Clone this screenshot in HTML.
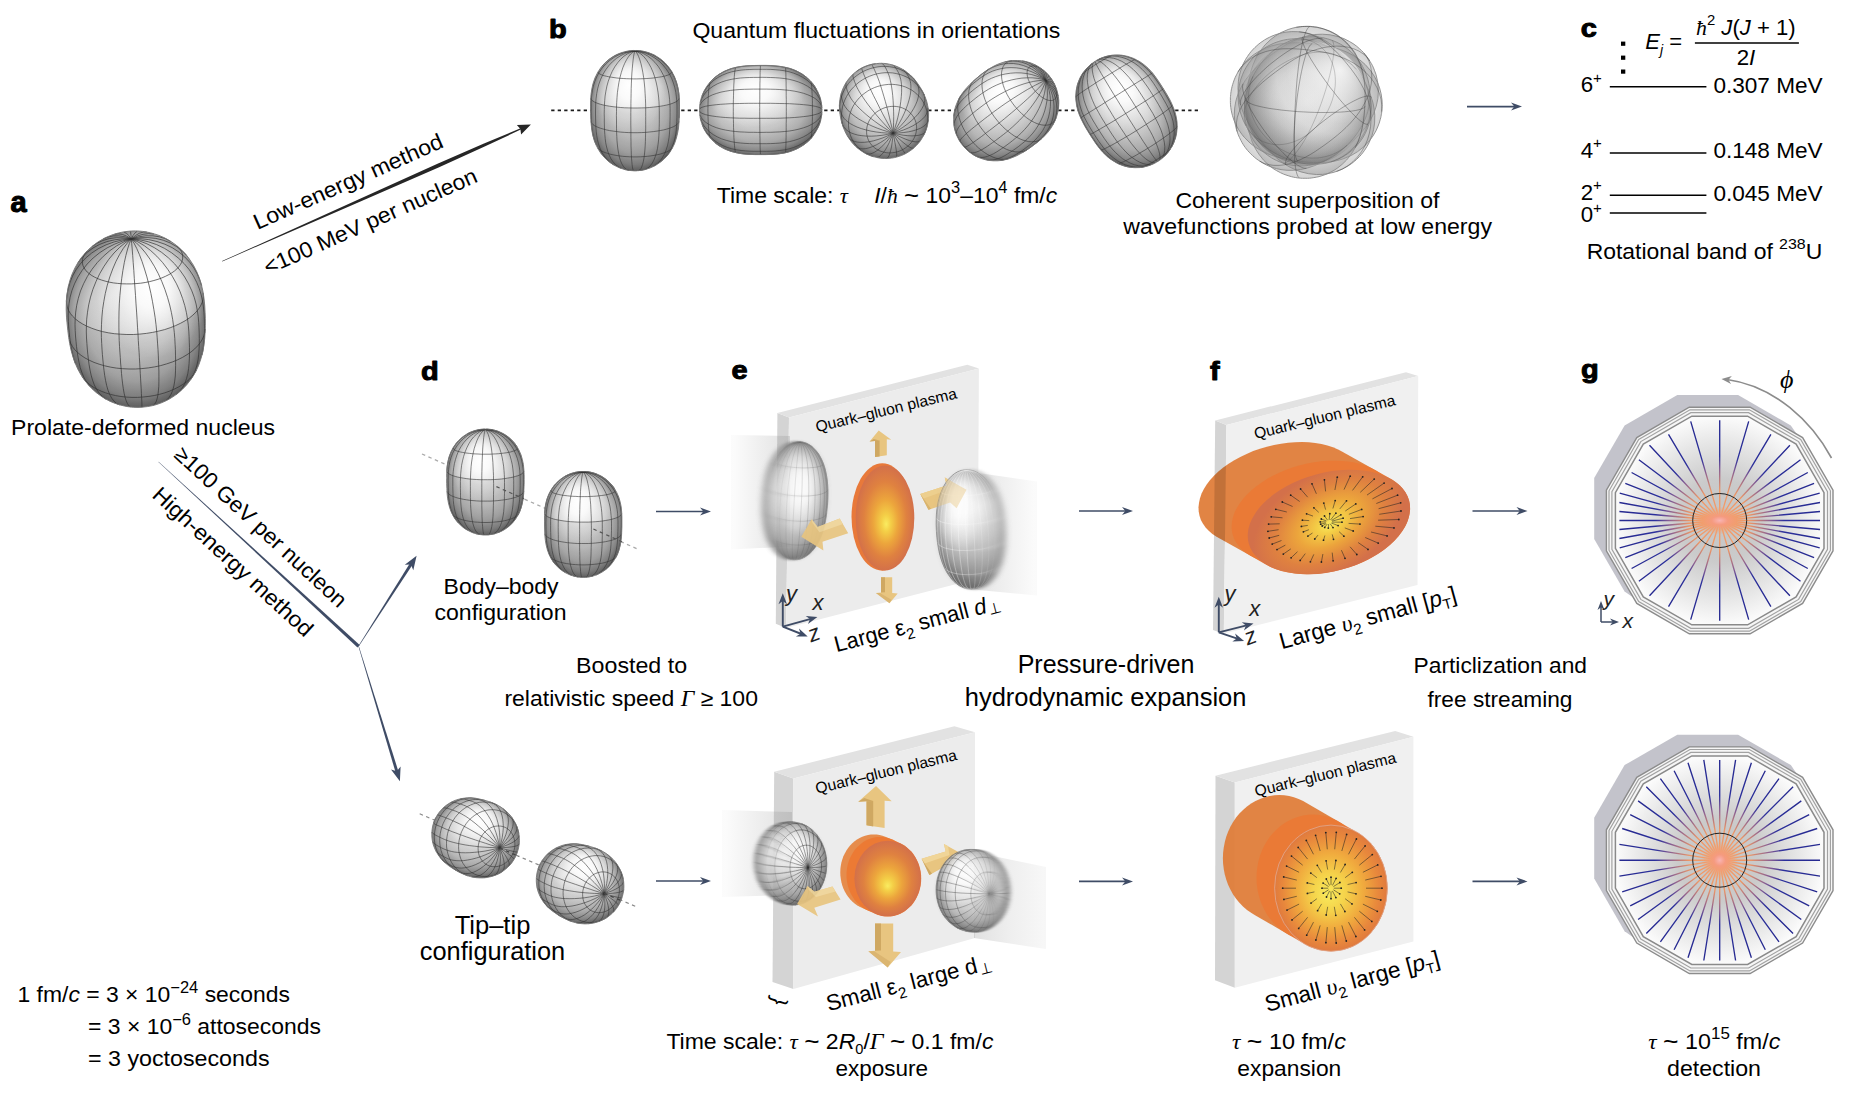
<!DOCTYPE html>
<html><head><meta charset="utf-8"><title>Imaging nuclear shapes in high-energy collisions</title>
<style>
html,body{margin:0;padding:0;background:#fff;}
body{width:1864px;height:1104px;overflow:hidden;}
svg{display:block;font-family:"Liberation Sans", sans-serif;}
</style></head><body>
<svg width="1864" height="1104" viewBox="0 0 1864 1104">
<defs>
<radialGradient id="e1" gradientUnits="userSpaceOnUse" cx="0" cy="0" r="1.02" gradientTransform="translate(136.1 318.9) rotate(-93.4) scale(89.3 71)"><stop offset="0" stop-color="#e6e6e6"/><stop offset="0.42" stop-color="#dedede"/><stop offset="0.68" stop-color="#c8c8c8"/><stop offset="0.87" stop-color="#a2a2a2"/><stop offset="1" stop-color="#747474"/></radialGradient>
<radialGradient id="e1h" gradientUnits="userSpaceOnUse" cx="0" cy="0" r="1" gradientTransform="translate(151.7 286.8) rotate(-93.4) scale(71.4 56.8)"><stop offset="0" stop-color="#fff" stop-opacity="1.0"/><stop offset="0.3" stop-color="#fff" stop-opacity="0.85"/><stop offset="0.6" stop-color="#fff" stop-opacity="0.40"/><stop offset="1" stop-color="#fff" stop-opacity="0"/></radialGradient>
<linearGradient id="e1s" gradientUnits="userSpaceOnUse" x1="114.8" y1="229.7" x2="157.4" y2="408.2"><stop offset="0.35" stop-color="#000" stop-opacity="0"/><stop offset="1" stop-color="#000" stop-opacity="0.2"/></linearGradient>
<path id="e1p" d="M66.2 308.1L66.4 300.3L66.9 295L68.2 286.9L70.1 279.8L71.9 274.6L75 267.8L77.7 263L81.3 257.7L85.3 252.9L89 249.1L93.6 245.2L97.7 242.2L101.1 240.1L105.9 237.5L110.1 235.7L113.1 234.6L117.2 233.3L121.1 232.4L124.2 231.8L128.2 231.3L131.4 231L135.5 230.9L139.5 231.1L142.6 231.4L146.6 232L150.8 232.9L154.4 233.9L158.9 235.4L163.3 237.3L166.9 239.1L172 242.2L176.3 245.3L181 249.4L185.4 253.9L188.8 258.2L193.4 265.2L196.8 271.8L198.9 276.9L201.4 284.7L203 291.7L203.9 297.6L204.7 305.1L205.1 312.5L205.3 318.7L205.3 325.8L205.2 331.4L204.7 338.6L203.8 346L202.8 351.8L201 358.5L198.7 365.2L196.5 370.1L193.4 375.7L189.4 381.4L186.5 385.1L182.2 389.5L177.6 393.5L174 396.1L169.4 399L165.6 401L160.8 403.1L156 404.7L151.9 405.8L147.4 406.6L142.2 407.2L138 407.4L133.5 407.3L128.1 406.7L124.3 406L119.1 404.7L115.2 403.4L110.2 401.4L105.1 398.7L101.3 396.3L96.4 392.7L91.7 388.5L88.1 384.6L84.1 379.6L80.6 374.2L77.7 368.9L74.9 362.5L72.7 355.9L71.1 350.3L69.7 343.7L68.7 337.6L67.8 330.5L67 322.8L66.5 317.2L66.2 309.7Z"/>
<clipPath id="e1c"><use href="#e1p"/></clipPath>
<radialGradient id="e2" gradientUnits="userSpaceOnUse" cx="0" cy="0" r="1.02" gradientTransform="translate(635 110.7) rotate(-90) scale(60.8 46)"><stop offset="0" stop-color="#e6e6e6"/><stop offset="0.42" stop-color="#dedede"/><stop offset="0.68" stop-color="#c8c8c8"/><stop offset="0.87" stop-color="#a2a2a2"/><stop offset="1" stop-color="#747474"/></radialGradient>
<radialGradient id="e2h" gradientUnits="userSpaceOnUse" cx="0" cy="0" r="1" gradientTransform="translate(629.5 85.1) rotate(-90) scale(48.6 36.8)"><stop offset="0" stop-color="#fff" stop-opacity="1.0"/><stop offset="0.3" stop-color="#fff" stop-opacity="0.85"/><stop offset="0.6" stop-color="#fff" stop-opacity="0.40"/><stop offset="1" stop-color="#fff" stop-opacity="0"/></radialGradient>
<linearGradient id="e2s" gradientUnits="userSpaceOnUse" x1="621.2" y1="49.9" x2="648.8" y2="171.4"><stop offset="0.35" stop-color="#000" stop-opacity="0"/><stop offset="1" stop-color="#000" stop-opacity="0.2"/></linearGradient>
<path id="e2p" d="M590.5 106.8L590.6 100.6L591 94.5L591.8 89.1L593 83.6L594.9 78.1L597.5 72.8L600.8 67.6L604.9 63L608.6 59.7L612.6 56.9L615.7 55.1L618.7 53.7L622.1 52.5L624.2 51.9L626.2 51.4L628 51.1L629.6 50.8L630.5 50.7L632.1 50.6L632.9 50.6L633.9 50.5L634.9 50.5L636.1 50.5L636.9 50.5L637.7 50.6L639.1 50.7L640 50.8L641.7 51L642.7 51.2L644.6 51.6L648 52.5L651.2 53.7L654.4 55.2L657.3 56.8L661.4 59.6L665.1 62.9L669.1 67.6L671.8 71.6L674.6 77L676.6 82.5L678 88L679 94.4L679.3 99.6L679.5 105.5L679.4 111.3L679.3 117L679 121.9L678.5 127.9L677.6 133.1L676.3 138.4L674.5 143.7L672.4 148L669.9 152.2L667 156L663.6 159.5L661 161.7L656.8 164.6L654.4 166L651.2 167.5L648.8 168.4L646.3 169.2L644.4 169.7L642.1 170.2L640.3 170.4L638.3 170.6L636.2 170.8L634.3 170.8L632.5 170.7L630.2 170.5L628.4 170.2L626.1 169.8L623.8 169.2L621.4 168.5L618.9 167.6L616.5 166.4L613.3 164.7L610.2 162.6L607.5 160.5L604 157.1L600.9 153.4L598.3 149.3L596.1 145.1L594.1 139.8L592.6 134.5L591.9 130.4L591.2 124.4L590.8 119.4L590.6 113.7L590.5 108Z"/>
<clipPath id="e2c"><use href="#e2p"/></clipPath>
<radialGradient id="e3" gradientUnits="userSpaceOnUse" cx="0" cy="0" r="1.02" gradientTransform="translate(760.7 110) rotate(180) scale(61.8 46.2)"><stop offset="0" stop-color="#e6e6e6"/><stop offset="0.42" stop-color="#dedede"/><stop offset="0.68" stop-color="#c8c8c8"/><stop offset="0.87" stop-color="#a2a2a2"/><stop offset="1" stop-color="#747474"/></radialGradient>
<radialGradient id="e3h" gradientUnits="userSpaceOnUse" cx="0" cy="0" r="1" gradientTransform="translate(755.2 90.6) rotate(180) scale(49.4 37)"><stop offset="0" stop-color="#fff" stop-opacity="1.0"/><stop offset="0.3" stop-color="#fff" stop-opacity="0.85"/><stop offset="0.6" stop-color="#fff" stop-opacity="0.40"/><stop offset="1" stop-color="#fff" stop-opacity="0"/></radialGradient>
<linearGradient id="e3s" gradientUnits="userSpaceOnUse" x1="746.8" y1="63.8" x2="774.6" y2="156.3"><stop offset="0.35" stop-color="#000" stop-opacity="0"/><stop offset="1" stop-color="#000" stop-opacity="0.2"/></linearGradient>
<path id="e3p" d="M699.5 109.8L699.5 108.8L699.6 108L699.6 106.9L699.7 105.9L699.9 104.1L700 103.4L700.3 101.7L700.8 99.8L701.6 96.7L702.9 93.5L704.3 90.5L706.8 86.3L709.7 82.5L714.1 78L719 74.3L724.3 71.3L731 68.6L737.7 66.9L744.2 66L748 65.7L754.1 65.5L760.1 65.4L766 65.4L770.8 65.5L777.1 66L783.6 66.9L790.4 68.5L795.8 70.6L802.3 74.1L807.2 77.8L812.6 83.4L814.5 86L817.7 91.5L819.6 96.1L820.6 99.3L821 101.1L821.4 103L821.6 104.7L821.8 106.3L821.8 106.7L821.9 107.1L821.9 108.5L821.9 109L822 109.5L822 110.3L821.9 110.9L821.9 111.5L821.9 112.9L821.8 113.5L821.8 113.9L821.6 115.6L821.3 117.4L820.6 120.6L819.7 123.8L818.4 127L815.4 132.6L811.7 137.7L808.4 141.2L803.5 145L797.1 148.8L790.3 151.5L785 152.9L778.4 153.9L772 154.4L766 154.6L761.2 154.6L755.3 154.6L749.2 154.4L742.9 153.9L737.7 153.1L731 151.4L725.5 149.3L719 145.8L715.3 143L711.8 139.8L706.8 133.8L704.3 129.6L702.8 126.4L701.7 123.3L700.7 120.1L700.3 118.3L700 116.6L699.9 116L699.7 114.2L699.7 113.5L699.6 112.7L699.6 111.6L699.5 111L699.5 110.2Z"/>
<radialGradient id="e4" gradientUnits="userSpaceOnUse" cx="0" cy="0" r="1.02" gradientTransform="translate(883.7 111) rotate(-113) scale(48.3 43.8)"><stop offset="0" stop-color="#e6e6e6"/><stop offset="0.42" stop-color="#dedede"/><stop offset="0.68" stop-color="#c8c8c8"/><stop offset="0.87" stop-color="#a2a2a2"/><stop offset="1" stop-color="#747474"/></radialGradient>
<radialGradient id="e4h" gradientUnits="userSpaceOnUse" cx="0" cy="0" r="1" gradientTransform="translate(878.5 91) rotate(-113) scale(38.6 35)"><stop offset="0" stop-color="#fff" stop-opacity="1.0"/><stop offset="0.3" stop-color="#fff" stop-opacity="0.85"/><stop offset="0.6" stop-color="#fff" stop-opacity="0.40"/><stop offset="1" stop-color="#fff" stop-opacity="0"/></radialGradient>
<linearGradient id="e4s" gradientUnits="userSpaceOnUse" x1="870.6" y1="63.4" x2="896.9" y2="158.7"><stop offset="0.35" stop-color="#000" stop-opacity="0"/><stop offset="1" stop-color="#000" stop-opacity="0.2"/></linearGradient>
<path id="e4p" d="M839.4 105.9L839.5 103L839.9 99.5L840.3 97.1L841 94.3L842 91L843.3 87.8L844.7 85L846.4 82.1L847.7 80.2L849.8 77.6L852.6 74.6L855 72.5L858.3 70.1L861.9 68L864.6 66.7L868.5 65.3L872.4 64.2L876.5 63.6L879.7 63.3L883.8 63.4L886.1 63.6L889.4 64.2L892.7 65L895.9 66.1L899.1 67.5L902.2 69.1L905.2 70.9L907.5 72.7L910.2 74.9L912.3 77L914.3 79.2L916.2 81.5L917.3 83L918.7 85L920.3 87.5L921.6 89.6L922.8 91.8L924.1 94.5L924.9 96.4L925.8 98.8L926.8 101.8L927.6 105.3L928.2 108.4L928.6 112.5L928.6 115L928.5 118.6L928.1 122.1L927.4 125.6L926.4 129L925.2 132.2L924.2 134.4L922.5 137.4L920.4 140.8L918.3 143.4L916.1 145.8L913.2 148.5L910.9 150.3L908.3 152L904.9 154L901.3 155.6L897.5 156.8L894.5 157.6L891.6 158.1L887.7 158.4L884.4 158.5L880.4 158.2L877.2 157.6L872.9 156.5L870.6 155.7L866.9 154.2L863.8 152.5L861.3 150.9L858.4 148.8L855.7 146.5L853.9 144.7L851.5 141.9L849.1 138.6L847.4 136L845.9 133.3L844.6 130.5L843.6 128.1L842.8 125.7L841.7 122.4L841.1 120.1L840.5 117.1L840.1 114.8L839.8 112.9L839.5 109.9L839.4 107Z"/>
<radialGradient id="e5" gradientUnits="userSpaceOnUse" cx="0" cy="0" r="1.02" gradientTransform="translate(1006.2 110.8) rotate(142.4) scale(56.1 45)"><stop offset="0" stop-color="#e6e6e6"/><stop offset="0.42" stop-color="#dedede"/><stop offset="0.68" stop-color="#c8c8c8"/><stop offset="0.87" stop-color="#a2a2a2"/><stop offset="1" stop-color="#747474"/></radialGradient>
<radialGradient id="e5h" gradientUnits="userSpaceOnUse" cx="0" cy="0" r="1" gradientTransform="translate(1000.8 90) rotate(142.4) scale(44.9 36)"><stop offset="0" stop-color="#fff" stop-opacity="1.0"/><stop offset="0.3" stop-color="#fff" stop-opacity="0.85"/><stop offset="0.6" stop-color="#fff" stop-opacity="0.40"/><stop offset="1" stop-color="#fff" stop-opacity="0"/></radialGradient>
<linearGradient id="e5s" gradientUnits="userSpaceOnUse" x1="992.7" y1="61.3" x2="1019.7" y2="160.2"><stop offset="0.35" stop-color="#000" stop-opacity="0"/><stop offset="1" stop-color="#000" stop-opacity="0.2"/></linearGradient>
<path id="e5p" d="M953.6 118.8L953.8 115L954.3 112L955.2 107.8L956.2 104.9L957.9 100.8L959.4 97.7L961.8 94L964.4 90.5L966.8 87.7L970 84.3L972.5 81.9L975.9 78.9L978.8 76.4L982.4 73.5L986.2 70.8L989.3 68.7L994.1 66L997.7 64.3L1002.1 62.7L1005.4 61.7L1010 60.9L1014.1 60.5L1017.5 60.5L1021.5 60.8L1024.9 61.3L1028.6 62.3L1031.1 63.1L1034.5 64.5L1037.2 65.9L1039.3 67.2L1042 69.1L1043.7 70.4L1045.7 72.2L1047.2 73.7L1049 75.7L1050.7 77.9L1051.9 79.7L1053.3 82L1054.3 83.8L1055.4 86.3L1056.3 88.4L1057.2 91.2L1057.9 94.2L1058.4 96.8L1058.8 100.4L1058.8 103.2L1058.6 107L1058.1 111L1057.3 114.3L1056.1 118.2L1054.7 121.4L1052.5 125.6L1050.7 128.5L1047.6 132.6L1044.5 135.9L1041.8 138.6L1038.2 141.7L1035.3 143.9L1031.7 146.6L1028.5 148.8L1023.9 151.8L1019.9 154L1017 155.6L1012.7 157.4L1009.5 158.6L1005.2 159.7L1001.9 160.4L997.5 160.8L993.4 160.8L990.1 160.5L986.5 160L983.4 159.2L980.1 158.1L977.4 157L974.3 155.4L971.5 153.6L969.4 152L967 150L965.1 148.1L962.8 145.5L961.1 143.3L959.2 140.4L957.8 137.7L956.6 135.2L955.5 132.1L954.8 129.5L954.1 126.1L953.7 123.3L953.6 119.5Z"/>
<radialGradient id="e6" gradientUnits="userSpaceOnUse" cx="0" cy="0" r="1.02" gradientTransform="translate(1126.5 111.4) rotate(-121.9) scale(59.7 44.8)"><stop offset="0" stop-color="#e6e6e6"/><stop offset="0.42" stop-color="#dedede"/><stop offset="0.68" stop-color="#c8c8c8"/><stop offset="0.87" stop-color="#a2a2a2"/><stop offset="1" stop-color="#747474"/></radialGradient>
<radialGradient id="e6h" gradientUnits="userSpaceOnUse" cx="0" cy="0" r="1" gradientTransform="translate(1121.1 87.9) rotate(-121.9) scale(47.7 35.9)"><stop offset="0" stop-color="#fff" stop-opacity="1.0"/><stop offset="0.3" stop-color="#fff" stop-opacity="0.85"/><stop offset="0.6" stop-color="#fff" stop-opacity="0.40"/><stop offset="1" stop-color="#fff" stop-opacity="0"/></radialGradient>
<linearGradient id="e6s" gradientUnits="userSpaceOnUse" x1="1113" y1="55.4" x2="1139.9" y2="167.3"><stop offset="0.35" stop-color="#000" stop-opacity="0"/><stop offset="1" stop-color="#000" stop-opacity="0.2"/></linearGradient>
<path id="e6p" d="M1075.7 97.2L1076.3 89.8L1077.6 83.9L1079.9 78.2L1082.2 74.2L1084.9 70.4L1087 68L1089.3 65.7L1090.6 64.5L1091.9 63.5L1092.4 63.2L1093.5 62.4L1093.9 62.1L1094.7 61.5L1095.5 61.1L1096.3 60.5L1096.7 60.3L1098.2 59.5L1098.5 59.4L1100.2 58.5L1103.2 57.4L1106.3 56.4L1110.9 55.4L1117.1 55L1121.7 55.2L1127.7 56.4L1133.3 58.3L1139.7 61.6L1144.3 64.9L1148.4 68.5L1152.8 73.3L1155.8 77.3L1159.2 82.2L1161.7 86.1L1164.8 91L1167.2 95L1170.1 100.2L1172.2 104.7L1174.6 110.7L1176 115.9L1177 121.6L1177.2 127.3L1176.6 133.2L1175.6 137.7L1173.5 143.4L1172.1 146.3L1169.6 150.3L1168.5 151.8L1166.4 154.3L1165.1 155.6L1163.8 156.9L1162.5 158L1162 158.5L1160.9 159.3L1160.3 159.8L1159.7 160.2L1158.7 160.9L1157.8 161.4L1156.9 162L1156.3 162.3L1155.4 162.9L1154.5 163.3L1153.4 163.9L1152.6 164.2L1151.1 164.8L1149.3 165.5L1147.7 166L1145.8 166.5L1142.7 167.2L1139.4 167.6L1134.8 167.7L1130.2 167.3L1125.7 166.4L1120 164.5L1117.3 163.3L1111.2 159.6L1107.8 157.1L1103 152.5L1099.6 148.6L1095.9 143.7L1093.3 139.8L1090.1 134.9L1087.7 131L1085.3 127L1083.6 123.9L1080.8 118.3L1079.3 114.8L1077.6 109.7L1076.6 105.7L1075.8 98.6Z"/>
<radialGradient id="e7" gradientUnits="userSpaceOnUse" cx="0" cy="0" r="1.02" gradientTransform="translate(1306 102.3) rotate(-87.2) scale(76.7 60.7)"><stop offset="0" stop-color="#e2e2e2"/><stop offset="0.5" stop-color="#d2d2d2"/><stop offset="0.82" stop-color="#aeaeae"/><stop offset="1" stop-color="#828282"/></radialGradient>
<path id="e7p" d="M1246.7 107.3L1246.9 99.5L1247.3 93.3L1248.1 85.4L1249.1 78.8L1250.6 72.2L1252.8 65.4L1256.4 57.1L1259.3 52.2L1265.1 44.8L1270.8 39.4L1275.6 35.8L1280.7 32.7L1288.1 29.5L1292 28.3L1296.1 27.3L1300.3 26.7L1302.4 26.5L1304.7 26.4L1306.7 26.3L1307.2 26.3L1308.3 26.3L1309.8 26.4L1310.5 26.4L1311.2 26.5L1312 26.5L1312.6 26.6L1314.8 26.9L1317.3 27.2L1319.5 27.7L1323.5 28.8L1329.2 30.8L1333 32.6L1338.2 35.6L1344.5 40.5L1348.7 44.6L1354.6 52.2L1358.3 58.9L1361.1 65.7L1363.1 72.7L1364.6 81.2L1365.1 86.4L1365.4 94.4L1365.3 102.3L1364.9 108.5L1364.3 114.9L1363.5 121.2L1362 129.1L1360.2 135.9L1357.7 142.6L1354.4 149.2L1350.3 155.5L1346.6 160L1342.2 164.3L1337.7 167.9L1334.1 170.3L1330 172.5L1325.9 174.4L1322 175.7L1319.1 176.6L1316.3 177.2L1313.9 177.6L1311.3 178L1309.5 178.2L1307.6 178.3L1305.9 178.3L1304.1 178.3L1302.6 178.3L1300.8 178.2L1299 178L1297.6 177.9L1295.4 177.5L1293.6 177.2L1291.5 176.7L1288.8 175.9L1286 175L1283.5 174.1L1280.7 172.8L1276.7 170.7L1273.1 168.5L1268 164.5L1263.6 160.2L1258.9 154.2L1255.6 149.1L1252.4 142.3L1250.5 137.1L1248.7 130.1L1247.4 121.9L1246.9 115.4L1246.7 108.9Z"/>
<radialGradient id="e8" gradientUnits="userSpaceOnUse" cx="0" cy="0" r="1.02" gradientTransform="translate(1306.3 102.4) rotate(143.1) scale(76.5 60.7)"><stop offset="0" stop-color="#e2e2e2"/><stop offset="0.5" stop-color="#d2d2d2"/><stop offset="0.82" stop-color="#aeaeae"/><stop offset="1" stop-color="#828282"/></radialGradient>
<path id="e8p" d="M1234.3 114.1L1234.7 108L1235.7 101.9L1236.8 97.7L1238.7 92.3L1242 85.6L1245.8 79.5L1250.2 73.9L1253.7 70L1259.4 64.4L1264.4 60.1L1269.2 56.3L1275.4 51.7L1280.8 48L1287.7 43.7L1293.9 40.6L1302 37.4L1309.1 35.5L1314.8 34.5L1322.5 34.2L1330.3 34.8L1338 36.6L1343.8 38.6L1349.3 41.4L1353 43.6L1356.5 46.1L1359.6 48.8L1361.3 50.4L1363 52L1363.6 52.7L1364.9 54.3L1365.6 55L1366.2 55.8L1366.9 56.8L1367.8 57.9L1368.4 58.8L1368.8 59.4L1369.8 61L1370.2 61.7L1371.4 63.7L1372.5 65.7L1373.5 67.9L1374.4 70.2L1375.9 74.2L1377.3 80.2L1378 84.3L1378.3 92.3L1377.9 98.4L1376.3 106.1L1373.8 113.3L1370.4 120.1L1365.5 127.5L1362 131.7L1356.3 137.7L1351.3 142.2L1345.2 147.2L1339 151.7L1332.4 156.2L1325.6 160.3L1321 162.7L1314.7 165.6L1307.9 167.9L1300.7 169.5L1293.3 170.3L1287.1 170.3L1281 169.6L1276.7 168.7L1270.9 166.9L1266.6 165.1L1262.3 162.8L1258.6 160.4L1256.1 158.6L1254.2 157L1252.6 155.6L1250.7 153.8L1249.2 152.2L1247.7 150.6L1246.4 149L1245.1 147.3L1244.2 146L1243 144.2L1241.9 142.3L1240.9 140.4L1239.5 137.6L1238.3 134.9L1237.3 132L1236.4 129.4L1235.4 125.1L1234.7 120.6L1234.4 115.9Z"/>
<radialGradient id="e9" gradientUnits="userSpaceOnUse" cx="0" cy="0" r="1.02" gradientTransform="translate(1306.3 102.6) rotate(-173.2) scale(76.7 60.7)"><stop offset="0" stop-color="#e2e2e2"/><stop offset="0.5" stop-color="#d2d2d2"/><stop offset="0.82" stop-color="#aeaeae"/><stop offset="1" stop-color="#828282"/></radialGradient>
<path id="e9p" d="M1230.4 100.4L1230.4 97.8L1230.5 96.4L1230.7 94.6L1230.8 93.2L1231.1 91.3L1231.3 89.9L1231.7 88.2L1232.1 86.4L1232.6 84.7L1233.4 82.2L1234.2 79.9L1235.3 77.2L1236.5 74.8L1238.6 70.9L1240.1 68.6L1243.8 63.8L1246.7 60.6L1249.9 57.7L1254.5 54.1L1259.7 50.9L1266.5 47.7L1271.9 45.8L1279 44.1L1285.7 43.2L1292.6 42.8L1299 42.8L1305.5 43.2L1311.7 43.7L1319.4 44.7L1327.2 46L1333.6 47.5L1340.2 49.5L1346.7 52L1353.3 55.4L1359.4 59.5L1365.2 64.5L1370.3 70.3L1374.7 76.8L1377.4 82.2L1379.6 87.9L1381.1 93.8L1382 99.9L1382.2 104L1382.2 104.4L1382.1 106.8L1382 108.8L1381.9 110L1381.8 111.1L1381.7 111.9L1381.6 113.3L1381.4 114.1L1381 116.5L1380.9 117.1L1380.3 119.3L1379.2 123.1L1377.7 127L1376 130.8L1372.9 136.1L1369.3 140.9L1363.9 146.7L1357.7 151.6L1351.2 155.5L1342.5 159.1L1335.5 161L1328.4 162.2L1321.6 162.6L1313.4 162.6L1308.4 162.3L1300.6 161.5L1292.9 160.5L1286.8 159.4L1280.3 157.9L1274 156.1L1267.4 153.7L1261.1 150.7L1254.8 146.8L1250.3 143.3L1244.6 137.7L1241.9 134.4L1238.4 129.3L1235.5 123.9L1233.9 120L1232.5 115.7L1231.8 113.1L1231.2 110.1L1230.8 107.6L1230.5 104.8L1230.4 102.5L1230.4 100.8Z"/>
<radialGradient id="e10" gradientUnits="userSpaceOnUse" cx="0" cy="0" r="1.02" gradientTransform="translate(1306.3 102.9) rotate(-128.5) scale(76.3 60.7)"><stop offset="0" stop-color="#e2e2e2"/><stop offset="0.5" stop-color="#d2d2d2"/><stop offset="0.82" stop-color="#aeaeae"/><stop offset="1" stop-color="#828282"/></radialGradient>
<path id="e10p" d="M1238 87.3L1238.4 81.2L1239.1 76.4L1240.7 70.5L1241.7 67.6L1243.5 63.3L1245.6 59.4L1247.4 56.6L1249.5 53.5L1251.4 51.2L1253.3 49.1L1255 47.4L1256.9 45.7L1258.8 44L1260.9 42.4L1263 41L1264.6 39.9L1267 38.5L1269.2 37.4L1272 36.1L1275 34.9L1279.1 33.6L1282.5 32.7L1287 32L1291.8 31.6L1297.9 31.7L1304 32.4L1310 33.8L1315.7 35.8L1320.8 38.1L1327.1 41.8L1331.8 45.1L1338 50.3L1342.8 55L1348 60.7L1351.2 64.4L1356 70.4L1360.5 76.7L1364.2 82.4L1367.6 88.5L1370.5 95.1L1372.8 102.1L1374.2 109.2L1374.8 115.3L1374.6 123.1L1373.7 129.2L1372.1 135.2L1369.1 142.7L1367 146.5L1364.5 150.4L1362.8 152.7L1361.2 154.7L1359.6 156.5L1358 158L1356.9 159.1L1356.2 159.8L1354.7 161.1L1353.6 162L1352.6 162.8L1351.4 163.7L1349.9 164.7L1348.9 165.4L1348 165.9L1346.1 167.1L1344.2 168.1L1341.9 169.3L1339.5 170.3L1337.2 171.2L1333 172.5L1327 173.8L1322.5 174.4L1316.3 174.5L1308.5 173.7L1301 171.9L1295.6 169.9L1288.8 166.6L1282.6 162.7L1277 158.3L1272 153.6L1266.5 147.7L1263.3 143.9L1258.6 137.9L1254.1 131.8L1250.4 126.3L1247 120.5L1243.5 113.2L1241.5 108.1L1239.8 102.4L1238.5 95.2L1238 89.1Z"/>
<radialGradient id="e11" gradientUnits="userSpaceOnUse" cx="0" cy="0" r="1.02" gradientTransform="translate(1307 101.3) rotate(-53.1) scale(66.9 59.8)"><stop offset="0" stop-color="#e2e2e2"/><stop offset="0.5" stop-color="#d2d2d2"/><stop offset="0.82" stop-color="#aeaeae"/><stop offset="1" stop-color="#828282"/></radialGradient>
<path id="e11p" d="M1244.3 109.2L1244.5 104.5L1244.9 100.4L1245.6 96.3L1246.6 92.2L1247.8 88.2L1249.3 84.2L1251 80.3L1252.6 77L1254.6 73.3L1256.5 70.1L1258.6 66.9L1261.1 63.4L1263.8 60L1266.7 56.8L1268.9 54.6L1272.1 51.6L1275.6 48.9L1279.5 46.2L1283.3 44L1287.6 41.9L1291.5 40.3L1296 38.8L1300.5 37.8L1305 37.1L1309.5 36.7L1314 36.7L1318.4 37L1322.6 37.6L1327.5 38.8L1331.4 40L1336 41.9L1340.5 44.1L1343.8 46.1L1347.8 49L1351.5 52.2L1354.3 55L1357.5 58.8L1360 62.1L1362.6 66.4L1364.5 70.2L1366.2 74.2L1367.8 79L1368.8 83.3L1369.6 87.8L1370 93.2L1369.9 97.9L1369.5 102.5L1368.9 106.8L1367.8 111.4L1366.5 115.6L1364.9 119.7L1363 123.7L1360.9 127.5L1358.6 131.3L1356.1 134.8L1353.5 138.2L1351 141.1L1348.5 143.8L1345.4 146.8L1342.7 149.3L1339.4 151.9L1336 154.5L1332.5 156.8L1328.9 158.8L1325.1 160.7L1321.3 162.2L1316.8 163.7L1312.3 164.8L1308.4 165.4L1303.9 165.9L1299.3 165.9L1294 165.6L1289.7 164.9L1285.4 163.9L1280.4 162.2L1276.5 160.5L1271.8 158.1L1267.4 155.1L1263.2 151.8L1259.5 148.1L1256.1 144L1253.6 140.6L1251.4 136.8L1249 132.1L1247.4 127.9L1246.1 123.6L1245.2 119.1L1244.6 114.5L1244.3 110.5Z"/>
<radialGradient id="e12" gradientUnits="userSpaceOnUse" cx="0" cy="0" r="1.02" gradientTransform="translate(1304.6 101.8) rotate(-149) scale(68.6 59.9)"><stop offset="0" stop-color="#e2e2e2"/><stop offset="0.5" stop-color="#d2d2d2"/><stop offset="0.82" stop-color="#aeaeae"/><stop offset="1" stop-color="#828282"/></radialGradient>
<path id="e12p" d="M1238.2 96.6L1238.3 92.5L1238.7 88.4L1239.6 83.9L1240.5 80.1L1242.5 74.7L1243.9 71.4L1246.1 67.4L1248.5 63.5L1250.7 60.7L1253.7 57.2L1256.9 53.9L1259.9 51.4L1263.2 49L1266.1 47.1L1270.8 44.6L1274.7 42.8L1278.8 41.4L1283.1 40.2L1287.2 39.4L1291.7 38.9L1296.3 38.7L1300.7 38.8L1305.2 39.3L1309.8 40.1L1315.2 41.5L1319.4 42.9L1323.6 44.6L1328.5 47L1332.4 49.2L1336.6 51.8L1340.2 54.3L1343.4 56.8L1346.5 59.3L1349.5 61.9L1353.3 65.6L1356.2 68.8L1358.9 72.2L1361.3 75.7L1363.6 79.4L1365.7 83.5L1367.3 87.4L1368.8 91.7L1369.9 96.1L1370.7 100.5L1371.2 105.6L1371.2 109.9L1370.8 114.9L1370.2 119.1L1368.9 124.3L1367.2 129L1365.2 133.6L1362.7 138L1359.8 142.1L1356.6 146L1352.8 149.7L1348.9 152.9L1345.4 155.3L1341.7 157.5L1337.7 159.4L1333.5 161.1L1329.2 162.4L1324.8 163.4L1320.7 163.9L1316.1 164.3L1310.6 164.2L1306.3 163.9L1301.2 163L1297 162.1L1292.8 160.9L1289 159.6L1285 158L1281.3 156.4L1277.7 154.6L1274.1 152.7L1269.5 149.9L1265.8 147.4L1262.4 144.9L1259 141.9L1255.7 138.8L1252.7 135.4L1249.8 131.8L1247.3 128.1L1245.1 124.2L1243.1 120.1L1241.2 115L1239.9 110.7L1239 106.4L1238.4 102.1L1238.2 97.8Z"/>
<radialGradient id="blobsh" gradientUnits="userSpaceOnUse" cx="1340" cy="70" r="128"><stop offset="0" stop-color="#fff" stop-opacity="0.8"/><stop offset="0.2" stop-color="#fff" stop-opacity="0.4"/><stop offset="0.42" stop-color="#fff" stop-opacity="0"/><stop offset="0.5" stop-color="#000" stop-opacity="0"/><stop offset="1" stop-color="#000" stop-opacity="0.3"/></radialGradient>
<radialGradient id="e13" gradientUnits="userSpaceOnUse" cx="0" cy="0" r="1.02" gradientTransform="translate(1306 102.3) rotate(-87.2) scale(76.7 60.7)"><stop offset="0" stop-color="#e2e2e2"/><stop offset="0.5" stop-color="#d2d2d2"/><stop offset="0.82" stop-color="#aeaeae"/><stop offset="1" stop-color="#828282"/></radialGradient>
<path id="e13p" d="M1246.7 107.3L1246.9 99.5L1247.3 93.3L1248.1 85.4L1249.1 78.8L1250.6 72.2L1252.8 65.4L1256.4 57.1L1259.3 52.2L1265.1 44.8L1270.8 39.4L1275.6 35.8L1280.7 32.7L1288.1 29.5L1292 28.3L1296.1 27.3L1300.3 26.7L1302.4 26.5L1304.7 26.4L1306.7 26.3L1307.2 26.3L1308.3 26.3L1309.8 26.4L1310.5 26.4L1311.2 26.5L1312 26.5L1312.6 26.6L1314.8 26.9L1317.3 27.2L1319.5 27.7L1323.5 28.8L1329.2 30.8L1333 32.6L1338.2 35.6L1344.5 40.5L1348.7 44.6L1354.6 52.2L1358.3 58.9L1361.1 65.7L1363.1 72.7L1364.6 81.2L1365.1 86.4L1365.4 94.4L1365.3 102.3L1364.9 108.5L1364.3 114.9L1363.5 121.2L1362 129.1L1360.2 135.9L1357.7 142.6L1354.4 149.2L1350.3 155.5L1346.6 160L1342.2 164.3L1337.7 167.9L1334.1 170.3L1330 172.5L1325.9 174.4L1322 175.7L1319.1 176.6L1316.3 177.2L1313.9 177.6L1311.3 178L1309.5 178.2L1307.6 178.3L1305.9 178.3L1304.1 178.3L1302.6 178.3L1300.8 178.2L1299 178L1297.6 177.9L1295.4 177.5L1293.6 177.2L1291.5 176.7L1288.8 175.9L1286 175L1283.5 174.1L1280.7 172.8L1276.7 170.7L1273.1 168.5L1268 164.5L1263.6 160.2L1258.9 154.2L1255.6 149.1L1252.4 142.3L1250.5 137.1L1248.7 130.1L1247.4 121.9L1246.9 115.4L1246.7 108.9Z"/>
<radialGradient id="e14" gradientUnits="userSpaceOnUse" cx="0" cy="0" r="1.02" gradientTransform="translate(1306.3 102.4) rotate(143.1) scale(76.5 60.7)"><stop offset="0" stop-color="#e2e2e2"/><stop offset="0.5" stop-color="#d2d2d2"/><stop offset="0.82" stop-color="#aeaeae"/><stop offset="1" stop-color="#828282"/></radialGradient>
<path id="e14p" d="M1234.3 114.1L1234.7 108L1235.7 101.9L1236.8 97.7L1238.7 92.3L1242 85.6L1245.8 79.5L1250.2 73.9L1253.7 70L1259.4 64.4L1264.4 60.1L1269.2 56.3L1275.4 51.7L1280.8 48L1287.7 43.7L1293.9 40.6L1302 37.4L1309.1 35.5L1314.8 34.5L1322.5 34.2L1330.3 34.8L1338 36.6L1343.8 38.6L1349.3 41.4L1353 43.6L1356.5 46.1L1359.6 48.8L1361.3 50.4L1363 52L1363.6 52.7L1364.9 54.3L1365.6 55L1366.2 55.8L1366.9 56.8L1367.8 57.9L1368.4 58.8L1368.8 59.4L1369.8 61L1370.2 61.7L1371.4 63.7L1372.5 65.7L1373.5 67.9L1374.4 70.2L1375.9 74.2L1377.3 80.2L1378 84.3L1378.3 92.3L1377.9 98.4L1376.3 106.1L1373.8 113.3L1370.4 120.1L1365.5 127.5L1362 131.7L1356.3 137.7L1351.3 142.2L1345.2 147.2L1339 151.7L1332.4 156.2L1325.6 160.3L1321 162.7L1314.7 165.6L1307.9 167.9L1300.7 169.5L1293.3 170.3L1287.1 170.3L1281 169.6L1276.7 168.7L1270.9 166.9L1266.6 165.1L1262.3 162.8L1258.6 160.4L1256.1 158.6L1254.2 157L1252.6 155.6L1250.7 153.8L1249.2 152.2L1247.7 150.6L1246.4 149L1245.1 147.3L1244.2 146L1243 144.2L1241.9 142.3L1240.9 140.4L1239.5 137.6L1238.3 134.9L1237.3 132L1236.4 129.4L1235.4 125.1L1234.7 120.6L1234.4 115.9Z"/>
<radialGradient id="e15" gradientUnits="userSpaceOnUse" cx="0" cy="0" r="1.02" gradientTransform="translate(1306.3 102.6) rotate(-173.2) scale(76.7 60.7)"><stop offset="0" stop-color="#e2e2e2"/><stop offset="0.5" stop-color="#d2d2d2"/><stop offset="0.82" stop-color="#aeaeae"/><stop offset="1" stop-color="#828282"/></radialGradient>
<path id="e15p" d="M1230.4 100.4L1230.4 97.8L1230.5 96.4L1230.7 94.6L1230.8 93.2L1231.1 91.3L1231.3 89.9L1231.7 88.2L1232.1 86.4L1232.6 84.7L1233.4 82.2L1234.2 79.9L1235.3 77.2L1236.5 74.8L1238.6 70.9L1240.1 68.6L1243.8 63.8L1246.7 60.6L1249.9 57.7L1254.5 54.1L1259.7 50.9L1266.5 47.7L1271.9 45.8L1279 44.1L1285.7 43.2L1292.6 42.8L1299 42.8L1305.5 43.2L1311.7 43.7L1319.4 44.7L1327.2 46L1333.6 47.5L1340.2 49.5L1346.7 52L1353.3 55.4L1359.4 59.5L1365.2 64.5L1370.3 70.3L1374.7 76.8L1377.4 82.2L1379.6 87.9L1381.1 93.8L1382 99.9L1382.2 104L1382.2 104.4L1382.1 106.8L1382 108.8L1381.9 110L1381.8 111.1L1381.7 111.9L1381.6 113.3L1381.4 114.1L1381 116.5L1380.9 117.1L1380.3 119.3L1379.2 123.1L1377.7 127L1376 130.8L1372.9 136.1L1369.3 140.9L1363.9 146.7L1357.7 151.6L1351.2 155.5L1342.5 159.1L1335.5 161L1328.4 162.2L1321.6 162.6L1313.4 162.6L1308.4 162.3L1300.6 161.5L1292.9 160.5L1286.8 159.4L1280.3 157.9L1274 156.1L1267.4 153.7L1261.1 150.7L1254.8 146.8L1250.3 143.3L1244.6 137.7L1241.9 134.4L1238.4 129.3L1235.5 123.9L1233.9 120L1232.5 115.7L1231.8 113.1L1231.2 110.1L1230.8 107.6L1230.5 104.8L1230.4 102.5L1230.4 100.8Z"/>
<radialGradient id="e16" gradientUnits="userSpaceOnUse" cx="0" cy="0" r="1.02" gradientTransform="translate(1306.3 102.9) rotate(-128.5) scale(76.3 60.7)"><stop offset="0" stop-color="#e2e2e2"/><stop offset="0.5" stop-color="#d2d2d2"/><stop offset="0.82" stop-color="#aeaeae"/><stop offset="1" stop-color="#828282"/></radialGradient>
<path id="e16p" d="M1238 87.3L1238.4 81.2L1239.1 76.4L1240.7 70.5L1241.7 67.6L1243.5 63.3L1245.6 59.4L1247.4 56.6L1249.5 53.5L1251.4 51.2L1253.3 49.1L1255 47.4L1256.9 45.7L1258.8 44L1260.9 42.4L1263 41L1264.6 39.9L1267 38.5L1269.2 37.4L1272 36.1L1275 34.9L1279.1 33.6L1282.5 32.7L1287 32L1291.8 31.6L1297.9 31.7L1304 32.4L1310 33.8L1315.7 35.8L1320.8 38.1L1327.1 41.8L1331.8 45.1L1338 50.3L1342.8 55L1348 60.7L1351.2 64.4L1356 70.4L1360.5 76.7L1364.2 82.4L1367.6 88.5L1370.5 95.1L1372.8 102.1L1374.2 109.2L1374.8 115.3L1374.6 123.1L1373.7 129.2L1372.1 135.2L1369.1 142.7L1367 146.5L1364.5 150.4L1362.8 152.7L1361.2 154.7L1359.6 156.5L1358 158L1356.9 159.1L1356.2 159.8L1354.7 161.1L1353.6 162L1352.6 162.8L1351.4 163.7L1349.9 164.7L1348.9 165.4L1348 165.9L1346.1 167.1L1344.2 168.1L1341.9 169.3L1339.5 170.3L1337.2 171.2L1333 172.5L1327 173.8L1322.5 174.4L1316.3 174.5L1308.5 173.7L1301 171.9L1295.6 169.9L1288.8 166.6L1282.6 162.7L1277 158.3L1272 153.6L1266.5 147.7L1263.3 143.9L1258.6 137.9L1254.1 131.8L1250.4 126.3L1247 120.5L1243.5 113.2L1241.5 108.1L1239.8 102.4L1238.5 95.2L1238 89.1Z"/>
<radialGradient id="e17" gradientUnits="userSpaceOnUse" cx="0" cy="0" r="1.02" gradientTransform="translate(1307 101.3) rotate(-53.1) scale(66.9 59.8)"><stop offset="0" stop-color="#e2e2e2"/><stop offset="0.5" stop-color="#d2d2d2"/><stop offset="0.82" stop-color="#aeaeae"/><stop offset="1" stop-color="#828282"/></radialGradient>
<path id="e17p" d="M1244.3 109.2L1244.5 104.5L1244.9 100.4L1245.6 96.3L1246.6 92.2L1247.8 88.2L1249.3 84.2L1251 80.3L1252.6 77L1254.6 73.3L1256.5 70.1L1258.6 66.9L1261.1 63.4L1263.8 60L1266.7 56.8L1268.9 54.6L1272.1 51.6L1275.6 48.9L1279.5 46.2L1283.3 44L1287.6 41.9L1291.5 40.3L1296 38.8L1300.5 37.8L1305 37.1L1309.5 36.7L1314 36.7L1318.4 37L1322.6 37.6L1327.5 38.8L1331.4 40L1336 41.9L1340.5 44.1L1343.8 46.1L1347.8 49L1351.5 52.2L1354.3 55L1357.5 58.8L1360 62.1L1362.6 66.4L1364.5 70.2L1366.2 74.2L1367.8 79L1368.8 83.3L1369.6 87.8L1370 93.2L1369.9 97.9L1369.5 102.5L1368.9 106.8L1367.8 111.4L1366.5 115.6L1364.9 119.7L1363 123.7L1360.9 127.5L1358.6 131.3L1356.1 134.8L1353.5 138.2L1351 141.1L1348.5 143.8L1345.4 146.8L1342.7 149.3L1339.4 151.9L1336 154.5L1332.5 156.8L1328.9 158.8L1325.1 160.7L1321.3 162.2L1316.8 163.7L1312.3 164.8L1308.4 165.4L1303.9 165.9L1299.3 165.9L1294 165.6L1289.7 164.9L1285.4 163.9L1280.4 162.2L1276.5 160.5L1271.8 158.1L1267.4 155.1L1263.2 151.8L1259.5 148.1L1256.1 144L1253.6 140.6L1251.4 136.8L1249 132.1L1247.4 127.9L1246.1 123.6L1245.2 119.1L1244.6 114.5L1244.3 110.5Z"/>
<radialGradient id="e18" gradientUnits="userSpaceOnUse" cx="0" cy="0" r="1.02" gradientTransform="translate(1304.6 101.8) rotate(-149) scale(68.6 59.9)"><stop offset="0" stop-color="#e2e2e2"/><stop offset="0.5" stop-color="#d2d2d2"/><stop offset="0.82" stop-color="#aeaeae"/><stop offset="1" stop-color="#828282"/></radialGradient>
<path id="e18p" d="M1238.2 96.6L1238.3 92.5L1238.7 88.4L1239.6 83.9L1240.5 80.1L1242.5 74.7L1243.9 71.4L1246.1 67.4L1248.5 63.5L1250.7 60.7L1253.7 57.2L1256.9 53.9L1259.9 51.4L1263.2 49L1266.1 47.1L1270.8 44.6L1274.7 42.8L1278.8 41.4L1283.1 40.2L1287.2 39.4L1291.7 38.9L1296.3 38.7L1300.7 38.8L1305.2 39.3L1309.8 40.1L1315.2 41.5L1319.4 42.9L1323.6 44.6L1328.5 47L1332.4 49.2L1336.6 51.8L1340.2 54.3L1343.4 56.8L1346.5 59.3L1349.5 61.9L1353.3 65.6L1356.2 68.8L1358.9 72.2L1361.3 75.7L1363.6 79.4L1365.7 83.5L1367.3 87.4L1368.8 91.7L1369.9 96.1L1370.7 100.5L1371.2 105.6L1371.2 109.9L1370.8 114.9L1370.2 119.1L1368.9 124.3L1367.2 129L1365.2 133.6L1362.7 138L1359.8 142.1L1356.6 146L1352.8 149.7L1348.9 152.9L1345.4 155.3L1341.7 157.5L1337.7 159.4L1333.5 161.1L1329.2 162.4L1324.8 163.4L1320.7 163.9L1316.1 164.3L1310.6 164.2L1306.3 163.9L1301.2 163L1297 162.1L1292.8 160.9L1289 159.6L1285 158L1281.3 156.4L1277.7 154.6L1274.1 152.7L1269.5 149.9L1265.8 147.4L1262.4 144.9L1259 141.9L1255.7 138.8L1252.7 135.4L1249.8 131.8L1247.3 128.1L1245.1 124.2L1243.1 120.1L1241.2 115L1239.9 110.7L1239 106.4L1238.4 102.1L1238.2 97.8Z"/>
<radialGradient id="e19" gradientUnits="userSpaceOnUse" cx="0" cy="0" r="1.02" gradientTransform="translate(485.4 482) rotate(-90) scale(53.5 40.1)"><stop offset="0" stop-color="#e6e6e6"/><stop offset="0.42" stop-color="#dedede"/><stop offset="0.68" stop-color="#c8c8c8"/><stop offset="0.87" stop-color="#a2a2a2"/><stop offset="1" stop-color="#747474"/></radialGradient>
<radialGradient id="e19h" gradientUnits="userSpaceOnUse" cx="0" cy="0" r="1" gradientTransform="translate(480.6 459.5) rotate(-90) scale(42.8 32.1)"><stop offset="0" stop-color="#fff" stop-opacity="1.0"/><stop offset="0.3" stop-color="#fff" stop-opacity="0.85"/><stop offset="0.6" stop-color="#fff" stop-opacity="0.40"/><stop offset="1" stop-color="#fff" stop-opacity="0"/></radialGradient>
<linearGradient id="e19s" gradientUnits="userSpaceOnUse" x1="473.4" y1="428.5" x2="497.4" y2="535.6"><stop offset="0.35" stop-color="#000" stop-opacity="0"/><stop offset="1" stop-color="#000" stop-opacity="0.2"/></linearGradient>
<path id="e19p" d="M446.7 477.6L446.7 473.3L447 467.9L447.6 463.2L449 457.2L450.8 452.4L453.2 447.7L456.2 443.2L458.2 441L462.2 437.2L465.7 434.7L468.4 433.2L471.2 431.9L474.1 430.8L475.9 430.3L477.6 429.9L479.3 429.6L480.8 429.3L481.6 429.2L482.4 429.2L483.7 429.1L484.4 429.1L485.3 429.1L486.2 429.1L486.9 429.1L487.8 429.1L489.3 429.3L490.1 429.3L491.6 429.6L493.3 429.9L495.2 430.4L498.2 431.3L501 432.5L503.8 433.9L507.4 436.3L510.7 439L513.7 442.2L516.2 445.4L518.9 450L521 454.8L522.4 459.7L523.4 464.5L523.9 470L524.1 474.5L524.1 479.6L524.1 484.5L523.9 489.5L523.7 493.9L523.1 499.2L522.2 503.8L520.9 508.5L519.4 512.4L517.6 515.8L515.4 519.4L512.7 522.7L509.7 525.7L507.1 527.8L504.3 529.7L501.5 531.2L498.7 532.4L496.6 533.2L494.6 533.8L493 534.1L491 534.5L489.4 534.7L487.7 534.9L486.1 534.9L484.8 534.9L483.2 534.9L481.6 534.7L479.9 534.5L478.3 534.2L476.3 533.8L474.3 533.2L472.2 532.5L469.4 531.2L466.6 529.7L463.8 527.9L461.2 525.8L458 522.6L455.3 519.3L453.1 515.7L451.3 512.2L449.6 507.5L448.4 502.8L447.6 498.2L447.1 493.7L446.9 488.6L446.7 483.6L446.7 478.7Z"/>
<clipPath id="e19c"><use href="#e19p"/></clipPath>
<radialGradient id="e20" gradientUnits="userSpaceOnUse" cx="0" cy="0" r="1.02" gradientTransform="translate(583.2 524.4) rotate(-90) scale(53.5 40.1)"><stop offset="0" stop-color="#e6e6e6"/><stop offset="0.42" stop-color="#dedede"/><stop offset="0.68" stop-color="#c8c8c8"/><stop offset="0.87" stop-color="#a2a2a2"/><stop offset="1" stop-color="#747474"/></radialGradient>
<radialGradient id="e20h" gradientUnits="userSpaceOnUse" cx="0" cy="0" r="1" gradientTransform="translate(578.4 501.9) rotate(-90) scale(42.8 32.1)"><stop offset="0" stop-color="#fff" stop-opacity="1.0"/><stop offset="0.3" stop-color="#fff" stop-opacity="0.85"/><stop offset="0.6" stop-color="#fff" stop-opacity="0.40"/><stop offset="1" stop-color="#fff" stop-opacity="0"/></radialGradient>
<linearGradient id="e20s" gradientUnits="userSpaceOnUse" x1="571.2" y1="470.9" x2="595.2" y2="578"><stop offset="0.35" stop-color="#000" stop-opacity="0"/><stop offset="1" stop-color="#000" stop-opacity="0.2"/></linearGradient>
<path id="e20p" d="M544.5 520L544.5 515.7L544.8 510.3L545.4 505.6L546.8 499.6L548.6 494.8L551 490.1L554 485.6L556 483.4L560 479.6L563.5 477.1L566.2 475.6L569 474.3L571.9 473.2L573.7 472.7L575.4 472.3L577.1 472L578.6 471.7L579.4 471.6L580.2 471.6L581.5 471.5L582.4 471.5L583.2 471.5L584 471.5L584.7 471.5L585.6 471.5L587.1 471.7L587.9 471.7L589.4 472L591.1 472.3L593 472.8L596 473.7L598.8 474.9L601.6 476.3L605.2 478.7L608.5 481.4L611.5 484.6L614 487.8L616.7 492.4L618.8 497.2L620.2 502.1L621.2 506.9L621.7 512.4L621.9 516.9L621.9 522L621.9 526.9L621.7 531.9L621.5 536.3L620.9 541.6L620 546.2L618.7 550.9L617.2 554.8L615.4 558.2L613.1 561.8L610.5 565.1L607.5 568.1L604.9 570.2L602.1 572.1L599.3 573.6L596.5 574.8L594.4 575.6L592.4 576.2L590.8 576.5L588.8 576.9L587.2 577.1L585.5 577.3L583.9 577.3L582.6 577.3L581 577.3L579.4 577.1L577.7 576.9L576.1 576.6L574.1 576.2L572.1 575.6L570 574.9L567.2 573.6L564.4 572.1L561.6 570.3L559 568.2L555.8 565L553.1 561.7L550.9 558.1L549.1 554.6L547.4 549.9L546.2 545.2L545.4 540.6L544.9 536.1L544.7 531L544.5 526L544.5 521.1Z"/>
<clipPath id="e20c"><use href="#e20p"/></clipPath>
<radialGradient id="e21" gradientUnits="userSpaceOnUse" cx="0" cy="0" r="1.02" gradientTransform="translate(475.8 837.6) rotate(-157.1) scale(44.8 38.8)"><stop offset="0" stop-color="#e6e6e6"/><stop offset="0.42" stop-color="#dedede"/><stop offset="0.68" stop-color="#c8c8c8"/><stop offset="0.87" stop-color="#a2a2a2"/><stop offset="1" stop-color="#747474"/></radialGradient>
<radialGradient id="e21h" gradientUnits="userSpaceOnUse" cx="0" cy="0" r="1" gradientTransform="translate(479.6 820.9) rotate(-157.1) scale(35.8 31)"><stop offset="0" stop-color="#fff" stop-opacity="1.0"/><stop offset="0.3" stop-color="#fff" stop-opacity="0.85"/><stop offset="0.6" stop-color="#fff" stop-opacity="0.40"/><stop offset="1" stop-color="#fff" stop-opacity="0"/></radialGradient>
<linearGradient id="e21s" gradientUnits="userSpaceOnUse" x1="464.1" y1="797.8" x2="487.4" y2="877.3"><stop offset="0.35" stop-color="#000" stop-opacity="0"/><stop offset="1" stop-color="#000" stop-opacity="0.2"/></linearGradient>
<path id="e21p" d="M431.8 834.4L431.9 831.6L432.3 828.2L433 824.8L434.1 821.4L435.5 818.2L437.2 815.2L439.2 812.3L441 810.2L443.4 807.7L445.6 805.8L448.4 803.8L451 802.3L453.6 801L456.4 799.9L458.5 799.3L461.5 798.6L464.1 798.2L467.2 797.9L469.9 797.8L472.6 798L475.3 798.2L477.9 798.7L480.2 799.2L482.4 799.7L484.6 800.3L486.4 800.8L488.7 801.5L491 802.3L493.6 803.3L496.2 804.5L498.7 805.8L501.2 807.3L503.5 809L506 811L508.7 813.6L510.8 815.9L512.6 818.5L514.1 820.8L515.6 823.5L516.8 826.3L517.8 829.1L518.6 832.4L519.1 835.3L519.3 838.1L519.4 840.6L519.2 844.2L518.6 847.5L517.8 850.7L516.8 853.9L515.4 857L513.7 859.9L511.9 862.7L509.8 865.2L507.8 867.2L505.7 869.1L503 871.1L500.6 872.7L497.9 874.1L495.1 875.3L492.2 876.3L489.3 877L486.2 877.6L483.1 877.9L480.2 877.9L476.5 877.7L473.3 877.2L470.5 876.6L467.7 875.8L465 874.8L462.4 873.7L460.2 872.7L457.8 871.4L456.1 870.4L454.1 869.2L452.9 868.5L451 867.3L448.4 865.5L446.3 863.8L444.2 862L441.7 859.5L440 857.4L438.2 854.9L436.6 852.3L435.4 850L434.2 847.2L433.2 844.4L432.4 841L432 838.1L431.8 835.3Z"/>
<radialGradient id="e22" gradientUnits="userSpaceOnUse" cx="0" cy="0" r="1.02" gradientTransform="translate(580.3 883.5) rotate(-157.1) scale(44.8 38.8)"><stop offset="0" stop-color="#e6e6e6"/><stop offset="0.42" stop-color="#dedede"/><stop offset="0.68" stop-color="#c8c8c8"/><stop offset="0.87" stop-color="#a2a2a2"/><stop offset="1" stop-color="#747474"/></radialGradient>
<radialGradient id="e22h" gradientUnits="userSpaceOnUse" cx="0" cy="0" r="1" gradientTransform="translate(584.1 866.8) rotate(-157.1) scale(35.8 31)"><stop offset="0" stop-color="#fff" stop-opacity="1.0"/><stop offset="0.3" stop-color="#fff" stop-opacity="0.85"/><stop offset="0.6" stop-color="#fff" stop-opacity="0.40"/><stop offset="1" stop-color="#fff" stop-opacity="0"/></radialGradient>
<linearGradient id="e22s" gradientUnits="userSpaceOnUse" x1="568.6" y1="843.7" x2="591.9" y2="923.3"><stop offset="0.35" stop-color="#000" stop-opacity="0"/><stop offset="1" stop-color="#000" stop-opacity="0.2"/></linearGradient>
<path id="e22p" d="M536.3 880.3L536.4 877.5L536.8 874.1L537.5 870.7L538.6 867.4L540 864.2L541.7 861.1L543.7 858.3L545.5 856.1L547.9 853.6L550.1 851.8L552.9 849.8L555.5 848.3L558.1 847L560.9 845.9L563 845.2L566 844.5L568.6 844.1L571.7 843.8L574.4 843.8L577.1 843.9L579.8 844.2L582.4 844.6L584.7 845.1L586.9 845.6L589.1 846.2L590.9 846.8L593.2 847.4L595.5 848.2L598.1 849.2L600.7 850.4L603.2 851.7L605.7 853.2L608 854.9L610.5 856.9L613.2 859.5L615.3 861.9L617.1 864.4L618.6 866.8L620.1 869.5L621.3 872.3L622.3 875.1L623.1 878.3L623.6 881.2L623.8 884.1L623.9 886.6L623.7 890.2L623.1 893.5L622.3 896.7L621.3 899.9L619.9 902.9L618.2 905.9L616.4 908.6L614.3 911.2L612.3 913.2L610.2 915.1L607.5 917.1L605.1 918.6L602.4 920L599.6 921.2L596.7 922.2L593.8 923L590.7 923.5L587.6 923.8L584.7 923.9L581 923.6L577.8 923.2L575 922.5L572.2 921.7L569.5 920.8L566.9 919.7L564.7 918.6L562.3 917.3L560.6 916.4L558.6 915.2L557.4 914.5L555.5 913.2L552.9 911.4L550.8 909.8L548.7 908L546.2 905.4L544.5 903.4L542.7 900.9L541.1 898.3L539.9 896L538.7 893.2L537.7 890.4L536.9 887L536.5 884.1L536.3 881.2Z"/>
<filter id="mb" x="-30%" y="-10%" width="160%" height="120%"><feGaussianBlur stdDeviation="3 0.8"/></filter>
<filter id="mb2" x="-30%" y="-10%" width="160%" height="120%"><feGaussianBlur stdDeviation="2.2 0.6"/></filter>
<linearGradient id="t23" gradientUnits="userSpaceOnUse" x1="731" x2="790" y1="0" y2="0"><stop offset="0.05" stop-color="#8a8a8a" stop-opacity="0.03"/><stop offset="0.5" stop-color="#8a8a8a" stop-opacity="0.14"/><stop offset="1" stop-color="#808080" stop-opacity="0.24"/></linearGradient>
<radialGradient id="e24" gradientUnits="userSpaceOnUse" cx="0" cy="0" r="1.02" gradientTransform="translate(797 500.8) rotate(-90) scale(59.4 46)"><stop offset="0" stop-color="#f2f2f2"/><stop offset="0.45" stop-color="#e6e6e6"/><stop offset="0.72" stop-color="#cccccc"/><stop offset="0.9" stop-color="#a0a0a0"/><stop offset="1" stop-color="#747474"/></radialGradient>
<radialGradient id="e24h" gradientUnits="userSpaceOnUse" cx="0" cy="0" r="1" gradientTransform="translate(801.6 488.9) rotate(-90) scale(47.5 36.8)"><stop offset="0" stop-color="#fff" stop-opacity="1.0"/><stop offset="0.3" stop-color="#fff" stop-opacity="0.85"/><stop offset="0.6" stop-color="#fff" stop-opacity="0.40"/><stop offset="1" stop-color="#fff" stop-opacity="0"/></radialGradient>
<linearGradient id="e24s" gradientUnits="userSpaceOnUse" x1="783.2" y1="441.4" x2="810.8" y2="560.3"><stop offset="0.35" stop-color="#000" stop-opacity="0"/><stop offset="1" stop-color="#000" stop-opacity="0.25"/></linearGradient>
<path id="e24p" d="M751.9 500.2L752 494.3L752.4 489.2L753.3 483.1L754.4 477.8L756 472.6L758.8 466.2L761.8 461.1L765.5 456.4L768.8 453L773.6 449.1L777.7 446.6L780.6 445.2L783.7 444L786.9 443L788.6 442.6L790.4 442.3L792.1 442L792.7 442L793.3 441.9L794.4 441.8L795.1 441.8L796 441.7L797.4 441.7L798.3 441.7L799.1 441.8L799.7 441.8L801 441.9L801.9 442L803.5 442.3L805.3 442.6L807.2 443L810.3 444L813.5 445.2L816.4 446.7L821.6 450L825.3 453L829.5 457.5L833 462.3L835.8 467.4L837.5 471.4L839.6 477.8L840.7 483L841.6 489.2L841.9 493L842.1 498.9L842.1 503.8L841.7 509.7L841.1 515.6L840.1 520.7L838.8 525.9L837 531L834.6 536.1L831.7 541L828.8 544.8L825.5 548.2L823 550.4L819.2 553.2L816.2 555L813.1 556.5L810.8 557.4L808.6 558.2L806.4 558.8L804 559.3L802.4 559.5L800.6 559.7L799 559.8L797.4 559.9L795.8 559.9L794.2 559.8L792.6 559.6L790.8 559.4L789.2 559.1L787.1 558.6L785 558L782.7 557.2L779.6 555.9L776.5 554.3L773.7 552.5L770.8 550.3L767.3 547.1L763.4 542.5L760.8 538.6L758.1 533.5L756 528.4L754.5 523.2L753.4 518.1L752.5 512.1L752.1 507.2L751.9 501.3Z"/>
<g id="n25"><use href="#e24p" fill="url(#e24)" fill-opacity="1"/>
<use href="#e24p" fill="url(#e24s)" fill-opacity="1"/>
<use href="#e24p" fill="url(#e24h)" fill-opacity="1"/>
<path d="M797 442L800.7 441.9M797 442L801.5 442M797 442L802.1 442.1L807 443M797 442L802.4 442.3L807.6 443.2L812.6 444.9L817.3 447.2M797 442L802.4 442.4L807.7 443.5L812.8 445.3L817.6 447.7L822 450.7L826 454.1L829.5 457.9L832.5 462L835 466.2L837 470.6L838.7 475L839.9 479.3L840.8 483.6L841.4 487.8L841.8 492L842.1 496L842.1 500L842.1 504M797 442L802.2 442.5L807.3 443.8L812.2 445.7L816.8 448.3L821.1 451.4L825 455L828.4 458.9L831.3 463.1L833.8 467.5L835.8 472L837.4 476.5L838.6 481L839.5 485.4L840.1 489.7L840.5 493.9L840.8 498L840.8 502.1L840.8 506.2L840.6 510.2L840.2 514.2L839.7 518.3L839 522.4L838 526.6L836.6 530.7L835 534.9L832.9 538.9L830.4 542.7L827.4 546.3M797 442L801.7 442.7L806.3 444L810.8 446.1L815 448.8L819 452L822.5 455.8L825.7 459.8L828.4 464.2L830.7 468.7L832.5 473.3L834 478L835.1 482.6L836 487.1L836.6 491.5L836.9 495.8L837.1 500L837.2 504.1L837.1 508.2L837 512.3L836.6 516.4L836.2 520.5L835.5 524.7L834.5 528.8L833.3 532.9L831.7 537L829.8 541L827.5 544.7L824.8 548.1L821.7 551.2L818.2 553.8M797 442L800.9 442.8L804.9 444.3L808.7 446.4L812.3 449.3L815.6 452.6L818.7 456.5L821.4 460.7L823.7 465.2L825.7 469.8L827.3 474.6L828.6 479.3L829.6 484L830.3 488.6L830.8 493.1L831.1 497.4L831.3 501.7L831.4 505.9L831.3 510.1L831.1 514.2L830.9 518.3L830.4 522.5L829.8 526.6L829 530.8L828 534.9L826.6 539L825 542.8L823 546.5L820.6 549.8L818 552.7L815 555.1L811.7 557M797 442L800 442.8L803 444.4L805.9 446.7L808.7 449.6L811.3 453.1L813.7 457.1L815.8 461.4L817.6 466L819.1 470.7L820.4 475.6L821.4 480.4L822.1 485.2L822.7 489.8L823.1 494.4L823.3 498.8L823.5 503.1L823.5 507.4L823.5 511.6L823.3 515.8L823.1 519.9L822.8 524.1L822.3 528.3L821.7 532.5L820.9 536.6L819.8 540.6L818.5 544.4L817 547.9L815.2 551.2L813.1 553.9L810.8 556.2L808.3 557.9L805.6 558.9M797 442L798.9 442.9L800.9 444.6L802.7 446.9L804.5 449.9L806.2 453.5L807.7 457.5L809.1 461.9L810.2 466.5L811.2 471.4L812.1 476.3L812.7 481.2L813.2 486L813.6 490.7L813.8 495.3L814 499.8L814.1 504.2L814.1 508.5L814.1 512.7L814 516.9L813.8 521.1L813.6 525.3L813.3 529.5L812.9 533.6L812.4 537.7L811.7 541.7L810.9 545.5L809.9 549L808.7 552.1L807.4 554.8L805.9 557L804.2 558.5L802.5 559.4M797 442L797.7 442.9L798.5 444.6L799.2 447L799.9 450.1L800.6 453.6L801.2 457.7L801.7 462.2L802.1 466.9L802.5 471.7L802.8 476.7L803.1 481.6L803.3 486.5L803.4 491.2L803.5 495.9L803.6 500.4L803.6 504.8L803.6 509.1L803.6 513.3L803.6 517.5L803.5 521.7L803.5 525.9L803.3 530.1L803.2 534.3L803 538.4L802.7 542.4L802.4 546.1L802 549.6L801.5 552.7L801 555.3L800.4 557.4L799.8 558.9L799.1 559.7M797 442L796.5 442.9L796 444.6L795.6 447L795.1 450.1L794.7 453.7L794.4 457.7L794 462.2L793.7 466.9L793.5 471.8L793.3 476.7L793.1 481.7L793 486.5L792.9 491.3L792.8 495.9L792.8 500.4L792.8 504.8L792.8 509.1L792.8 513.4L792.8 517.6L792.8 521.8L792.9 526L793 530.2L793.1 534.4L793.2 538.5L793.4 542.4L793.6 546.2L793.8 549.6L794.1 552.7L794.4 555.3L794.8 557.4L795.2 558.9L795.6 559.7M797 442L795.3 442.9L793.7 444.6L792 446.9L790.5 449.9L789 453.5L787.7 457.6L786.5 462L785.5 466.6L784.6 471.5L783.9 476.4L783.4 481.3L782.9 486.1L782.6 490.9L782.4 495.5L782.3 500L782.2 504.4L782.2 508.7L782.2 512.9L782.3 517.1L782.4 521.3L782.6 525.5L782.8 529.7L783.2 533.8L783.6 537.9L784.2 541.9L785 545.7L785.8 549.2L786.9 552.3L788 555L789.3 557.1L790.7 558.6L792.2 559.5M797 442L794.2 442.9L791.4 444.5L788.7 446.8L786.2 449.7L783.8 453.2L781.6 457.2L779.6 461.5L778 466.1L776.5 470.9L775.4 475.7L774.5 480.6L773.7 485.4L773.2 490.1L772.9 494.6L772.6 499.1L772.5 503.4L772.5 507.7L772.5 511.9L772.6 516.1L772.8 520.2L773.1 524.4L773.6 528.6L774.1 532.8L774.9 536.9L775.9 540.9L777.1 544.7L778.5 548.2L780.2 551.4L782.1 554.2L784.2 556.4L786.6 558.1L789.1 559.1M797 442L793.2 442.8L789.5 444.3L785.9 446.5L782.4 449.4L779.2 452.8L776.3 456.6L773.7 460.9L771.5 465.4L769.6 470L768.1 474.8L766.9 479.6L765.9 484.3L765.2 488.9L764.8 493.4L764.5 497.8L764.3 502.1L764.2 506.3L764.3 510.4L764.4 514.6L764.7 518.7L765.1 522.9L765.7 527L766.4 531.2L767.5 535.3L768.7 539.4L770.3 543.2L772.2 546.8L774.5 550.1L777 553L779.9 555.4L783 557.2M797 442L792.5 442.7L788 444.1L783.6 446.2L779.5 448.9L775.7 452.2L772.2 455.9L769.2 460L766.5 464.4L764.3 469L762.5 473.6L761 478.3L759.9 482.9L759.1 487.4L758.5 491.8L758.2 496.2L758 500.4L757.9 504.5L758 508.6L758.1 512.7L758.5 516.8L758.9 521L759.6 525.1L760.5 529.3L761.7 533.4L763.2 537.5L765.1 541.4L767.4 545.1L770 548.5L773 551.6L776.4 554.1M797 442L791.9 442.6L786.9 443.8L782.1 445.8L777.5 448.4L773.3 451.5L769.4 455.1L766.1 459.1L763.2 463.4L760.7 467.8L758.7 472.3L757.2 476.8L756 481.3L755.1 485.8L754.5 490.1L754.1 494.3L753.8 498.5L753.8 502.6L753.8 506.6L754 510.7L754.4 514.7L754.9 518.8L755.6 522.9L756.6 527.1L757.9 531.2L759.6 535.3L761.6 539.3L764.1 543.2L767 546.7M797 442L791.6 442.4L786.4 443.6L781.3 445.4L776.5 447.8L772.1 450.8L768.1 454.3L764.6 458.1L761.6 462.2L759.1 466.5L757.1 470.9L755.4 475.3L754.2 479.7L753.3 484L752.7 488.2L752.3 492.4L752 496.5L752 500.5L752 504.5L752.2 508.5L752.6 512.5L753.1 516.5L753.9 520.6M797 442L791.6 442.3L786.3 443.3L781.3 445L776.5 447.3L772.2 450.1L768.3 453.5M797 442L791.9 442.2L786.8 443M797 442L792.4 442M797 442L793.1 441.9M832.9 462.3L832.9 462.8L832.6 463.2L832 463.7L831.1 464.2L830 464.6L828.5 465L826.8 465.4L824.9 465.8L822.6 466.2L820.2 466.5L817.6 466.8L814.7 467L811.8 467.3L808.6 467.4L805.4 467.6L802.1 467.7L798.7 467.7L795.4 467.7L792 467.7L788.7 467.6L785.5 467.4L782.3 467.3L779.3 467L776.5 466.8L773.9 466.5L771.4 466.2L769.2 465.8L767.2 465.4L765.5 465L764.1 464.6L762.9 464.2L762 463.7L761.4 463.3L761.1 462.8L761.1 462.3M841.4 488L841.1 488.8L840.4 489.5L839.4 490.2L838 490.9L836.2 491.6L834.1 492.2L831.7 492.9L829 493.4L826 494L822.7 494.4L819.2 494.8L815.5 495.2L811.6 495.5L807.5 495.7L803.4 495.9L799.2 495.9L794.9 495.9L790.7 495.9L786.6 495.7L782.5 495.5L778.6 495.2L774.9 494.9L771.4 494.4L768.1 494L765.1 493.4L762.3 492.9L759.9 492.3L757.8 491.6L756.1 490.9L754.7 490.2L753.6 489.5L752.9 488.8L752.6 488M841.6 511.5L841.2 512.4L840.6 513.3L839.5 514.2L838.1 515L836.4 515.9L834.3 516.6L831.9 517.4L829.1 518.1L826.1 518.7L822.8 519.3L819.3 519.8L815.5 520.2L811.6 520.6L807.6 520.9L803.4 521L799.2 521.1L794.9 521.1L790.7 521L786.6 520.9L782.5 520.6L778.6 520.2L774.8 519.8L771.3 519.3L768 518.7L765 518.1L762.2 517.4L759.8 516.7L757.7 515.9L755.9 515.1L754.5 514.2L753.5 513.3L752.8 512.4L752.4 511.6M833.9 537.3L832.9 538.2L831.7 539L830.2 539.8L828.4 540.6L826.4 541.3L824 542L821.5 542.6L818.7 543.2L815.7 543.7L812.6 544.1L809.3 544.5L805.9 544.7L802.4 544.9L798.8 545L795.3 545L791.7 544.9L788.2 544.7L784.8 544.5L781.5 544.1L778.4 543.7L775.4 543.2L772.6 542.6L770 542L767.7 541.3L765.6 540.6L763.8 539.8L762.3 539L761.1 538.2L760.2 537.3M810.4 557.6L809.3 557.9L808.1 558.2L806.8 558.5L805.4 558.8L804 559L802.5 559.1L801 559.3L799.4 559.4L797.8 559.4L796.2 559.4L794.6 559.4L793.1 559.3L791.5 559.1L790 559L788.6 558.8L787.2 558.5L785.9 558.3L784.8 557.9L783.7 557.6" fill="none" stroke="#333" stroke-width="0.8" stroke-opacity="0.32"/>
<use href="#e24p" fill="none" stroke="#777" stroke-width="0.9"/></g>
<linearGradient id="m26g" gradientUnits="userSpaceOnUse" x1="763.4" x2="830.6" y1="0" y2="0"><stop offset="0.12" stop-color="#fff" stop-opacity="0"/><stop offset="0.65" stop-color="#fff" stop-opacity="1"/></linearGradient><mask id="m26" maskUnits="userSpaceOnUse" x="751.4" y="429.9" width="91.2" height="142.6"><rect x="751.4" y="429.9" width="91.2" height="142.6" fill="url(#m26g)"/></mask>
<radialGradient id="qe1" gradientUnits="userSpaceOnUse" cx="0" cy="0" r="1" fx="0.05" fy="0.12" gradientTransform="translate(884.8 518) rotate(0) scale(29.5 52.8)"><stop offset="0" stop-color="#faec60"/><stop offset="0.16" stop-color="#f4cf47"/><stop offset="0.42" stop-color="#eca53c"/><stop offset="0.72" stop-color="#df8140"/><stop offset="1" stop-color="#d3704a"/></radialGradient>
<linearGradient id="t27" gradientUnits="userSpaceOnUse" x1="968" x2="1037" y1="0" y2="0"><stop offset="0" stop-color="#808080" stop-opacity="0.24"/><stop offset="0.5" stop-color="#8a8a8a" stop-opacity="0.14"/><stop offset="0.95" stop-color="#8a8a8a" stop-opacity="0.04"/></linearGradient>
<radialGradient id="e28" gradientUnits="userSpaceOnUse" cx="0" cy="0" r="1.02" gradientTransform="translate(969 529.4) rotate(-90) scale(60.1 47.4)"><stop offset="0" stop-color="#f7f7f7"/><stop offset="0.45" stop-color="#ebebeb"/><stop offset="0.72" stop-color="#d0d0d0"/><stop offset="0.9" stop-color="#a0a0a0"/><stop offset="1" stop-color="#787878"/></radialGradient>
<radialGradient id="e28h" gradientUnits="userSpaceOnUse" cx="0" cy="0" r="1" gradientTransform="translate(957.2 502.4) rotate(-90) scale(48.1 37.9)"><stop offset="0" stop-color="#fff" stop-opacity="1.0"/><stop offset="0.3" stop-color="#fff" stop-opacity="0.85"/><stop offset="0.6" stop-color="#fff" stop-opacity="0.40"/><stop offset="1" stop-color="#fff" stop-opacity="0"/></radialGradient>
<linearGradient id="e28s" gradientUnits="userSpaceOnUse" x1="954.8" y1="469.3" x2="983.2" y2="589.5"><stop offset="0.35" stop-color="#000" stop-opacity="0"/><stop offset="1" stop-color="#000" stop-opacity="0.45"/></linearGradient>
<path id="e28p" d="M922.4 528.7L922.5 522.6L923 517.5L923.7 512.4L924.9 507.1L926.5 501.7L929.3 495.3L932.3 490.2L935.9 485.3L939.1 481.9L942.8 478.7L947.9 475.3L952.4 473L957.1 471.3L959 470.8L962.1 470.2L962.8 470.1L964.5 469.9L965.1 469.8L966.6 469.7L967.3 469.6L967.9 469.6L968.9 469.6L970.2 469.6L970.8 469.6L971.4 469.7L972.7 469.8L973.3 469.8L973.9 469.9L975.9 470.2L978.9 470.8L980.7 471.3L984 472.4L987.2 473.8L992.7 476.9L996.6 479.8L1001.1 484.1L1004.9 488.9L1008 494L1010.5 499.3L1012.7 505.7L1014 511.1L1014.9 516.1L1015.3 520.1L1015.6 526.2L1015.6 531.3L1015.3 537.4L1014.6 543.7L1013.7 548.6L1012.3 553.9L1010.5 559.1L1008.1 564.3L1005.2 569.3L1003.2 572L999.3 576.4L996.5 579L992.7 581.8L989.6 583.8L986.1 585.5L984.1 586.4L980.7 587.5L978.2 588.2L976.1 588.6L974.4 588.9L972.9 589L971.3 589.1L969.7 589.2L968.1 589.2L966.5 589.1L964.7 589L963.4 588.8L961.7 588.6L959.6 588.1L957.4 587.6L955.1 586.8L952 585.6L949.9 584.6L946.8 582.8L943.7 580.7L940.1 577.7L936.7 574.2L933.9 570.8L931.3 566.8L928.6 561.7L926.5 556.5L924.9 551.2L923.8 546L923.1 541.1L922.6 536L922.4 529.9Z"/>
<g id="n29"><use href="#e28p" fill="url(#e28)" fill-opacity="1"/>
<use href="#e28p" fill="url(#e28s)" fill-opacity="1"/>
<use href="#e28p" fill="url(#e28h)" fill-opacity="1"/>
<path d="M969 469.9L972.8 469.8M969 469.9L973.5 469.9M969 469.9L974.1 470L979.1 470.9M969 469.9L974.4 470.1L979.7 471.1L984.8 472.8L989.6 475M969 469.9L974.5 470.3L979.8 471.4L985 473.2L989.9 475.6L994.4 478.5L998.5 481.9L1002.1 485.7L1005.2 489.8L1007.8 494.1L1010 498.4L1011.7 502.9L1013.1 507.3L1014.1 511.7L1014.8 516L1015.3 520.3L1015.6 524.5L1015.6 528.6L1015.6 532.7M969 469.9L974.2 470.4L979.4 471.7L984.4 473.6L989.1 476.1L993.5 479.2L997.4 482.8L1001 486.7L1004 490.9L1006.6 495.4L1008.8 499.9L1010.5 504.4L1011.8 509L1012.8 513.5L1013.5 517.9L1014 522.3L1014.2 526.5L1014.3 530.7L1014.3 534.9L1014 539.1L1013.6 543.3L1013 547.5L1012.2 551.7L1011.1 555.9L1009.7 560.1L1007.9 564.3L1005.7 568.3L1003 572.1L1000 575.7M969 469.9L973.7 470.5L978.4 471.9L983 474L987.3 476.6L991.3 479.9L995 483.6L998.2 487.7L1001 492L1003.4 496.6L1005.4 501.3L1007 506L1008.2 510.6L1009.2 515.2L1009.8 519.7L1010.3 524.2L1010.5 528.5L1010.6 532.8L1010.5 537.1L1010.3 541.3L1010 545.5L1009.4 549.7L1008.6 554L1007.6 558.2L1006.3 562.4L1004.6 566.5L1002.5 570.4L1000.1 574.2L997.3 577.6L994.1 580.6L990.5 583.2M969 469.9L973 470.6L977 472.1L980.8 474.3L984.5 477.1L987.9 480.5L991.1 484.3L993.9 488.5L996.3 493L998.4 497.7L1000.1 502.5L1001.4 507.3L1002.5 512.1L1003.3 516.8L1003.9 521.4L1004.3 525.9L1004.5 530.3L1004.6 534.7L1004.5 539L1004.3 543.2L1004 547.5L1003.5 551.8L1002.8 556L1001.9 560.3L1000.8 564.4L999.4 568.5L997.6 572.4L995.5 576L993.1 579.3L990.3 582.2L987.2 584.6L983.9 586.4M969 469.9L972.1 470.7L975.1 472.3L978.1 474.6L980.9 477.5L983.5 481L986 484.9L988.1 489.2L990 493.8L991.6 498.6L993 503.5L994 508.4L994.9 513.3L995.5 518.1L995.9 522.8L996.2 527.3L996.4 531.8L996.5 536.2L996.4 540.6L996.3 544.9L996 549.2L995.6 553.5L995.1 557.7L994.4 562L993.5 566.1L992.4 570.1L991 574L989.4 577.5L987.5 580.7L985.4 583.4L983 585.6L980.4 587.3L977.7 588.3M969 469.9L971 470.8L972.9 472.4L974.8 474.8L976.6 477.8L978.3 481.3L979.9 485.3L981.3 489.7L982.5 494.4L983.6 499.3L984.4 504.2L985.1 509.2L985.7 514.2L986.1 519L986.4 523.7L986.6 528.4L986.7 532.9L986.7 537.3L986.7 541.7L986.6 546.1L986.4 550.4L986.2 554.7L985.8 559L985.4 563.2L984.8 567.3L984.1 571.3L983.2 575.1L982.1 578.6L980.9 581.7L979.5 584.3L978 586.4L976.3 587.9L974.6 588.8M969 469.9L969.8 470.8L970.5 472.5L971.2 474.9L972 477.9L972.6 481.5L973.2 485.6L973.8 490L974.2 494.7L974.7 499.6L975 504.6L975.3 509.7L975.5 514.6L975.6 519.5L975.7 524.3L975.8 528.9L975.9 533.5L975.9 537.9L975.9 542.3L975.8 546.7L975.8 551L975.7 555.4L975.5 559.6L975.4 563.9L975.1 568L974.8 572L974.5 575.7L974.1 579.2L973.6 582.2L973.1 584.8L972.5 586.8L971.8 588.3L971.2 589M969 469.9L968.5 470.8L968 472.5L967.6 474.9L967.1 477.9L966.7 481.5L966.3 485.6L966 490L965.7 494.8L965.4 499.7L965.2 504.7L965 509.7L964.9 514.7L964.8 519.6L964.7 524.3L964.7 529L964.6 533.5L964.6 538L964.6 542.4L964.6 546.8L964.7 551.1L964.7 555.4L964.8 559.7L964.9 563.9L965.1 568.1L965.3 572L965.5 575.8L965.8 579.2L966.1 582.3L966.4 584.9L966.8 586.9L967.2 588.3L967.6 589.1M969 469.9L967.3 470.8L965.6 472.5L964 474.8L962.4 477.8L960.9 481.4L959.5 485.4L958.3 489.8L957.3 494.5L956.4 499.4L955.6 504.4L955 509.4L954.5 514.3L954.2 519.2L953.9 523.9L953.8 528.5L953.7 533.1L953.6 537.5L953.7 541.9L953.7 546.3L953.9 550.6L954.1 554.9L954.4 559.2L954.8 563.4L955.3 567.5L955.9 571.5L956.7 575.3L957.6 578.8L958.7 581.8L959.9 584.5L961.2 586.5L962.6 588L964.2 588.9M969 469.9L966.2 470.7L963.4 472.3L960.6 474.6L958 477.6L955.6 481L953.3 485L951.3 489.4L949.6 494L948.1 498.8L946.8 503.7L945.8 508.6L945.1 513.5L944.5 518.3L944.1 523L943.8 527.6L943.6 532.1L943.6 536.5L943.6 540.9L943.8 545.2L944 549.5L944.3 553.8L944.8 558L945.5 562.3L946.3 566.4L947.4 570.4L948.6 574.3L950.1 577.8L951.9 580.9L953.9 583.7L956 585.8L958.4 587.4L961 588.4M969 469.9L965.2 470.7L961.4 472.2L957.7 474.4L954.2 477.2L951 480.6L948 484.4L945.3 488.7L943 493.2L941 497.9L939.4 502.7L938.1 507.6L937 512.4L936.3 517.1L935.7 521.7L935.4 526.3L935.1 530.7L935.1 535.1L935.1 539.4L935.3 543.6L935.6 547.9L936.1 552.2L936.7 556.4L937.6 560.7L938.7 564.8L940.1 568.9L941.7 572.8L943.7 576.4L946.1 579.6L948.7 582.5L951.6 584.8L954.8 586.6M969 469.9L964.4 470.6L959.9 472L955.5 474L951.3 476.8L947.4 480L943.8 483.8L940.6 487.9L937.9 492.3L935.5 496.9L933.6 501.5L932.1 506.3L930.8 511L929.9 515.6L929.3 520.1L928.9 524.6L928.6 529L928.5 533.2L928.6 537.5L928.8 541.7L929.2 546L929.7 550.2L930.5 554.4L931.5 558.7L932.8 562.9L934.4 567L936.4 570.9L938.8 574.6L941.5 578L944.7 581L948.1 583.5M969 469.9L963.9 470.4L958.8 471.7L953.9 473.7L949.2 476.2L944.9 479.4L941 483L937.5 486.9L934.5 491.2L931.9 495.6L929.8 500.2L928.1 504.8L926.8 509.4L925.8 513.9L925.1 518.3L924.6 522.7L924.4 527L924.3 531.2L924.4 535.4L924.6 539.6L925 543.8L925.6 548L926.4 552.2L927.5 556.4L928.9 560.6L930.7 564.8L932.9 568.8L935.5 572.6L938.5 576.1M969 469.9L963.6 470.3L958.2 471.4L953.1 473.3L948.2 475.7L943.7 478.7L939.6 482.1L936 485.9L932.9 490L930.3 494.3L928.1 498.8L926.4 503.2L925 507.7L924 512.1L923.3 516.4L922.8 520.7L922.5 524.9L922.4 529.1L922.5 533.2L922.7 537.3L923.1 541.5L923.7 545.6L924.6 549.8M969 469.9L963.5 470.2L958.2 471.2L953.1 472.8L948.2 475.1L943.8 478L939.8 481.3M969 469.9L963.8 470L958.7 470.9M969 469.9L964.3 469.9M969 469.9L965.1 469.8M969 469.9L966 469.7M1005.6 490.1L1005.6 490.6L1005.3 491.1L1004.7 491.5L1003.8 492L1002.6 492.4L1001.2 492.9L999.4 493.3L997.4 493.7L995.2 494L992.7 494.4L990 494.6L987.1 494.9L984.1 495.1L980.9 495.3L977.6 495.5L974.2 495.5L970.8 495.6L967.3 495.6L963.9 495.5L960.5 495.5L957.2 495.3L954 495.1L951 494.9L948.1 494.7L945.4 494.4L942.9 494L940.6 493.7L938.6 493.3L936.9 492.9L935.4 492.4L934.2 492L933.3 491.5L932.7 491.1L932.4 490.6L932.3 490.1M1014.8 516.2L1014.5 517L1013.8 517.7L1012.7 518.4L1011.3 519.2L1009.5 519.9L1007.3 520.5L1004.9 521.2L1002.1 521.8L998.9 522.3L995.6 522.8L991.9 523.2L988.1 523.6L984 523.9L979.9 524.1L975.6 524.3L971.2 524.4L966.9 524.4L962.5 524.3L958.2 524.1L954.1 523.9L950 523.6L946.2 523.2L942.5 522.8L939.1 522.3L936 521.8L933.2 521.2L930.7 520.6L928.6 519.9L926.8 519.2L925.3 518.5L924.3 517.7L923.6 517L923.2 516.2M1015 540.5L1014.7 541.4L1014 542.3L1012.9 543.2L1011.5 544.1L1009.7 544.9L1007.5 545.8L1005 546.5L1002.2 547.3L999.1 547.9L995.7 548.5L992 549L988.2 549.5L984.1 549.9L979.9 550.1L975.6 550.3L971.3 550.4L966.9 550.4L962.5 550.3L958.2 550.1L954 549.9L949.9 549.5L946.1 549.1L942.4 548.5L939 547.9L935.9 547.3L933 546.6L930.5 545.8L928.4 545L926.6 544.1L925.1 543.2L924 542.3L923.3 541.4L923 540.5M1006.7 566.7L1005.7 567.6L1004.5 568.4L1003 569.3L1001.1 570.1L999 570.8L996.7 571.5L994 572.2L991.2 572.8L988.2 573.3L984.9 573.7L981.6 574.1L978.1 574.3L974.5 574.5L970.9 574.6L967.2 574.6L963.6 574.5L960 574.3L956.5 574.1L953.2 573.7L949.9 573.3L946.9 572.8L944 572.2L941.4 571.6L939 570.9L936.9 570.1L935.1 569.3L933.5 568.5L932.3 567.6L931.3 566.7M981.4 587.3L980.2 587.6L978.9 587.9L977.6 588.1L976.1 588.4L974.6 588.5L973 588.7L971.4 588.7L969.8 588.8L968.2 588.8L966.6 588.7L965 588.7L963.4 588.5L961.9 588.4L960.5 588.2L959.1 587.9L957.8 587.6L956.6 587.3" fill="none" stroke="#fff" stroke-width="0.8" stroke-opacity="0.55"/>
<use href="#e28p" fill="none" stroke="#777" stroke-width="0.9"/></g>
<linearGradient id="m30g" gradientUnits="userSpaceOnUse" x1="933.5" x2="1004.5" y1="0" y2="0"><stop offset="0.35" stop-color="#fff" stop-opacity="1"/><stop offset="0.88" stop-color="#fff" stop-opacity="0"/></linearGradient><mask id="m30" maskUnits="userSpaceOnUse" x="921.5" y="457.8" width="95.1" height="144"><rect x="921.5" y="457.8" width="95.1" height="144" fill="url(#m30g)"/></mask>
<linearGradient id="t31" gradientUnits="userSpaceOnUse" x1="722" x2="792" y1="0" y2="0"><stop offset="0.05" stop-color="#8a8a8a" stop-opacity="0.03"/><stop offset="0.5" stop-color="#8a8a8a" stop-opacity="0.14"/><stop offset="1" stop-color="#808080" stop-opacity="0.24"/></linearGradient>
<radialGradient id="e32" gradientUnits="userSpaceOnUse" cx="0" cy="0" r="1.02" gradientTransform="translate(792.2 863.2) rotate(-168.1) scale(45 41.4)"><stop offset="0" stop-color="#f2f2f2"/><stop offset="0.45" stop-color="#e6e6e6"/><stop offset="0.72" stop-color="#cccccc"/><stop offset="0.9" stop-color="#a0a0a0"/><stop offset="1" stop-color="#747474"/></radialGradient>
<radialGradient id="e32h" gradientUnits="userSpaceOnUse" cx="0" cy="0" r="1" gradientTransform="translate(796.3 850.8) rotate(-168.1) scale(36 33.1)"><stop offset="0" stop-color="#fff" stop-opacity="1.0"/><stop offset="0.3" stop-color="#fff" stop-opacity="0.85"/><stop offset="0.6" stop-color="#fff" stop-opacity="0.40"/><stop offset="1" stop-color="#fff" stop-opacity="0"/></radialGradient>
<linearGradient id="e32s" gradientUnits="userSpaceOnUse" x1="779.7" y1="821.7" x2="804.6" y2="904.8"><stop offset="0.35" stop-color="#000" stop-opacity="0"/><stop offset="1" stop-color="#000" stop-opacity="0.25"/></linearGradient>
<path id="e32p" d="M747.3 862.1L747.5 858.2L748 854.3L748.7 851.5L750 847.8L751.2 845L753.1 841.5L754.8 839L757.3 835.9L758.8 834.3L761.9 831.5L764.6 829.5L767.3 827.8L770.2 826.3L772.4 825.3L774.9 824.4L778.1 823.4L780.8 822.8L783.5 822.4L786.2 822.1L788 822L790.8 821.9L793.5 822L795.7 822.1L798.5 822.5L801.3 823L803.1 823.4L805.9 824.1L808.2 824.9L810.9 825.9L814 827.4L816.1 828.6L818.5 830.1L821.2 832.2L823.8 834.4L826.1 836.8L828.2 839.3L829.6 841.2L831.3 843.9L832.8 846.8L834.1 849.7L835.3 853.4L835.8 855.5L836.5 859.2L836.8 863L836.7 866L836.4 869.8L835.7 873.5L834.9 876.2L833.6 879.8L832.4 882.5L830.5 885.8L828.7 888.4L826.9 890.6L824.7 892.9L821.8 895.5L819.2 897.4L816.5 899.2L814.4 900.3L812.3 901.3L809.2 902.5L806 903.5L802.7 904.2L799.8 904.6L797.4 904.8L794.6 904.9L791.1 904.8L788.3 904.5L785.9 904.1L782.7 903.4L780.9 902.9L778.2 902.1L775.6 901.1L772.7 899.8L770.2 898.6L767.8 897.2L766.3 896.3L764.1 894.7L761.5 892.6L759.5 890.7L757.3 888.3L755.8 886.5L754.3 884.4L752.5 881.6L751 878.8L749.6 875.1L748.6 872.1L748.1 870L747.5 866.1L747.3 863.1Z"/>
<g id="n33"><use href="#e32p" fill="url(#e32)" fill-opacity="1"/>
<use href="#e32p" fill="url(#e32s)" fill-opacity="1"/>
<use href="#e32p" fill="url(#e32h)" fill-opacity="1"/>
<path d="M812.7 867.6L807.5 867.6L802.1 867.5L796.6 867.3L791.2 867.2L786 866.9L781 866.6L776.5 866.3L772.3 866L768.6 865.7L765.4 865.3L762.6 865L760.2 864.7L758.2 864.3L756.4 864L754.9 863.7L753.5 863.4L752.3 863.1L751.2 862.9L750.2 862.6L749.3 862.3L748.5 862L747.9 861.7L747.4 861.4L747.3 861.2M812.7 867.6L807.7 866.3L802.4 865.1L797.1 863.8L791.8 862.5L786.7 861.3L781.9 860.2L777.4 859.1L773.3 858.2L769.7 857.3L766.5 856.6L763.8 856L761.4 855.5L759.4 855L757.6 854.6L756.1 854.3L754.7 854L753.5 853.8L752.4 853.6L751.4 853.4L750.5 853.2L749.7 853L749 852.9L748.6 852.9L748.4 852.9M812.7 867.6L808.1 865.2L803.2 862.8L798.3 860.4L793.4 858.1L788.6 856L784.1 854L779.8 852.3L776 850.7L772.5 849.4L769.5 848.4L766.8 847.5L764.5 846.8L762.5 846.2L760.8 845.8L759.3 845.4L757.9 845.1L756.7 844.9L755.6 844.7L754.5 844.6L753.6 844.5L752.7 844.5L752 844.6L751.5 844.7M812.7 867.6L808.7 864.1L804.5 860.7L800.1 857.4L795.8 854.2L791.5 851.2L787.5 848.5L783.6 846.1L780.1 844.1L776.9 842.4L774.1 841L771.6 839.9L769.4 839L767.5 838.3L765.8 837.8L764.3 837.5L762.9 837.2L761.6 837L760.5 836.9L759.4 836.8L758.4 836.8L757.5 836.9L756.7 837.1L756.1 837.4M812.7 867.6L809.5 863.3L806.1 859L802.6 854.8L799 850.9L795.4 847.2L791.9 844L788.6 841.1L785.5 838.6L782.7 836.5L780.1 834.9L777.8 833.6L775.7 832.6L773.9 831.8L772.2 831.3L770.7 830.9L769.4 830.6L768.1 830.5L766.9 830.4L765.8 830.4L764.7 830.4L763.7 830.6L762.8 830.9M812.7 867.6L810.5 862.6L808.1 857.7L805.4 852.9L802.7 848.4L799.9 844.3L797.1 840.6L794.4 837.3L791.8 834.5L789.4 832.2L787.1 830.4L785.1 828.9L783.2 827.8L781.4 827L779.9 826.4L778.4 826.1L777 825.8L775.7 825.7L774.5 825.6L773.3 825.6L772.2 825.7L771.1 826M812.7 867.6L811.6 862.2L810.2 856.9L808.6 851.8L806.8 846.9L804.9 842.5L802.9 838.5L800.8 835L798.8 832.1L796.8 829.6L794.9 827.7L793.1 826.1L791.3 825L789.7 824.1L788.2 823.5L786.8 823.2L785.4 822.9L784.1 822.8L782.8 822.7L781.6 822.8L780.3 822.9M812.7 867.6L812.7 862.1L812.5 856.6L811.9 851.4L811.1 846.5L810.1 841.9L808.8 837.9L807.5 834.3L806 831.3L804.5 828.9L802.9 826.9L801.3 825.3L799.8 824.2L798.3 823.3L796.9 822.7L795.5 822.3L794.1 822.1L792.8 821.9M812.7 867.6L813.9 862.2L814.7 856.9L815.2 851.8L815.3 847L815.2 842.6L814.7 838.7L814 835.3L813.1 832.4L812 829.9L810.8 828L809.5 826.5L808.1 825.4L806.7 824.6L805.4 824M812.7 867.6L814.9 862.6L816.8 857.7L818.2 853L819.3 848.6L819.9 844.5L820.2 840.9L820.1 837.7L819.7 835L819 832.8L818.1 831L817.1 829.6L815.9 828.5M812.7 867.6L815.9 863.3L818.6 859L820.9 854.9L822.8 851.1L824.2 847.5L825.1 844.4L825.5 841.6L825.6 839.2L825.2 837.3L824.6 835.7L823.8 834.4M812.7 867.6L816.6 864.1L820.1 860.7L823.1 857.4L825.6 854.3L827.6 851.5L829 848.9L829.9 846.6L830.3 844.7L830.3 843.1L829.9 841.8M812.7 867.6L817.2 865.2L821.2 862.8L824.8 860.4L827.8 858.2L830.1 856.2L831.9 854.3L833.1 852.6L833.8 851.2L834 850M812.7 867.6L817.5 866.3L821.9 865L825.7 863.8L829 862.5L831.6 861.4L833.7 860.3L835 859.3L835.9 858.4L836.2 857.6M812.7 867.6L817.6 867.5L822.1 867.4L826 867.3L829.3 867.1L832 866.8L834.1 866.5L835.5 866.2L836.4 865.9L836.8 865.6M812.7 867.6L817.5 868.7L821.8 869.8L825.5 870.8L828.7 871.6L831.3 872.3L833.3 872.8L834.6 873.2L835.4 873.4L835.7 873.5M812.7 867.6L817.1 869.9L821 872.1L824.4 874.1L827.2 875.9L829.5 877.4L831.2 878.7L832.3 879.8L832.9 880.6L833 881.1M812.7 867.6L816.4 870.9L819.7 874.1L822.5 877.1L824.9 879.8L826.7 882.1L827.9 884.1L828.7 885.7L829 887L828.9 888M812.7 867.6L815.6 871.8L818.1 875.8L820.2 879.6L821.8 883L823 886L823.7 888.6L824 890.7L823.9 892.4L823.5 893.7L822.8 894.6M812.7 867.6L814.6 872.5L816.2 877.1L817.4 881.5L818.2 885.5L818.6 889L818.7 892.1L818.4 894.6L817.9 896.6L817.1 898.1L816.1 899.2M812.7 867.6L813.5 872.9L814.1 877.9L814.3 882.7L814.1 887.1L813.7 890.9L813.1 894.3L812.2 897L811.1 899.3L810 901L808.7 902.2L807.3 903M812.7 867.6L812.4 873L811.8 878.2L811 883.1L809.9 887.6L808.6 891.6L807.2 895.1L805.7 898L804.1 900.3L802.4 902.1L800.8 903.3L799.2 904.2L797.6 904.7L796.1 904.9M812.7 867.6L811.3 872.9L809.6 878L807.7 882.8L805.7 887.2L803.5 891.1L801.3 894.5L799.1 897.3L796.9 899.6L794.9 901.3L792.9 902.6L791 903.4L789.3 903.9L787.6 904.1L786.1 904.1L784.7 903.9M812.7 867.6L810.2 872.5L807.5 877.2L804.6 881.7L801.7 885.7L798.7 889.4L795.7 892.5L792.9 895.1L790.2 897.2L787.6 898.8L785.3 900L783.2 900.7L781.3 901.1L779.6 901.3L778 901.2L776.5 901L775.2 900.7L773.9 900.3L772.7 899.8M812.7 867.6L809.3 871.8L805.7 875.9L801.9 879.8L798.1 883.3L794.3 886.5L790.7 889.2L787.3 891.4L784.1 893.2L781.2 894.6L778.6 895.5L776.2 896.2L774.1 896.5L772.3 896.6L770.6 896.5L769.2 896.3L767.8 896L766.6 895.6L765.4 895.1L764.3 894.6L763.2 893.9M812.7 867.6L808.5 871L804.1 874.2L799.6 877.3L795.1 880.1L790.7 882.5L786.5 884.7L782.6 886.4L779 887.8L775.8 888.8L772.9 889.5L770.4 890L768.2 890.2L766.2 890.2L764.5 890L763 889.8L761.7 889.5L760.4 889.1L759.3 888.7L758.2 888.2L757.2 887.6L756.4 887L755.6 886.2M812.7 867.6L807.9 869.9L803 872.2L797.9 874.3L792.9 876.2L788 877.8L783.4 879.2L779.1 880.3L775.2 881.2L771.8 881.8L768.7 882.2L766 882.4L763.7 882.5L761.7 882.4L760 882.2L758.4 881.9L757.1 881.6L755.9 881.3L754.7 880.9L753.7 880.5L752.8 880L751.9 879.5L751.3 878.9L750.8 878.1M812.7 867.6L807.6 868.8L802.3 869.9L796.9 870.9L791.6 871.8L786.4 872.5L781.5 873.1L777 873.5L773 873.8L769.3 874L766.1 874L763.4 874L761 873.8L758.9 873.6L757.2 873.4L755.7 873.1L754.3 872.8L753.1 872.5L752 872.1L751 871.8L750.1 871.4L749.3 871L748.6 870.5L748.2 870M789.7 867.1L789.8 865.1L790.1 863.2L790.6 861.3L791.2 859.4L792 857.6L792.9 855.9L793.9 854.3L795.1 852.7L796.4 851.3L797.7 850L799.2 848.9L800.8 847.8L802.5 847L804.2 846.3L805.9 845.8L807.7 845.4L809.5 845.2L811.3 845.2L813.1 845.3L814.8 845.6L816.5 846.1L818.2 846.8L819.8 847.6L821.3 848.5L822.7 849.6L824 850.9L825.3 852.2L826.4 853.7L827.3 855.2L828.2 856.9L828.9 858.6L829.4 860.4L829.8 862.3L830.1 864.1L830.2 866L830.1 867.9L829.9 869.8L829.5 871.7L829 873.6L828.3 875.3L827.5 877.1L826.6 878.7L825.5 880.3L824.4 881.7L823.1 883.1L821.7 884.3L820.2 885.4L818.6 886.4L817 887.2L815.3 887.8L813.6 888.3L811.8 888.6L810 888.8L808.2 888.8L806.5 888.6L804.7 888.2L803 887.7L801.3 887L799.8 886.2L798.2 885.2L796.8 884.1L795.5 882.8L794.3 881.4L793.2 879.9L792.3 878.2L791.5 876.5L790.8 874.7L790.3 872.9L789.9 871L789.7 869L789.7 867.1M770.2 865.8L770.4 862.6L770.9 859.4L771.7 856.2L772.7 853.2L773.9 850.2L775.4 847.4L777.2 844.7L779.1 842.1L781.2 839.8L783.5 837.7L786 835.8L788.6 834.2L791.3 832.8L794.2 831.7L797 830.8L800 830.2L802.9 829.9L805.9 829.9L808.8 830.2L811.7 830.8L814.5 831.6L817.2 832.7L819.8 834L822.3 835.6L824.6 837.4L826.8 839.4L828.8 841.6L830.5 844L832.1 846.6L833.5 849.3L834.6 852.1L835.5 855L836.1 858L836.5 861.1L836.7 864.2L836.6 867.3L836.2 870.3L835.6 873.4L834.8 876.4L833.7 879.3L832.4 882.1L830.9 884.8L829.2 887.3L827.3 889.7L825.2 891.9L822.9 893.9L820.5 895.7L817.9 897.3L815.3 898.6L812.5 899.7L809.7 900.5L806.8 901L803.9 901.3L800.9 901.3L798 901L795.2 900.5L792.3 899.7L789.6 898.6L787 897.2L784.5 895.6L782.1 893.7L779.9 891.6L777.9 889.4L776.1 886.9L774.5 884.2L773.2 881.4L772.1 878.4L771.2 875.4L770.6 872.2L770.3 869L770.2 865.8M758.5 864.4L758.7 860.7L759.3 857L760.1 853.4L761.3 849.9L762.7 846.5L764.4 843.3L766.4 840.2L768.7 837.3L771.1 834.7L773.8 832.3L776.6 830.1L779.6 828.2L782.7 826.7L786 825.4L789.3 824.4L792.6 823.8L796 823.5L799.4 823.5L802.8 823.8L806.1 824.4L809.3 825.4L812.4 826.6M797.2 904.9L793.8 904.9L790.5 904.6L787.2 903.9L784 903L780.8 901.8L777.8 900.2L774.9 898.4L772.2 896.3L769.7 893.9L767.4 891.3L765.3 888.4L763.5 885.4L761.9 882.2L760.6 878.8L759.6 875.3L758.9 871.7L758.5 868.1L758.5 864.4M752.2 863.1L752.4 859.4L753 855.7L753.8 852.1L755 848.6L756.4 845.1L758.2 841.9L760.2 838.8L762.4 835.9L764.9 833.2L767.6 830.8L770.4 828.6L773.5 826.7L776.6 825.2L779.9 823.9L783.2 822.9L786.6 822.3L790 822L793.5 822M774.8 900.7L771.7 899.2L768.8 897.3L766.1 895.2L763.5 892.8L761.2 890.2L759.1 887.3L757.2 884.2L755.6 881L754.3 877.6L753.3 874.1L752.6 870.5L752.2 866.8L752.2 863.1M748.2 861.9L748.4 858.4L749 854.8L749.8 851.4L750.9 848L752.3 844.7L754 841.6L755.9 838.7L758 835.9L760.4 833.3L763 831L765.7 829L768.6 827.2L771.6 825.7M759.1 890.3L756.9 887.8L754.8 885L753.1 882.1L751.6 879L750.3 875.8L749.3 872.4L748.7 869L748.3 865.5L748.2 861.9" fill="none" stroke="#222" stroke-width="0.8" stroke-opacity="0.7"/>
<use href="#e32p" fill="none" stroke="#777" stroke-width="0.9"/></g>
<linearGradient id="m34g" gradientUnits="userSpaceOnUse" x1="756" x2="826" y1="0" y2="0"><stop offset="0.12" stop-color="#fff" stop-opacity="0"/><stop offset="0.65" stop-color="#fff" stop-opacity="1"/></linearGradient><mask id="m34" maskUnits="userSpaceOnUse" x="744" y="795" width="94" height="136"><rect x="744" y="795" width="94" height="136" fill="url(#m34g)"/></mask>
<radialGradient id="qe2" gradientUnits="userSpaceOnUse" cx="0" cy="0" r="1" fx="0.0" fy="0.2" gradientTransform="translate(887.7 878.5) rotate(0) scale(33.3 37.8)"><stop offset="0" stop-color="#faec60"/><stop offset="0.16" stop-color="#f4cf47"/><stop offset="0.42" stop-color="#eca53c"/><stop offset="0.72" stop-color="#df8140"/><stop offset="1" stop-color="#d3704a"/></radialGradient>
<linearGradient id="t35" gradientUnits="userSpaceOnUse" x1="974" x2="1046" y1="0" y2="0"><stop offset="0" stop-color="#808080" stop-opacity="0.24"/><stop offset="0.5" stop-color="#8a8a8a" stop-opacity="0.14"/><stop offset="0.95" stop-color="#8a8a8a" stop-opacity="0.07"/></linearGradient>
<radialGradient id="e36" gradientUnits="userSpaceOnUse" cx="0" cy="0" r="1.02" gradientTransform="translate(972.1 890.7) rotate(-171.5) scale(44.8 41.4)"><stop offset="0" stop-color="#f7f7f7"/><stop offset="0.45" stop-color="#ebebeb"/><stop offset="0.72" stop-color="#d0d0d0"/><stop offset="0.9" stop-color="#a0a0a0"/><stop offset="1" stop-color="#787878"/></radialGradient>
<radialGradient id="e36h" gradientUnits="userSpaceOnUse" cx="0" cy="0" r="1" gradientTransform="translate(961.7 872) rotate(-171.5) scale(35.8 33.1)"><stop offset="0" stop-color="#fff" stop-opacity="1.0"/><stop offset="0.3" stop-color="#fff" stop-opacity="0.85"/><stop offset="0.6" stop-color="#fff" stop-opacity="0.40"/><stop offset="1" stop-color="#fff" stop-opacity="0"/></radialGradient>
<linearGradient id="e36s" gradientUnits="userSpaceOnUse" x1="959.7" y1="849.2" x2="984.5" y2="932.1"><stop offset="0.35" stop-color="#000" stop-opacity="0"/><stop offset="1" stop-color="#000" stop-opacity="0.25"/></linearGradient>
<path id="e36p" d="M927.4 890.1L927.5 886.2L928.1 882.3L928.7 879.5L929.6 876.6L931.1 873L933 869.6L934.7 867L936 865.3L938.6 862.3L941 860.1L943 858.5L945.4 856.8L947.6 855.4L950.6 853.9L953.1 852.8L956.2 851.7L958.5 851L961.2 850.4L963.9 849.9L966.7 849.6L968.9 849.5L971.3 849.4L973.5 849.5L976.4 849.6L979.2 850L981.6 850.4L984.4 851.1L987.1 851.9L989.8 852.9L992.9 854.3L995.5 855.6L998.3 857.4L1001 859.4L1003.6 861.6L1005.5 863.6L1007.4 865.7L1009.4 868.3L1011.1 871.1L1012.6 873.9L1013.5 875.9L1014.8 879.5L1015.6 882.4L1016.3 886.1L1016.6 889.9L1016.6 891.9L1016.4 895.6L1015.8 899.3L1014.9 903L1013.5 906.6L1012.4 909.2L1010.5 912.5L1008.8 915.1L1006.8 917.5L1004.9 919.6L1002.6 921.8L1000 923.8L997.3 925.6L994.5 927.3L992.3 928.3L989.2 929.5L986.5 930.4L983.2 931.2L979.9 931.8L978 932L974.6 932.1L971.7 932.1L968.9 931.9L967.5 931.7L964.6 931.2L961.9 930.6L959.1 929.9L956.1 928.8L954.4 928.2L951.9 927L949.4 925.7L947 924.3L944.3 922.4L942.9 921.4L940.4 919.2L938.5 917.3L936.3 914.8L934.9 913L933.1 910.3L931.6 907.5L930 903.9L929 900.9L928.2 897.9L927.6 894.1L927.4 891.1Z"/>
<g id="n37"><use href="#e36p" fill="url(#e36)" fill-opacity="1"/>
<use href="#e36p" fill="url(#e36s)" fill-opacity="1"/>
<use href="#e36p" fill="url(#e36h)" fill-opacity="1"/>
<path d="M993.3 893.8L988.2 893.8L982.9 893.8L977.6 893.7L972.2 893.5L967.1 893.4L962.2 893.2L957.6 893L953.4 892.7L949.7 892.5L946.4 892.2L943.5 892L941 891.7L938.8 891.5L936.9 891.3L935.3 891L933.8 890.8L932.5 890.6L931.4 890.4L930.3 890.2L929.4 890L928.6 889.8L927.9 889.6L927.5 889.3L927.4 889.1M993.3 893.8L988.4 892.6L983.2 891.4L978 890.2L972.8 889L967.8 887.8L963 886.8L958.5 885.8L954.4 885L950.7 884.2L947.5 883.6L944.6 883L942.1 882.6L940 882.2L938.1 881.9L936.5 881.6L935 881.4L933.7 881.2L932.5 881.1L931.5 880.9L930.5 880.8L929.7 880.8L929 880.8L928.6 880.8L928.4 880.9M993.3 893.8L988.8 891.5L984 889.1L979.1 886.8L974.3 884.6L969.6 882.6L965.1 880.7L960.8 879.1L957 877.6L953.4 876.4L950.3 875.4L947.6 874.6L945.2 873.9L943.1 873.4L941.2 873L939.6 872.7L938.1 872.5L936.8 872.4L935.6 872.2L934.5 872.2L933.6 872.2L932.7 872.3L932 872.4L931.4 872.7M993.3 893.8L989.4 890.5L985.2 887.1L980.9 883.9L976.6 880.8L972.4 877.9L968.4 875.3L964.5 873L961 871.1L957.7 869.4L954.8 868.1L952.2 867L949.9 866.2L947.9 865.5L946.1 865.1L944.5 864.8L943.1 864.6L941.7 864.4L940.5 864.4L939.4 864.4L938.3 864.5L937.4 864.7L936.6 865L935.9 865.4M993.3 893.8L990.2 889.6L986.8 885.4L983.3 881.4L979.7 877.6L976.1 874L972.7 870.8L969.3 868L966.2 865.6L963.3 863.6L960.7 862L958.3 860.8L956.1 859.8L954.2 859.1L952.5 858.6L950.9 858.2L949.5 858L948.1 857.9L946.9 857.9L945.7 858L944.6 858.1L943.5 858.4L942.6 858.8M993.3 893.8L991.1 889L988.7 884.2L986.1 879.5L983.3 875.2L980.5 871.1L977.7 867.5L975 864.3L972.4 861.6L969.9 859.4L967.6 857.6L965.4 856.1L963.5 855.1L961.7 854.3L960 853.8L958.5 853.4L957 853.2L955.7 853.1L954.4 853.1L953.1 853.2L951.9 853.4L950.8 853.8M993.3 893.8L992.2 888.6L990.8 883.4L989.1 878.4L987.3 873.7L985.4 869.4L983.3 865.5L981.3 862.1L979.2 859.2L977.2 856.8L975.2 854.9L973.3 853.4L971.5 852.3L969.8 851.4L968.3 850.9L966.8 850.5L965.3 850.3L964 850.2L962.6 850.2L961.3 850.4M993.3 893.8L993.3 888.5L992.9 883.1L992.3 878L991.5 873.2L990.4 868.8L989.2 864.9L987.8 861.4L986.2 858.5L984.7 856.1L983.1 854.1L981.5 852.6L979.9 851.5L978.3 850.6L976.8 850.1L975.4 849.7L973.9 849.5M993.3 893.8L994.4 888.6L995.1 883.4L995.5 878.4L995.6 873.8L995.4 869.5L994.9 865.7L994.1 862.3L993.2 859.5L992.1 857.1L990.8 855.3L989.5 853.8L988.1 852.7L986.7 851.9L985.2 851.3M993.3 893.8L995.4 889L997.1 884.2L998.5 879.6L999.5 875.3L1000.1 871.4L1000.3 867.8L1000.1 864.8L999.7 862.1L999 860L998.1 858.2L997 856.9L995.8 855.8M993.3 893.8L996.3 889.6L998.9 885.5L1001.1 881.5L1002.9 877.8L1004.2 874.3L1005 871.3L1005.4 868.6L1005.4 866.3L1005.1 864.4L1004.5 862.8L1003.6 861.6M993.3 893.8L997.1 890.5L1000.4 887.2L1003.3 884L1005.7 881L1007.6 878.2L1008.9 875.7L1009.8 873.6L1010.1 871.7L1010.1 870.1L1009.7 868.9M993.3 893.8L997.6 891.5L1001.5 889.2L1004.9 886.9L1007.8 884.8L1010.1 882.8L1011.8 881L1013 879.5L1013.6 878.1L1013.8 877M993.3 893.8L997.9 892.6L1002.2 891.4L1005.9 890.2L1009 889L1011.6 887.9L1013.5 886.9L1014.9 886L1015.7 885.2L1016 884.5M993.3 893.8L998 893.8L1002.4 893.7L1006.2 893.6L1009.4 893.5L1012 893.3L1014 893.1L1015.4 892.9L1016.2 892.6L1016.6 892.4M993.3 893.8L997.9 895L1002.1 896.1L1005.7 897.1L1008.8 897.9L1011.3 898.7L1013.2 899.3L1014.5 899.7L1015.3 900.1L1015.6 900.3M993.3 893.8L997.5 896.1L1001.3 898.3L1004.6 900.3L1007.4 902.2L1009.6 903.8L1011.2 905.1L1012.3 906.2L1012.9 907.1L1013 907.8M993.3 893.8L996.9 897.1L1000.1 900.3L1002.9 903.3L1005.1 906L1006.9 908.4L1008.1 910.4L1008.8 912.1L1009.1 913.5L1009 914.6M993.3 893.8L996.1 898L998.5 902L1000.6 905.7L1002.2 909.2L1003.3 912.2L1004 914.9L1004.3 917.1L1004.2 918.9L1003.8 920.3L1003.1 921.3M993.3 893.8L995.2 898.6L996.7 903.3L997.9 907.6L998.6 911.6L999 915.2L999.1 918.3L998.8 920.9L998.3 923L997.5 924.7L996.5 925.9L995.4 926.8M993.3 893.8L994.1 899L994.6 904.1L994.8 908.8L994.7 913.1L994.3 917L993.7 920.4L992.8 923.3L991.7 925.6L990.5 927.5L989.2 928.9L987.8 929.8L986.4 930.4M993.3 893.8L993 899.2L992.5 904.3L991.6 909.2L990.6 913.7L989.3 917.7L987.9 921.3L986.4 924.2L984.7 926.7L983.1 928.6L981.4 930L979.8 931L978.2 931.7L976.6 932M993.3 893.8L991.9 899.1L990.3 904.1L988.5 908.9L986.5 913.3L984.3 917.2L982.1 920.7L979.9 923.6L977.8 926L975.6 927.9L973.6 929.3L971.7 930.3L969.9 930.9L968.2 931.2L966.6 931.3L965.1 931.3L963.7 931M993.3 893.8L990.9 898.7L988.3 903.3L985.5 907.8L982.5 911.8L979.6 915.5L976.7 918.7L973.8 921.4L971.1 923.6L968.6 925.3L966.2 926.6L964 927.6L962 928.1L960.2 928.4L958.5 928.5L957 928.4L955.6 928.2L954.2 927.9L953 927.5L951.7 926.9M993.3 893.8L990 898L986.4 902.1L982.8 905.9L979 909.5L975.3 912.6L971.7 915.4L968.3 917.7L965.1 919.6L962.2 921.1L959.5 922.2L957.1 923L954.9 923.5L953 923.7L951.2 923.8L949.7 923.7L948.2 923.4L946.9 923.1L945.7 922.7L944.5 922.2L943.4 921.7L942.4 921M993.3 893.8L989.2 897.2L984.9 900.4L980.5 903.5L976.1 906.3L971.8 908.8L967.6 911L963.7 912.8L960.1 914.3L956.8 915.4L953.9 916.3L951.3 916.8L949 917.2L946.9 917.3L945.1 917.3L943.5 917.2L942.1 916.9L940.8 916.7L939.6 916.3L938.5 915.9L937.4 915.4L936.5 914.8L935.7 914M993.3 893.8L988.6 896.2L983.8 898.4L978.8 900.5L973.9 902.4L969.1 904.1L964.6 905.6L960.3 906.8L956.4 907.8L952.8 908.5L949.7 909L946.9 909.3L944.5 909.5L942.4 909.5L940.6 909.5L938.9 909.3L937.5 909.1L936.2 908.8L935 908.5L933.9 908.1L932.9 907.7L932.1 907.2L931.4 906.7L930.9 906M993.3 893.8L988.3 895L983.1 896.2L977.8 897.2L972.6 898.1L967.5 898.9L962.7 899.6L958.2 900.1L954.1 900.5L950.4 900.7L947.1 900.9L944.3 900.9L941.8 900.9L939.6 900.8L937.8 900.6L936.1 900.4L934.7 900.2L933.4 900L932.2 899.7L931.1 899.4L930.2 899.1L929.4 898.7L928.7 898.4L928.3 897.9M970.8 893.5L970.9 891.6L971.2 889.7L971.6 887.8L972.2 886L972.9 884.2L973.8 882.5L974.8 880.9L975.9 879.4L977.2 878L978.5 876.7L980 875.6L981.5 874.6L983.1 873.7L984.7 873.1L986.4 872.5L988.2 872.2L989.9 872L991.7 872L993.4 872.1L995.1 872.4L996.8 872.9L998.4 873.5L1000 874.3L1001.4 875.3L1002.8 876.4L1004.1 877.6L1005.3 878.9L1006.4 880.3L1007.4 881.9L1008.2 883.5L1008.9 885.2L1009.4 887L1009.8 888.8L1010.1 890.6L1010.2 892.5L1010.1 894.4L1009.9 896.2L1009.6 898.1L1009.1 899.9L1008.5 901.6L1007.7 903.3L1006.8 905L1005.8 906.5L1004.6 907.9L1003.4 909.3L1002 910.5L1000.6 911.5L999.1 912.5L997.5 913.3L995.8 913.9L994.1 914.4L992.4 914.7L990.7 914.9L988.9 914.9L987.2 914.7L985.5 914.3L983.8 913.8L982.2 913.1L980.7 912.3L979.2 911.3L977.8 910.2L976.5 909L975.3 907.6L974.3 906.1L973.3 904.5L972.5 902.8L971.9 901L971.4 899.2L971 897.3L970.8 895.4L970.8 893.5M951.3 892.6L951.5 889.4L951.9 886.2L952.7 883.1L953.6 880.1L954.9 877.1L956.3 874.3L958 871.6L959.9 869.1L962 866.8L964.2 864.8L966.6 862.9L969.2 861.3L971.9 859.9L974.6 858.8L977.4 858L980.3 857.4L983.2 857.1L986.1 857.1L989 857.4L991.8 857.9L994.5 858.7L997.2 859.8L999.8 861.1L1002.2 862.7L1004.5 864.5L1006.6 866.5L1008.6 868.7L1010.3 871.1L1011.9 873.6L1013.2 876.3L1014.4 879L1015.3 881.9L1015.9 884.9L1016.3 887.9L1016.5 891L1016.4 894L1016.1 897.1L1015.5 900.1L1014.7 903L1013.7 905.9L1012.5 908.7L1011 911.4L1009.3 913.9L1007.4 916.2L1005.4 918.4L1003.2 920.4L1000.8 922.2L998.3 923.7L995.7 925L993 926.1L990.2 926.9L987.4 927.5L984.5 927.8L981.7 927.8L978.8 927.5L976 926.9L973.2 926.1L970.5 925L967.9 923.7L965.4 922.1L963.1 920.2L961 918.2L959 915.9L957.2 913.4L955.6 910.8L954.3 908L953.2 905.1L952.3 902.1L951.7 898.9L951.4 895.8L951.3 892.6M939.1 891.5L939.4 887.9L939.9 884.2L940.7 880.6L941.9 877.1L943.3 873.7L945 870.5L946.9 867.4L949.1 864.5L951.5 861.9L954.1 859.5L956.9 857.4L959.9 855.5L963 853.9L966.1 852.7L969.4 851.7L972.7 851.1L976.1 850.8L979.4 850.8L982.7 851.1L986 851.8L989.2 852.7L992.2 853.9M981 931.6L977.7 931.9L974.4 932L971.1 931.7L967.8 931L964.6 930.1L961.5 928.9L958.5 927.3L955.6 925.5L952.9 923.4L950.4 921L948.1 918.4L946 915.6L944.2 912.5L942.6 909.3L941.3 905.9L940.3 902.4L939.6 898.9L939.2 895.2L939.1 891.5M932.4 890.6L932.6 886.9L933.2 883.2L934 879.5L935.1 876L936.6 872.6L938.3 869.3L940.3 866.2L942.5 863.3L944.9 860.6L947.6 858.2L950.4 856.1L953.4 854.2L956.5 852.6L959.8 851.3L963.1 850.4L966.5 849.7L969.8 849.4M958.2 929.6L955.1 928.3L952 926.7L949.1 924.9L946.4 922.8L943.8 920.4L941.5 917.7L939.4 914.8L937.5 911.8L935.9 908.5L934.6 905.1L933.6 901.6L932.9 898L932.5 894.3L932.4 890.6M928.3 889.7L928.5 886.1L929 882.6L929.8 879.2L930.9 875.8L932.3 872.5L933.9 869.4L935.8 866.5L937.9 863.7L940.3 861.2L942.8 858.9L945.5 856.8L948.4 855M939.2 918.1L937 915.6L935 912.8L933.2 909.9L931.7 906.8L930.4 903.5L929.5 900.2L928.8 896.7L928.4 893.2L928.3 889.7" fill="none" stroke="#222" stroke-width="0.8" stroke-opacity="0.5"/>
<use href="#e36p" fill="none" stroke="#777" stroke-width="0.9"/></g>
<linearGradient id="m38g" gradientUnits="userSpaceOnUse" x1="935.2" x2="1006.8" y1="0" y2="0"><stop offset="0.35" stop-color="#fff" stop-opacity="1"/><stop offset="0.88" stop-color="#fff" stop-opacity="0"/></linearGradient><mask id="m38" maskUnits="userSpaceOnUse" x="923.2" y="823.5" width="95.6" height="134"><rect x="923.2" y="823.5" width="95.6" height="134" fill="url(#m38g)"/></mask>
<clipPath id="clipfb"><polygon points="1198.5,507.2 1199,502.7 1200,498.2 1201.6,493.6 1203.9,489.1 1206.7,484.6 1210.1,480.1 1214,475.8 1218.4,471.6 1223.3,467.6 1228.6,463.8 1234.3,460.2 1240.3,456.9 1246.6,453.9 1253.2,451.1 1260,448.7 1266.9,446.7 1274,445 1281.1,443.7 1288.1,442.7 1295.1,442.2 1302,442.1 1308.7,442.3 1315.2,443 1321.5,444 1327.4,445.4 1332.9,447.2 1338.1,449.4 1342.8,451.9 1375.9,470.5 1380.1,473.3 1383.8,476.4 1386.9,479.8 1389.5,483.5 1391.6,487.3 1393,491.4 1393.8,495.6 1394,500 1393.5,504.5 1392.5,509 1390.9,513.6 1388.6,518.1 1385.8,522.6 1382.4,527.1 1378.5,531.4 1374.1,535.6 1369.2,539.6 1363.9,543.4 1358.2,547 1352.2,550.3 1345.9,553.3 1339.3,556.1 1332.5,558.5 1325.6,560.5 1318.5,562.2 1311.4,563.5 1304.4,564.5 1297.4,565 1290.5,565.1 1283.8,564.9 1277.3,564.2 1271,563.2 1265.1,561.8 1259.6,560 1254.4,557.8 1249.7,555.3 1216.6,536.7 1212.4,533.9 1208.7,530.8 1205.6,527.4 1203,523.7 1200.9,519.9 1199.5,515.8 1198.7,511.6"/></clipPath>
<radialGradient id="qf1" gradientUnits="userSpaceOnUse" cx="0" cy="0" r="1" fx="0.0" fy="0.05" gradientTransform="translate(1328.9 522) rotate(-15) scale(83 49.3)"><stop offset="0" stop-color="#faec60"/><stop offset="0.16" stop-color="#f4cf47"/><stop offset="0.42" stop-color="#eca53c"/><stop offset="0.72" stop-color="#df8140"/><stop offset="1" stop-color="#d3704a"/></radialGradient>
<radialGradient id="qf2" gradientUnits="userSpaceOnUse" cx="0" cy="0" r="1" fx="-0.05" fy="0.1" gradientTransform="translate(1331 888.2) scale(56.4 63.1)"><stop offset="0" stop-color="#f8ea5c"/><stop offset="0.3" stop-color="#f5d24a"/><stop offset="0.6" stop-color="#f0aa3e"/><stop offset="0.85" stop-color="#e8883c"/><stop offset="1" stop-color="#e07a3e"/></radialGradient>
<radialGradient id="detbg" cx="0.5" cy="0.5" r="0.5"><stop offset="0" stop-color="#c4c4c4"/><stop offset="0.4" stop-color="#cbcbcb"/><stop offset="0.75" stop-color="#e6e6e6"/><stop offset="1" stop-color="#fbfbfb"/></radialGradient>
<radialGradient id="lg39" gradientUnits="userSpaceOnUse" cx="1719.7" cy="520.5" r="101"><stop offset="0" stop-color="#f5a070"/><stop offset="0.3" stop-color="#ee9766"/><stop offset="0.5" stop-color="#8a5f92"/><stop offset="0.64" stop-color="#2b2f9c"/><stop offset="1" stop-color="#26298f"/></radialGradient>
<radialGradient id="glowA" cx="0.5" cy="0.5" r="0.5"><stop offset="0" stop-color="#f9b4b4"/><stop offset="0.3" stop-color="#f59a80" stop-opacity="0.95"/><stop offset="0.7" stop-color="#f0a070" stop-opacity="0.5"/><stop offset="1" stop-color="#f0a070" stop-opacity="0"/></radialGradient>
<radialGradient id="lg40" gradientUnits="userSpaceOnUse" cx="1719.7" cy="860.2" r="101"><stop offset="0" stop-color="#f5a070"/><stop offset="0.3" stop-color="#ee9766"/><stop offset="0.5" stop-color="#8a5f92"/><stop offset="0.64" stop-color="#2b2f9c"/><stop offset="1" stop-color="#26298f"/></radialGradient>
<radialGradient id="glowB" cx="0.5" cy="0.5" r="0.5"><stop offset="0" stop-color="#f9b4b4"/><stop offset="0.3" stop-color="#f59a80" stop-opacity="0.95"/><stop offset="0.7" stop-color="#f0a070" stop-opacity="0.5"/><stop offset="1" stop-color="#f0a070" stop-opacity="0"/></radialGradient>
</defs>
<rect width="1864" height="1104" fill="#fff"/>
<use href="#e1p" fill="url(#e1)" fill-opacity="1"/>
<use href="#e1p" fill="url(#e1s)" fill-opacity="1"/>
<use href="#e1p" fill="url(#e1h)" fill-opacity="1"/>
<polygon points="66.4,300.8 66.4,302.4 66.5,303.9 66.8,305.5 67.2,307 67.7,308.6 68.4,310.1 69.2,311.6 70.1,313.1 71.2,314.5 72.4,315.9 73.7,317.3 75.2,318.7 76.7,320 78.4,321.3 80.2,322.5 82.2,323.7 84.2,324.9 86.4,326 88.6,327 91,328 93.4,328.9 96,329.8 98.6,330.6 101.3,331.3 104.1,331.9 107,332.5 109.9,333 112.9,333.5 115.9,333.8 119,334.1 122.1,334.3 125.3,334.5 128.4,334.5 131.6,334.5 134.8,334.4 138,334.2 141.1,334 144.3,333.7 147.5,333.3 150.6,332.8 153.6,332.2 156.7,331.6 159.7,330.9 162.6,330.1 165.5,329.3 168.3,328.4 171,327.5 173.6,326.4 176.2,325.4 178.7,324.2 181,323.1 183.3,321.8 185.5,320.5 187.5,319.2 189.5,317.9 191.3,316.5 193,315 194.6,313.6 196,312.1 197.4,310.6 198.6,309 199.6,307.5 200.6,305.9 201.4,304.3 202,302.7 202.6,301.2 203,299.6 203.2,298 203.4,296.4 203.4,294.8 203.3,293.3 206.3,293.3 206.3,413.2 63.4,413.2 63.4,300.8" fill="#000" fill-opacity="0.07" clip-path="url(#e1c)"/>
<path d="M131.3 238.8L122.9 238.8L114.7 239.8L106.9 241.6L99.6 244.4L93 248L87.2 252.3L82.2 257.1L78.1 262.4M131.3 238.8L123.7 237.8L116.3 237.7L109.3 238.6L102.8 240.5L96.9 243.2L91.8 246.7M131.3 238.8L125 236.8L118.9 235.9L113.1 235.9L107.9 237L103.1 238.9M131.3 238.8L126.7 236.1L122.3 234.4L118.2 233.8L114.5 234.2M131.3 238.8L128.8 235.5L126.4 233.3L124.1 232.2M131.3 238.8L131 235.3L130.7 232.8L130.6 231.4M131.3 238.8L133.2 235.2L135.2 232.8L137 231.4M131.3 238.8L135.4 235.5L139.3 233.3L143.2 232.1L146.8 232M131.3 238.8L137.2 236L143 234.3L148.6 233.6L153.8 234M131.3 238.8L138.7 236.8L145.9 235.8L152.9 235.8L159.4 236.8L165.4 238.7L170.8 241.5M131.3 238.8L139.7 237.7L147.9 237.6L155.8 238.4L163.2 240.2L170.1 242.9L176.3 246.4L181.8 250.5L186.5 255.3M131.3 238.8L140.1 238.7L148.7 239.6L157 241.5L164.9 244.2L172.3 247.7L178.9 252L184.7 256.9L189.7 262.2L193.9 267.9L197.2 273.8L199.8 279.8L201.7 285.7M131.3 238.8L139.9 239.8L148.4 241.8L156.6 244.6L164.4 248.3L171.7 252.8L178.3 258L184.2 263.6L189.2 269.6L193.4 275.9L196.7 282.3L199.3 288.7L201.2 294.9L202.5 301L203.4 306.9L204 312.5L204.3 318L204.4 323.3L204.5 328.5L204.4 333.8L204.2 339L203.8 344.3L203.1 349.7L202 355.2M131.3 238.8L139.1 240.8L146.9 243.8L154.4 247.7L161.7 252.4L168.4 257.8L174.6 263.8L180 270.3L184.7 277L188.6 283.9L191.8 290.8L194.3 297.5L196.1 304.1L197.3 310.4L198.2 316.4L198.7 322.2L199 327.7L199.2 333.1L199.3 338.4L199.3 343.7L199.1 348.9L198.7 354.2L198.1 359.5L197 364.8L195.5 370L193.4 375L190.7 379.7M131.3 238.8L137.8 241.8L144.3 245.7L150.6 250.5L156.8 256.2L162.5 262.4L167.7 269.2L172.4 276.4L176.5 283.8L179.9 291.2L182.6 298.5L184.8 305.7L186.4 312.5L187.5 319L188.3 325.2L188.8 331.1L189.1 336.7L189.3 342.2L189.5 347.5L189.5 352.8L189.4 358.1L189.1 363.3L188.6 368.6L187.8 373.7L186.5 378.7L184.8 383.4L182.5 387.7L179.7 391.4L176.2 394.6M131.3 238.8L136.1 242.6L140.8 247.3L145.5 252.9L150 259.2L154.3 266.2L158.3 273.7L161.8 281.5L164.9 289.4L167.5 297.3L169.7 305L171.4 312.5L172.7 319.6L173.6 326.3L174.3 332.6L174.8 338.5L175.1 344.2L175.4 349.7L175.5 355.1L175.6 360.4L175.6 365.6L175.5 370.9L175.3 376L174.7 381.1L173.9 385.9L172.7 390.3L171.1 394.2L169 397.5L166.6 400.1M131.3 238.8L134 243.1L136.7 248.4L139.4 254.5L142 261.4L144.5 269L146.9 276.9L149 285.1L150.9 293.4L152.5 301.7L153.9 309.7L155.1 317.3L156 324.6L156.7 331.4L157.2 337.8L157.6 343.9L158 349.6L158.3 355.1L158.5 360.5L158.7 365.8L158.9 371L158.9 376.2L158.9 381.3L158.8 386.3L158.4 390.9L157.9 395.2L157.1 398.8L156.1 401.8L154.8 404L153.3 405.3M131.3 238.8L131.7 243.4L132.2 249L132.7 255.4L133.2 262.6L133.8 270.4L134.3 278.6L134.9 287L135.5 295.5L136 303.9L136.6 312.1L137.1 319.8L137.5 327.2L138 334.1L138.3 340.5L138.7 346.6L139.1 352.3L139.4 357.8L139.7 363.2L140 368.5L140.3 373.7L140.6 378.9L140.9 384L141.2 388.9L141.4 393.5L141.6 397.6L141.8 401.1L141.9 404L141.9 406L141.9 407.1M131.3 238.8L129.4 243.4L127.6 249L125.9 255.4L124.3 262.6L122.9 270.4L121.7 278.6L120.7 287L119.9 295.5L119.3 303.9L119 312L118.9 319.8L118.9 327.1L119 333.9L119.2 340.4L119.5 346.4L119.9 352.1L120.3 357.6L120.6 363L121.1 368.3L121.5 373.5L122 378.7L122.6 383.8L123.3 388.7L124.1 393.2L125.1 397.4L126.2 400.9L127.5 403.8L128.9 405.8L130.4 406.9M131.3 238.8L127.3 243.1L123.3 248.4L119.5 254.6L115.9 261.5L112.7 269L109.8 276.9L107.3 285.1L105.3 293.4L103.8 301.5L102.6 309.5L101.9 317.1L101.5 324.3L101.3 331.1L101.4 337.5L101.7 343.4L102 349.1L102.4 354.6L102.9 360L103.4 365.2L104 370.5L104.7 375.6L105.6 380.7L106.7 385.7L108 390.3L109.7 394.5L111.7 398.2L114 401.2L116.6 403.5L119.6 404.9M131.3 238.8L125.4 242.6L119.6 247.4L114 253L108.8 259.3L104 266.3L99.7 273.7L96 281.5L92.9 289.3L90.5 297.1L88.7 304.8L87.5 312.2L86.7 319.2L86.4 325.8L86.3 332L86.5 338L86.9 343.6L87.3 349L87.8 354.3L88.4 359.6L89.1 364.8L90 370L91.1 375.1L92.5 380.1L94.3 384.9L96.6 389.3L99.3 393.3L102.5 396.6L106.1 399.3M131.3 238.8L124 241.8L116.7 245.8L109.8 250.7L103.3 256.3L97.3 262.5L92 269.3L87.4 276.4L83.6 283.7L80.5 291L78.3 298.3L76.7 305.3L75.7 312.1L75.2 318.5L75 324.6L75.2 330.4L75.5 336L76 341.4L76.5 346.6L77.2 351.9L78 357.1L79 362.3L80.2 367.5L81.9 372.6L84 377.5L86.6 382.2L89.9 386.5M131.3 238.8L123 240.9L114.9 244L107.1 247.9L99.8 252.6L93.1 258L87.2 264L82.1 270.4L77.9 277L74.5 283.8L71.9 290.6L70.1 297.2L69 303.7L68.4 309.9L68.2 315.9L68.4 321.5L68.7 327L69.2 332.3L69.7 337.6L70.4 342.7L71.2 347.9L72.3 353.2L73.6 358.4L75.4 363.7M131.3 238.8L122.6 239.9L114.2 241.9L106.1 244.8L98.6 248.5L91.7 253L85.6 258.1L80.4 263.8L76.1 269.7L72.6 275.9L70 282.2L68.2 288.5L67 294.7L66.4 300.6M84.1 255.2L85.4 253.1L87.1 251M176.9 245.9L178.8 247.7L180.3 249.7L181.5 251.7L182.3 253.8L182.7 255.9L182.7 258.1L182.3 260.3L181.6 262.5L180.4 264.6L178.8 266.8L176.9 268.9L174.6 270.9L171.9 272.8L168.9 274.6L165.5 276.3L161.9 277.9L158 279.3L153.9 280.5L149.7 281.6L145.2 282.5L140.7 283.2L136 283.6L131.4 283.9L126.7 283.9L122.2 283.8L117.7 283.4L113.3 282.9L109.1 282.1L105.1 281.1L101.4 280L97.9 278.7L94.7 277.2L91.9 275.6L89.4 273.8L87.2 272L85.5 270L84.1 268L83.1 265.9L82.5 263.8L82.3 261.6L82.5 259.5L83.1 257.3L84.1 255.2M203.2 293.2L203.4 296.3L203 299.5L202 302.8L200.5 306L198.5 309.1L195.9 312.2L192.8 315.2L189.2 318.1L185.1 320.8L180.5 323.3L175.6 325.6L170.3 327.7L164.6 329.6L158.7 331.1L152.6 332.4L146.3 333.4L139.8 334.1L133.4 334.5L126.9 334.5L120.6 334.2L114.3 333.7L108.3 332.8L102.5 331.6L97 330.1L91.9 328.3L87.1 326.3L82.8 324.1L78.9 321.7L75.5 319L72.7 316.3L70.3 313.4L68.5 310.3L67.3 307.2L66.6 304.1L66.4 300.9M205.2 329L204.8 332.4L203.9 335.8L202.4 339.1L200.4 342.5L197.8 345.7L194.7 348.9L191.1 351.9L187 354.7L182.5 357.4L177.6 359.8L172.3 362L166.6 363.9L160.7 365.6L154.6 366.9L148.3 367.9L141.9 368.6L135.5 369L129 369L122.7 368.7L116.4 368.1L110.4 367.1L104.6 365.8L99.1 364.2L94 362.4L89.2 360.2L84.9 357.9L81 355.3L77.6 352.5L74.7 349.6L72.4 346.5L70.6 343.3L69.3 340M196.5 370L194.7 373.1L192.4 376.1L189.6 379L186.5 381.8L182.9 384.4L178.9 386.8L174.5 389L169.9 391L164.9 392.8L159.7 394.3L154.4 395.5L148.9 396.4L143.2 397L137.6 397.4L132 397.4L126.4 397.1L120.9 396.5L115.6 395.6L110.5 394.4L105.7 392.9L101.2 391.2L96.9 389.2L93.1 387L89.7 384.6L86.7 382.1L84.1 379.3L82 376.5" fill="none" stroke="#333" stroke-width="0.85" stroke-opacity="0.82"/>
<use href="#e1p" fill="none" stroke="#777" stroke-width="0.9"/>
<line x1="551.2" y1="110.4" x2="1199" y2="110.4" stroke="#1c1c1c" stroke-width="1.8" stroke-dasharray="3.3 3.2"/>
<use href="#e2p" fill="url(#e2)" fill-opacity="1"/>
<use href="#e2p" fill="url(#e2s)" fill-opacity="1"/>
<use href="#e2p" fill="url(#e2h)" fill-opacity="1"/>
<polygon points="590.8,98.1 590.8,98.5 591,99 591.2,99.4 591.6,99.9 592,100.3 592.5,100.7 593.1,101.2 593.8,101.6 594.5,102 595.4,102.4 596.3,102.8 597.3,103.2 598.4,103.6 599.6,104 600.8,104.4 602.1,104.7 603.5,105 605,105.4 606.5,105.7 608.1,106 609.8,106.2 611.5,106.5 613.3,106.7 615.1,107 616.9,107.2 618.8,107.4 620.8,107.5 622.7,107.7 624.7,107.8 626.8,107.9 628.8,108 630.9,108 632.9,108 635,108.1 637.1,108 639.1,108 641.2,108 643.2,107.9 645.3,107.8 647.3,107.7 649.2,107.5 651.2,107.4 653.1,107.2 654.9,107 656.7,106.7 658.5,106.5 660.2,106.2 661.9,106 663.5,105.7 665,105.4 666.5,105 667.9,104.7 669.2,104.4 670.4,104 671.6,103.6 672.7,103.2 673.7,102.8 674.6,102.4 675.5,102 676.2,101.6 676.9,101.2 677.5,100.7 678,100.3 678.4,99.9 678.8,99.4 679,99 679.2,98.5 679.2,98.1 682.2,98.1 682.2,176.4 587.8,176.4 587.8,98.1" fill="#000" fill-opacity="0.07" clip-path="url(#e2c)"/>
<path d="M635 51L635.5 50.5M635 51L637.2 50.6M635 51L638.6 50.7M635 51L639.7 50.9L644.3 51.5M635 51L640.4 51.2L645.7 52L650.7 53.6L655.5 55.7M635 51L640.5 51.4L646 52.6L651.2 54.4L656.1 56.8L660.7 59.8L664.8 63.3L668.3 67.2L671.4 71.4L673.8 75.9L675.8 80.4L677.2 85L678.2 89.4L678.9 93.8L679.2 98.1L679.4 102.2L679.5 106.2L679.4 110.1L679.4 114L679.2 117.9M635 51L640.1 51.7L645.2 53.1L650.1 55.2L654.7 57.9L659 61.1L662.9 64.9L666.3 69.1L669.2 73.5L671.6 78.2L673.4 82.9L674.8 87.7L675.8 92.3L676.4 96.9L676.8 101.3L677 105.5L677 109.6L677 113.6L676.9 117.5L676.8 121.5L676.6 125.5L676.3 129.6L675.8 133.8L675 138L673.9 142.2L672.4 146.4L670.5 150.5L668 154.4L665.1 157.9M635 51L639.2 51.9L643.4 53.6L647.5 55.9L651.3 58.8L654.9 62.3L658.2 66.3L661.1 70.8L663.5 75.4L665.5 80.3L667.1 85.3L668.3 90.2L669.1 95L669.6 99.7L669.9 104.1L670.1 108.5L670.1 112.6L670.1 116.7L670 120.7L669.9 124.8L669.8 128.8L669.5 133L669.1 137.2L668.4 141.4L667.5 145.7L666.2 149.8L664.6 153.8L662.5 157.5L660.1 160.8L657.2 163.7L654.1 166M635 51L637.9 52.1L640.8 53.9L643.6 56.4L646.2 59.5L648.7 63.3L651 67.5L653 72.1L654.7 76.9L656.1 82L657.2 87.1L658 92.1L658.6 97.1L659 101.8L659.2 106.4L659.3 110.8L659.3 115L659.3 119.2L659.3 123.3L659.2 127.4L659.1 131.5L658.9 135.7L658.6 139.9L658.1 144.1L657.5 148.4L656.6 152.5L655.4 156.3L654 159.9L652.3 163.1L650.3 165.7L648.1 167.8L645.7 169.2M635 51L636.3 52.2L637.5 54.1L638.7 56.7L639.9 60L641 63.8L642 68.1L642.9 72.8L643.7 77.8L644.3 83L644.8 88.1L645.1 93.3L645.4 98.3L645.6 103.1L645.7 107.8L645.7 112.2L645.7 116.5L645.7 120.7L645.7 124.8L645.7 128.9L645.6 133L645.5 137.2L645.4 141.5L645.2 145.8L644.9 150L644.5 154L644 157.9L643.4 161.3L642.6 164.4L641.7 166.9L640.8 168.8L639.7 170L638.6 170.6M635 51L634.5 52.2L634 54.2L633.5 56.8L633.1 60.1L632.7 63.9L632.3 68.2L631.9 73L631.6 78L631.4 83.1L631.2 88.3L631.1 93.5L631 98.5L630.9 103.4L630.9 108L630.8 112.5L630.8 116.7L630.8 120.9L630.8 125.1L630.9 129.2L630.9 133.3L630.9 137.5L631 141.8L631 146.1L631.2 150.3L631.3 154.3L631.5 158.1L631.8 161.6L632.1 164.6L632.4 167.1L632.8 169L633.2 170.2L633.6 170.7M635 51L632.8 52.2L630.6 54L628.5 56.6L626.5 59.8L624.6 63.5L622.8 67.8L621.3 72.5L620 77.4L618.9 82.5L618.1 87.6L617.4 92.7L617 97.7L616.7 102.5L616.5 107.1L616.5 111.6L616.4 115.8L616.5 120L616.5 124.1L616.5 128.2L616.6 132.3L616.8 136.5L617 140.8L617.4 145L617.9 149.2L618.6 153.3L619.4 157.2L620.5 160.7L621.8 163.8L623.3 166.3L625 168.3L626.9 169.7L628.8 170.3M635 51L631.3 52L627.7 53.7L624.1 56.1L620.7 59.2L617.6 62.8L614.7 66.9L612.2 71.4L610.1 76.2L608.3 81.1L606.9 86.1L605.9 91.1L605.1 96L604.7 100.7L604.4 105.2L604.3 109.6L604.2 113.8L604.3 117.9L604.3 122L604.4 126L604.5 130.1L604.8 134.3L605.2 138.5L605.7 142.8L606.6 147L607.7 151.1L609.1 155L610.9 158.7L613.1 161.9L615.6 164.7L618.4 166.9L621.4 168.5M635 51L630.2 51.8L625.5 53.3L620.9 55.5L616.5 58.3L612.5 61.7L608.8 65.6L605.6 69.9L602.9 74.4L600.7 79.2L598.9 84L597.6 88.8L596.7 93.6L596.1 98.2L595.7 102.6L595.6 106.9L595.5 111L595.5 115L595.6 119L595.7 123L595.9 127.1L596.2 131.2L596.7 135.4L597.4 139.6L598.5 143.8L599.9 148L601.7 152L604 155.8L606.7 159.3L609.9 162.3L613.5 164.8M635 51L629.6 51.6L624.2 52.8L619.1 54.7L614.2 57.3L609.7 60.4L605.7 64L602.1 68.1L599.1 72.4L596.7 76.9L594.8 81.5L593.3 86.2L592.3 90.7L591.7 95.2L591.3 99.5L591.1 103.7L591.1 107.7L591.1 111.7L591.2 115.6L591.3 119.5L591.5 123.5L591.8 127.5L592.4 131.7L593.1 135.9L594.3 140.2L595.8 144.4M635 51L629.5 51.3L624.1 52.3L618.9 53.9L614 56.2L609.5 59.1L605.5 62.4L602 66.2M635 51L629.9 51L624.9 51.8M635 51L630.8 50.8M635 51L632.2 50.6M635 51L633.8 50.5M671.8 71.7L671.8 72.3L671.5 72.9L670.9 73.5L670 74.1L668.8 74.7L667.3 75.3L665.6 75.8L663.6 76.3L661.3 76.8L658.8 77.2L656.1 77.6L653.2 78L650.1 78.3L646.9 78.5L643.6 78.7L640.2 78.8L636.8 78.9L633.3 78.9L629.9 78.8L626.5 78.7L623.2 78.5L620 78.3L616.9 78L614 77.6L611.3 77.2L608.8 76.8L606.5 76.3L604.5 75.8L602.7 75.3L601.3 74.7L600.1 74.2L599.2 73.6L598.5 72.9L598.2 72.3L598.2 71.7M679.2 98.3L678.9 99.2L678.2 100.1L677.2 101L675.8 101.9L674 102.7L672 103.5L669.6 104.3L666.8 105L663.8 105.6L660.6 106.2L657.1 106.7L653.4 107.1L649.5 107.5L645.5 107.8L641.3 107.9L637.2 108L633 108L628.8 107.9L624.7 107.8L620.6 107.5L616.7 107.1L613 106.7L609.5 106.2L606.2 105.6L603.2 105L600.5 104.3L598.1 103.5L596 102.7L594.3 101.9L592.9 101L591.8 100.1L591.1 99.3L590.8 98.4M679.1 121.4L678.7 122.5L678 123.5L677 124.5L675.6 125.5L673.9 126.5L671.8 127.4L669.4 128.3L666.7 129.1L663.7 129.9L660.5 130.5L657 131.1L653.3 131.6L649.4 132L645.4 132.4L641.3 132.6L637.2 132.7L633 132.7L628.8 132.6L624.7 132.4L620.7 132.1L616.8 131.6L613.1 131.1L609.6 130.6L606.4 129.9L603.4 129.1L600.6 128.3L598.2 127.4L596.2 126.5L594.4 125.6L593 124.6L592 123.5L591.3 122.5L591 121.5M672.4 147.9L671.5 148.9L670.3 149.9L668.7 150.8L666.9 151.8L664.8 152.6L662.5 153.4L659.9 154.2L657 154.8L654 155.4L650.8 155.9L647.5 156.3L644 156.6L640.5 156.8L636.9 156.9L633.2 156.9L629.6 156.8L626.1 156.6L622.6 156.3L619.3 155.9L616.1 155.4L613 154.8L610.2 154.2L607.6 153.4L605.2 152.6L603.1 151.8L601.3 150.9L599.8 149.9L598.5 148.9L597.6 147.9M646.3 169.2L645 169.5L643.6 169.8L642.1 170.1L640.6 170.3L639.1 170.4L637.5 170.5L635.8 170.6L634.2 170.6L632.6 170.5L631 170.4L629.4 170.3L627.9 170.1L626.4 169.8L625 169.6L623.7 169.2" fill="none" stroke="#333" stroke-width="0.72" stroke-opacity="0.82"/>
<use href="#e2p" fill="none" stroke="#777" stroke-width="0.9"/>
<use href="#e3p" fill="url(#e3)" fill-opacity="1"/>
<use href="#e3p" fill="url(#e3s)" fill-opacity="1"/>
<use href="#e3p" fill="url(#e3h)" fill-opacity="1"/>
<path d="M821.9 109.2L821.3 108.5L819.9 107.7L817.9 107L815.2 106.3L811.8 105.7L808 105.1L803.7 104.7L799.2 104.3L794.4 104L789.5 103.7L784.7 103.6L779.9 103.5L775.2 103.4L770.7 103.3L766.2 103.3L761.9 103.3L757.6 103.3L753.3 103.3L748.8 103.3L744.3 103.4L739.7 103.5L734.9 103.6L730.2 103.7L725.4 104L720.7 104.3L716.3 104.7L712.2 105.2L708.5 105.7L705.4 106.3L702.9 107L701.1 107.7L699.9 108.5L699.5 109.2M821.9 107.6L821.2 105.2L819.8 102.8L817.7 100.6L815 98.4L811.7 96.5L807.8 94.8L803.6 93.3L799 92.1L794.2 91.1L789.4 90.4L784.6 89.9L779.8 89.5L775.2 89.3L770.7 89.2L766.3 89.1L762 89.1L757.7 89.1L753.4 89.1L749 89.2L744.5 89.3L739.9 89.5L735.2 89.9L730.4 90.4L725.7 91.2L721 92.1L716.6 93.4L712.5 94.8L708.8 96.6L705.7 98.5L703.1 100.6L701.2 102.8L700.1 105.2M821.8 106.2L821 102.4L819.6 98.7L817.4 95.1L814.7 91.8L811.3 88.8L807.5 86.2L803.2 83.9L798.7 82L794 80.5L789.2 79.3L784.4 78.5L779.7 78L775.2 77.7L770.7 77.5L766.4 77.4L762.1 77.3L757.9 77.4L753.7 77.4L749.3 77.5L744.9 77.7L740.4 78L735.7 78.6L731 79.4L726.3 80.5L721.7 82L717.2 83.9L713.1 86.2L709.4 88.9L706.2 91.9L703.6 95.2L701.6 98.7L700.3 102.4M820.8 100.3L819.3 95.7L817 91.3L814.2 87.1L810.8 83.4L807 80.1L802.7 77.3L798.3 75L793.6 73.1L788.9 71.7L784.2 70.7L779.6 70.1L775.1 69.7L770.8 69.4L766.5 69.3L762.3 69.3L758.2 69.3L754 69.3L749.8 69.5L745.4 69.7L741 70.1L736.4 70.8L731.7 71.8L727.1 73.2L722.5 75.1L718.1 77.4L713.9 80.2L710.2 83.5L706.9 87.2L704.2 91.3L702.1 95.7M816.6 89.3L813.7 84.8L810.3 80.8L806.4 77.2L802.2 74.2L797.8 71.7L793.2 69.7L788.6 68.2L784 67.2L779.4 66.4L775.1 66L770.8 65.8L766.6 65.6L762.6 65.6L758.5 65.6L754.4 65.7L750.3 65.8L746 66L741.7 66.5L737.2 67.2L732.6 68.3L728 69.8L723.5 71.8L719.1 74.3L714.9 77.3L711.1 80.9M813.6 135.3L810.2 139.3L806.3 142.9L802.1 145.9L797.7 148.4L793.1 150.4L788.5 151.9L783.9 153L779.4 153.7L775.1 154.1L770.8 154.4L766.7 154.5L762.6 154.5L758.6 154.5L754.5 154.5L750.4 154.3L746.1 154.1L741.7 153.6L737.3 152.9L732.7 151.8L728.1 150.3L723.6 148.4L719.2 145.8L715 142.8M820.8 119.8L819.2 124.6L817 129.1L814.1 133.2L810.8 137L806.9 140.4L802.7 143.2L798.2 145.6L793.6 147.5L788.9 148.9L784.2 149.9L779.6 150.5L775.1 151L770.8 151.2L766.5 151.3L762.4 151.3L758.2 151.3L754.1 151.3L749.8 151.2L745.5 150.9L741.1 150.5L736.5 149.8L731.8 148.8L727.2 147.4L722.6 145.5L718.2 143.1L714.1 140.3L710.3 136.9L707 133.2L704.2 129L702.1 124.5M821.8 114L821 117.9L819.5 121.7L817.4 125.4L814.6 128.8L811.3 131.9L807.4 134.7L803.2 137L798.6 139L793.9 140.5L789.2 141.7L784.4 142.5L779.7 143.1L775.2 143.4L770.7 143.6L766.4 143.7L762.2 143.7L757.9 143.7L753.7 143.7L749.4 143.6L745 143.4L740.4 143L735.8 142.5L731.1 141.6L726.4 140.4L721.7 138.9L717.3 136.9L713.2 134.6L709.5 131.8L706.3 128.7L703.6 125.3L701.6 121.7L700.3 117.9M821.9 112.6L821.2 115.2L819.8 117.7L817.7 120.1L815 122.4L811.6 124.4L807.8 126.3L803.5 127.8L799 129.1L794.2 130.2L789.4 131L784.6 131.5L779.8 131.9L775.2 132.1L770.7 132.3L766.3 132.3L762 132.4L757.7 132.4L753.4 132.3L749 132.3L744.6 132.1L740 131.9L735.3 131.5L730.5 130.9L725.7 130.1L721.1 129.1L716.7 127.8L712.5 126.2L708.9 124.4L705.7 122.3L703.2 120.1L701.3 117.7L700.1 115.1M821.9 111L821.3 111.9L819.9 112.9L817.9 113.8L815.1 114.6L811.8 115.4L808 116.1L803.7 116.6L799.2 117.1L794.4 117.5L789.5 117.8L784.7 118L779.9 118.2L775.2 118.3L770.7 118.3L766.3 118.3L761.9 118.3L757.6 118.3L753.3 118.3L748.9 118.3L744.3 118.2L739.7 118.2L735 118L730.2 117.8L725.4 117.5L720.7 117.1L716.3 116.6L712.2 116L708.5 115.4L705.4 114.6L702.9 113.7L701.1 112.8L699.9 111.9L699.5 111M812.4 105.8L812.4 103.2L812.4 100.6L812.3 98.1L812.2 95.8L812.1 93.5L812 91.4L811.9 89.5L811.8 87.7L811.7 86.1L811.5 84.8L811.4 83.6L811.2 82.7L811.1 82L810.9 81.5M810.8 138.7L810.9 138.5L811.1 137.9L811.2 137.2L811.4 136.2L811.5 135L811.7 133.6L811.8 132L811.9 130.2L812 128.3L812.1 126.1L812.2 123.9L812.3 121.5L812.4 119L812.4 116.4L812.4 113.8L812.4 111.1L812.4 108.5L812.4 105.8M786.3 103.6L786.3 99.6L786.2 95.8L786.2 92L786.2 88.4L786.1 85.1L786.1 81.9L786 79L785.9 76.4L785.9 74.1L785.8 72.1L785.7 70.5L785.7 69.2L785.6 68.2L785.5 67.5L785.4 67.3M785.4 152.7L785.5 152.4L785.6 151.7L785.7 150.7L785.7 149.3L785.8 147.6L785.9 145.5L786 143.2L786 140.5L786.1 137.6L786.1 134.4L786.2 131L786.2 127.4L786.2 123.6L786.3 119.8L786.3 115.8L786.3 111.7L786.3 107.7L786.3 103.6M759.7 103.3L759.8 99.2L759.8 95.1L759.8 91.2L759.9 87.4L759.9 83.9L760 80.6L760 77.6L760.1 74.9L760.1 72.5L760.2 70.5L760.3 68.7L760.4 67.4L760.4 66.3L760.5 65.7L760.6 65.4M760.6 154.6L760.5 154.2L760.4 153.5L760.4 152.5L760.3 151L760.2 149.2L760.1 147.1L760.1 144.7L760 141.9L760 138.9L759.9 135.5L759.9 132L759.8 128.2L759.8 124.3L759.8 120.2L759.7 116L759.7 111.8L759.7 107.5L759.7 103.3M733.3 103.6L733.4 99.7L733.5 95.8L733.6 92L733.7 88.5L733.8 85.1L734 82L734.1 79.1L734.3 76.5L734.5 74.2L734.7 72.2L734.9 70.6L735.2 69.2L735.4 68.3L735.6 67.6L735.8 67.3M735.8 152.7L735.6 152.3L735.3 151.6L735.1 150.6L734.9 149.2L734.7 147.5L734.5 145.5L734.3 143.1L734.1 140.5L733.9 137.6L733.8 134.4L733.7 131L733.5 127.4L733.5 123.6L733.4 119.7L733.3 115.8L733.3 111.7L733.3 107.7L733.3 103.6M708 105.8L708 103.2L708.1 100.6L708.2 98.2L708.3 95.8L708.5 93.6L708.6 91.5L708.8 89.5L709 87.8L709.2 86.2L709.5 84.9L709.7 83.7L709.9 82.8L710.2 82.1L710.5 81.6M710.4 138.4L710.2 137.8L709.9 137.1L709.7 136.1L709.4 134.9L709.2 133.5L709 131.9L708.8 130.2L708.6 128.2L708.4 126.1L708.3 123.8L708.2 121.4L708.1 119L708 116.4L708 113.8L707.9 111.1L707.9 108.5L708 105.8" fill="none" stroke="#333" stroke-width="0.72" stroke-opacity="0.82"/>
<use href="#e3p" fill="none" stroke="#777" stroke-width="0.9"/>
<use href="#e4p" fill="url(#e4)" fill-opacity="1"/>
<use href="#e4p" fill="url(#e4s)" fill-opacity="1"/>
<use href="#e4p" fill="url(#e4h)" fill-opacity="1"/>
<path d="M893.1 133.2L887.5 133.1L881.8 132.7L876.3 132L870.9 131.1L865.9 129.9L861.3 128.6L857.1 127.1L853.5 125.4L850.4 123.7L847.8 121.9L845.8 120.2L844.1 118.4L842.9 116.7L842 115.1L841.3 113.5L840.7 112L840.3 110.5L839.9 109.1L839.6 107.6L839.5 106.2L839.4 104.7M893.1 133.2L887.8 131.7L882.4 130L877.1 128.1L872 126L867.2 123.7L862.7 121.3L858.7 119L855.2 116.6L852.2 114.3L849.7 112.1L847.7 110L846.1 108L844.8 106.2L843.9 104.5L843.2 102.9L842.6 101.4L842.2 99.9L841.8 98.5L841.5 97.1L841.3 95.8L841.2 94.5L841.3 93.2M893.1 133.2L888.4 130.5L883.7 127.5L879 124.4L874.4 121.1L870.1 117.8L866.1 114.5L862.5 111.3L859.3 108.3L856.5 105.4L854.2 102.8L852.3 100.4L850.8 98.2L849.7 96.2L848.8 94.4L848.1 92.8L847.5 91.3L847 89.9L846.6 88.6L846.3 87.3L846 86L845.9 84.8L845.9 83.7L846.1 82.7M893.1 133.2L889.4 129.4L885.6 125.4L881.8 121.2L878.1 117L874.6 112.8L871.2 108.7L868.2 104.8L865.5 101.1L863.2 97.7L861.2 94.7L859.5 92L858.2 89.7L857.1 87.6L856.2 85.8L855.5 84.1L855 82.7L854.4 81.3L854 80L853.6 78.7L853.3 77.6L853 76.5L852.9 75.5L853 74.7L853.2 74.1M893.1 133.2L890.6 128.6L888 123.7L885.4 118.8L882.7 113.8L880.2 108.9L877.8 104.1L875.6 99.7L873.5 95.6L871.7 91.8L870.1 88.5L868.7 85.6L867.6 83.1L866.6 81L865.8 79.1L865.1 77.5L864.5 76L863.9 74.7L863.4 73.4L863 72.2L862.5 71.1L862.2 70.1L861.9 69.2L861.7 68.6L861.7 68.2M893.1 133.2L892 128L890.7 122.7L889.4 117.2L888.1 111.7L886.7 106.4L885.3 101.3L883.9 96.5L882.6 92.1L881.4 88.2L880.3 84.7L879.3 81.6L878.3 79L877.5 76.8L876.7 74.9L876.1 73.3L875.4 71.9L874.8 70.5L874.3 69.3L873.7 68.1L873.2 67.1L872.6 66.1L872.2 65.3L871.7 64.8L871.4 64.5M893.1 133.2L893.4 127.9L893.6 122.3L893.7 116.7L893.6 111.1L893.4 105.6L893.1 100.3L892.7 95.4L892.2 91L891.6 86.9L891 83.4L890.3 80.3L889.7 77.7L889 75.5L888.3 73.6L887.6 72L886.9 70.5L886.3 69.2L885.7 68L885 66.8L884.4 65.8L883.7 64.8L883 64.1L882.3 63.6L881.6 63.3M893.1 133.2L894.9 128L896.5 122.7L897.9 117.2L899.1 111.7L900.1 106.4L900.8 101.3L901.3 96.6L901.6 92.2L901.6 88.3L901.5 84.8L901.2 81.8L900.7 79.2L900.1 77.1L899.5 75.2L898.9 73.5L898.2 72.1L897.5 70.8L896.8 69.6L896.1 68.4L895.3 67.3L894.5 66.4L893.6 65.6L892.6 65M893.1 133.2L896.2 128.5L899 123.7L901.7 118.7L904.1 113.7L906.1 108.9L907.8 104.2L909.1 99.8L910.1 95.7L910.7 92L910.9 88.8L910.9 85.9L910.7 83.5L910.3 81.3L909.7 79.5L909 77.9L908.3 76.4L907.6 75.1L906.8 73.8L906 72.7L905.2 71.6L904.3 70.5L903.2 69.7M893.1 133.2L897.2 129.4L901.2 125.3L904.9 121.1L908.2 116.9L911.1 112.7L913.6 108.7L915.6 104.8L917.1 101.2L918.1 97.9L918.7 95L919 92.3L918.9 90L918.6 88L918.1 86.2L917.4 84.6L916.7 83.1L915.9 81.8L915.1 80.5L914.3 79.3L913.3 78.1M893.1 133.2L898 130.4L902.8 127.4L907.2 124.3L911.2 121L914.7 117.7L917.7 114.5L920.2 111.3L922.1 108.3L923.5 105.5L924.3 102.9L924.8 100.5L924.8 98.4L924.5 96.5L924.1 94.8L923.4 93.2M893.1 133.2L898.5 131.7L903.7 129.9L908.5 127.9L912.9 125.8L916.7 123.5L920 121.2L922.8 118.8L924.9 116.5L926.4 114.2L927.4 112L927.9 110L928 108M893.1 133.2L898.6 133L903.8 132.5L908.7 131.8L913.1 130.8L917 129.6L920.4 128.3L923.1 126.7L925.3 125.1L926.8 123.4L927.8 121.7L928.3 119.9M893.1 133.2L898.3 134.3L903.2 135.2L907.8 135.7L912 135.9L915.6 135.7L918.7 135.3L921.3 134.6L923.3 133.7L924.7 132.5L925.6 131.2M893.1 133.2L897.6 135.6L901.9 137.6L905.9 139.3L909.5 140.6L912.6 141.4L915.3 141.8L917.4 141.9L919 141.6L920.2 140.9M893.1 133.2L896.7 136.7L900 139.7L903.1 142.4L905.9 144.6L908.2 146.3L910.2 147.4L911.7 148.1L912.9 148.3L913.6 148.1M893.1 133.2L895.5 137.5L897.7 141.4L899.6 144.8L901.3 147.7L902.7 150L903.9 151.7L904.7 152.9L905.2 153.5M893.1 133.2L894.1 138L894.9 142.4L895.6 146.3L896.2 149.6L896.5 152.4L896.7 154.5L896.7 156L896.5 156.8M893.1 133.2L892.7 138.2L892.1 142.8L891.5 146.9L890.7 150.4L889.9 153.2L889.1 155.5L888.2 157.1L887.4 158.1L886.5 158.5M893.1 133.2L891.2 138L889.3 142.5L887.3 146.4L885.4 149.8L883.5 152.5L881.6 154.7L879.9 156.2L878.3 157.1L876.9 157.4M893.1 133.2L889.9 137.5L886.7 141.5L883.5 144.9L880.5 147.9L877.5 150.3L874.7 152.1L872.2 153.3L870 154L868 154.1L866.3 153.8M893.1 133.2L888.8 136.7L884.6 139.9L880.4 142.6L876.3 144.9L872.5 146.6L868.9 147.9L865.7 148.6L862.9 148.9L860.4 148.7L858.4 148.1L856.7 147.2M893.1 133.2L888 135.7L883 137.8L878 139.5L873.2 140.9L868.7 141.8L864.5 142.3L860.8 142.4L857.5 142.1L854.7 141.5L852.4 140.6L850.5 139.5L849 138.1L847.9 136.7M893.1 133.2L887.6 134.4L882 135.3L876.6 135.9L871.4 136.2L866.4 136.1L861.9 135.7L857.9 135.1L854.3 134.1L851.3 133L848.8 131.7L846.8 130.2L845.2 128.7L844 127.2L843 125.6L842.3 124L841.8 122.5L841.4 121M866.6 130.1L866.8 128L867.2 126L867.8 123.9L868.6 121.9L869.6 120L870.8 118.1L872.1 116.4L873.6 114.7L875.2 113.2L877 111.7L878.9 110.5L880.9 109.4L883 108.4L885.1 107.6L887.3 107L889.5 106.6L891.8 106.4L894 106.3L896.3 106.5L898.5 106.8L900.6 107.3L902.6 108L904.6 108.9L906.5 109.9L908.2 111.1L909.8 112.4L911.2 113.9L912.5 115.5L913.7 117.1L914.6 118.9L915.4 120.8L916 122.7L916.4 124.7L916.6 126.8L916.6 128.8L916.4 130.8L916 132.9L915.5 134.9L914.7 136.8L913.8 138.7L912.7 140.6L911.5 142.3L910.1 144L908.5 145.5L906.9 146.9L905.1 148.2L903.2 149.4L901.2 150.4L899.2 151.2L897.1 151.9L894.9 152.4L892.8 152.7L890.6 152.9L888.4 152.9L886.3 152.7L884.2 152.3L882.1 151.7L880.1 151L878.2 150.2L876.4 149.1L874.7 147.9L873.2 146.6L871.7 145.1L870.5 143.6L869.4 141.9L868.4 140.1L867.7 138.2L867.1 136.2L866.7 134.2L866.6 132.2L866.6 130.1M848.5 122.4L848.8 119.1L849.4 115.8L850.4 112.5L851.6 109.3L853.1 106.2L855 103.2L857.1 100.4L859.4 97.7L862 95.2L864.9 93L867.9 90.9L871.1 89.1L874.4 87.6L877.8 86.4L881.3 85.4L884.9 84.8L888.5 84.4L892.1 84.3L895.6 84.6L899.1 85.2L902.5 86L905.8 87.1L908.9 88.6L911.9 90.2L914.6 92.2L917.1 94.3L919.4 96.7L921.5 99.2L923.2 101.9L924.7 104.8L925.9 107.8L926.8 110.9L927.4 114.1L927.7 117.3L927.7 120.5L927.4 123.8L926.8 127L925.9 130.1L924.7 133.2L923.2 136.2M873.4 156.7L870.3 155.6L867.3 154.2L864.4 152.6L861.7 150.7L859.2 148.6L857 146.3L854.9 143.8L853.1 141.1L851.6 138.3L850.4 135.3L849.5 132.2L848.8 129L848.5 125.7L848.5 122.4M841.5 114.2L841.9 110.6L842.5 106.9L843.5 103.4L844.9 99.9L846.5 96.5L848.5 93.2L850.8 90.1L853.4 87.2L856.2 84.5L859.2 82L862.5 79.8L866 77.8L869.6 76.2L873.3 74.8L877.1 73.8L881 73.1L884.9 72.7L888.9 72.7L892.7 72.9L896.5 73.6L900.2 74.5L903.8 75.8L907.2 77.3L910.4 79.2L913.4 81.3L916.1 83.6L918.6 86.2L920.8 89L922.7 92L924.4 95.2M843.7 128.2L842.6 124.8L841.9 121.3L841.6 117.8L841.5 114.2M839.5 107L839.9 103.4L840.5 99.9L841.5 96.4L842.8 93L844.4 89.6L846.3 86.5L848.5 83.4L851 80.5L853.8 77.9L856.8 75.5L860 73.3L863.3 71.4L866.9 69.8L870.5 68.5L874.2 67.5L878 66.8L881.9 66.4L885.7 66.4L889.5 66.7L893.2 67.3L896.8 68.2L900.2 69.4L903.6 71L906.7 72.8L909.6 74.9L912.3 77.2L914.8 79.7M839.6 110.5L839.5 107M856.3 71.5L859.2 69.5L862.2 67.8L865.4 66.4L868.6 65.2L872 64.3L875.4 63.7" fill="none" stroke="#333" stroke-width="0.72" stroke-opacity="0.82"/>
<use href="#e4p" fill="none" stroke="#777" stroke-width="0.9"/>
<use href="#e5p" fill="url(#e5)" fill-opacity="1"/>
<use href="#e5p" fill="url(#e5s)" fill-opacity="1"/>
<use href="#e5p" fill="url(#e5h)" fill-opacity="1"/>
<path d="M1045.7 80.4L1042.1 80.3L1038.1 80.7L1033.7 81.4L1029 82.4L1024.1 83.8L1019 85.5L1014 87.5L1009.1 89.6L1004.4 91.9L999.9 94.3L995.8 96.7L991.9 99.1L988.4 101.5L985.1 103.8L982.1 106L979.2 108.2L976.5 110.3L973.9 112.4L971.4 114.5L968.9 116.7L966.5 118.8L964.1 121L962 123.2L960.1 125.3L958.5 127.5L957.3 129.6L956.5 131.6L956.3 133.4L956.6 135M1045.7 80.4L1041.6 79.1L1037.2 78.3L1032.3 77.8L1027.2 77.8L1021.9 78.1L1016.6 78.9L1011.3 80L1006.2 81.4L1001.3 83.1L996.7 85L992.5 87L988.6 89.2L985 91.4L981.7 93.6L978.7 95.8L975.9 97.9L973.2 100.1L970.7 102.2L968.1 104.3L965.7 106.5L963.3 108.8L961.1 111.1L959 113.5L957.2 116L955.8 118.5L954.7 121.1L954.2 123.7L954.1 126.2M1045.7 80.4L1041.4 78L1036.8 76.1L1031.8 74.6L1026.5 73.5L1021.1 72.9L1015.7 72.8L1010.4 73.2L1005.2 74L1000.3 75.1L995.7 76.6L991.4 78.3L987.5 80.2L984 82.3L980.8 84.3L977.8 86.5L975 88.6L972.4 90.7L969.8 92.9L967.3 95L964.9 97.3L962.6 99.6L960.4 102L958.4 104.6L956.6 107.4L955.2 110.3L954.2 113.3L953.7 116.4M1045.7 80.4L1041.5 77.1L1036.9 74.2L1032 71.9L1026.9 70L1021.6 68.6L1016.3 67.8L1011.1 67.6L1006.1 67.8L1001.3 68.6L996.8 69.7L992.6 71.1L988.8 72.8L985.4 74.7L982.2 76.7L979.2 78.8L976.5 80.9L973.9 83L971.4 85.1L968.9 87.3L966.6 89.6L964.2 92L962 94.5L960 97.2L958.2 100.2M1045.7 80.4L1041.8 76.4L1037.6 72.9L1033.1 69.9L1028.3 67.4L1023.4 65.5L1018.4 64.2L1013.5 63.5L1008.7 63.4L1004.2 63.8L999.9 64.7L995.9 66L992.3 67.5L988.9 69.3L985.8 71.2L982.9 73.2L980.2 75.3L977.7 77.4L975.2 79.5L972.7 81.7M1045.7 80.4L1042.4 76L1038.8 72.1L1034.8 68.7L1030.6 65.9L1026.2 63.7L1021.7 62.2L1017.3 61.3L1012.9 61L1008.7 61.2L1004.7 61.9M1045.7 80.4L1043.2 75.9L1040.3 71.9L1037.1 68.5L1033.6 65.6L1029.9 63.4L1026.1 61.8L1022.2 60.9M1045.7 80.4L1044.1 76.1L1042.2 72.4L1039.8 69.2L1037.2 66.5L1034.2 64.5M1045.7 80.4L1045.1 76.6L1044.2 73.4L1042.8 70.7L1041 68.5M1045.7 80.4L1046.2 77.4L1046.2 75L1045.8 73L1044.9 71.5M1045.7 80.4L1047.1 78.4L1048.1 76.9L1048.6 75.8L1048.5 75.2M1045.7 80.4L1048 79.6L1049.8 79.1L1051.1 79.1L1051.7 79.4M1045.7 80.4L1048.7 80.8L1051.2 81.5L1053 82.6L1054.3 83.9M1045.7 80.4L1049.2 81.9L1052.1 83.8L1054.4 86L1056.1 88.4M1045.7 80.4L1049.4 83L1052.5 86L1055 89.2L1056.9 92.6L1058.1 96M1045.7 80.4L1049.3 84L1052.4 87.9L1054.9 92L1056.8 96.1L1057.9 100.4L1058.5 104.6L1058.4 108.6M1045.7 80.4L1049 84.7L1051.8 89.3L1054 94L1055.6 98.9L1056.5 103.8L1056.9 108.5L1056.6 113.1L1055.8 117.5L1054.4 121.5L1052.7 125.2M1045.7 80.4L1048.4 85.1L1050.7 90.1L1052.4 95.3L1053.5 100.6L1054 105.9L1053.9 111.1L1053.3 116L1052.1 120.7L1050.5 125L1048.6 128.9L1046.3 132.5L1043.9 135.6L1041.3 138.5L1038.6 141L1035.9 143.2L1033.2 145.3L1030.6 147.3L1027.9 149.2L1025.1 151L1022.3 152.7M1045.7 80.4L1047.7 85.2L1049.1 90.4L1050.1 95.7L1050.5 101.2L1050.4 106.6L1049.7 111.9L1048.6 117L1047 121.9L1045 126.3L1042.8 130.4L1040.3 134L1037.6 137.3L1034.9 140.2L1032.2 142.8L1029.4 145.1L1026.7 147.2L1024 149.2L1021.3 151.1L1018.5 152.9L1015.7 154.6L1012.8 156.3L1009.8 157.7L1006.7 159L1003.4 160L1000 160.6M1045.7 80.4L1046.7 85L1047.3 90L1047.4 95.2L1047 100.5L1046 105.8L1044.7 111L1042.9 116.1L1040.7 120.9L1038.3 125.3L1035.7 129.4L1032.9 133.1L1030 136.3L1027.1 139.3L1024.3 141.9L1021.4 144.2L1018.7 146.4L1015.9 148.4L1013.2 150.3L1010.5 152.1L1007.7 153.9L1004.9 155.6L1002 157.1L999 158.4L995.9 159.4L992.8 160L989.7 160.2L986.6 160M1045.7 80.4L1045.7 84.5L1045.3 89L1044.4 93.7L1043 98.6L1041.2 103.5L1039 108.4L1036.5 113.2L1033.8 117.7L1030.8 122L1027.7 126L1024.6 129.5L1021.5 132.8L1018.5 135.6L1015.5 138.2L1012.6 140.6L1009.8 142.8L1007.1 144.8L1004.4 146.8L1001.6 148.7L998.9 150.5L996.2 152.2L993.4 153.8L990.5 155.2L987.7 156.3L984.9 157.1L982.2 157.5L979.6 157.4L977.2 156.8M1045.7 80.4L1044.7 83.7L1043.2 87.4L1041.3 91.4L1038.9 95.6L1036.2 99.9L1033.2 104.2L1030 108.5L1026.6 112.6L1023.1 116.5L1019.6 120.2L1016.1 123.6L1012.8 126.7L1009.6 129.5L1006.5 132.1L1003.6 134.4L1000.7 136.6L998 138.7L995.3 140.7L992.6 142.6L989.9 144.5L987.3 146.3L984.6 148L982 149.6L979.4 150.9L976.9 151.9L974.7 152.6L972.6 152.9L970.9 152.7L969.5 152.1M1045.7 80.4L1043.7 82.7L1041.2 85.4L1038.3 88.4L1035 91.7L1031.5 95.1L1027.7 98.7L1023.7 102.3L1019.7 105.8L1015.7 109.3L1011.8 112.6L1008.1 115.7L1004.5 118.7L1001.2 121.4L998 123.9L995 126.2L992.2 128.4L989.4 130.5L986.7 132.5L984.1 134.5L981.5 136.5L978.9 138.4L976.4 140.2L973.9 142L971.6 143.5L969.5 144.9L967.6 146L966.1 146.8L965 147.2L964.2 147.2M1045.7 80.4L1042.8 81.6L1039.5 83.1L1035.7 85L1031.6 87.2L1027.3 89.6L1022.8 92.3L1018.3 95.1L1013.7 98L1009.3 100.9L1005.1 103.7L1001.1 106.5L997.4 109.2L993.9 111.7L990.7 114.2L987.6 116.5L984.8 118.6L982.1 120.8L979.4 122.8L976.8 124.9L974.3 126.9L971.8 128.9L969.4 131L967.1 132.9L965 134.8L963.2 136.5L961.7 138.1L960.6 139.5L960 140.5L959.8 141.3M1029.5 82.3L1028.8 80.7L1028.2 79.2L1027.8 77.7L1027.4 76.2L1027.2 74.8L1027.1 73.5L1027.1 72.2L1027.2 71.1L1027.5 70L1027.9 69.1L1028.3 68.2L1028.9 67.5L1029.6 66.9L1030.4 66.5L1031.2 66.1L1032.2 66L1033.2 65.9L1034.3 66L1035.4 66.2L1036.6 66.5L1037.8 66.9L1039.1 67.5L1040.4 68.2L1041.7 69L1042.9 69.9L1044.2 70.9L1045.5 72L1046.7 73.2L1047.9 74.5L1049 75.8L1050.1 77.2L1051.2 78.6L1052.1 80L1053 81.5L1053.8 83L1054.6 84.5L1055.2 86L1055.7 87.5L1056.1 88.9L1056.5 90.3L1056.7 91.6L1056.8 92.9L1056.8 94.1L1056.7 95.3L1056.4 96.3L1056.1 97.3L1055.6 98.1L1055.1 98.8L1054.4 99.4L1053.6 99.9L1052.8 100.3L1051.8 100.5L1050.8 100.6L1049.7 100.5L1048.5 100.3L1047.3 100L1046 99.5L1044.7 98.9L1043.4 98.2L1042 97.3L1040.7 96.3L1039.4 95.2L1038 94L1036.8 92.8L1035.5 91.4L1034.3 90L1033.2 88.5L1032.1 87L1031.2 85.4L1030.3 83.9L1029.5 82.3M1005.6 91.3L1004.3 88.3L1003.3 85.4L1002.5 82.5L1001.9 79.7L1001.6 77.1L1001.5 74.6L1001.6 72.2L1002 70.1L1002.5 68.1L1003.3 66.3L1004.3 64.8L1005.5 63.5L1006.9 62.4L1008.4 61.6L1010.1 61L1012 60.6M1056 118.4L1055.1 120L1054.1 121.5L1052.9 122.7L1051.4 123.7L1049.8 124.5L1048 125L1046.1 125.2L1044 125.2L1041.8 124.9L1039.4 124.4L1037 123.6L1034.5 122.5L1032 121.2L1029.4 119.7L1026.8 117.9L1024.3 115.9L1021.7 113.6L1019.3 111.2L1016.9 108.7L1014.6 106L1012.5 103.2L1010.5 100.3L1008.7 97.3L1007 94.3L1005.6 91.3M986.3 102.9L984.9 99.4L983.8 96L982.9 92.6L982.3 89.3L982 86.2L982 83.3L982.2 80.5L982.7 78L983.5 75.7L984.5 73.6L985.8 71.8L987.2 70.2L988.9 68.9M1041.9 138.5L1040.2 139.7L1038.3 140.7L1036.1 141.4L1033.8 141.7L1031.4 141.8L1028.7 141.6L1026 141L1023.1 140.2L1020.2 139L1017.2 137.5L1014.1 135.8L1011.1 133.7L1008.1 131.4L1005.1 128.9L1002.2 126.1L999.4 123.2L996.8 120L994.3 116.8L992 113.4L989.9 109.9L988 106.4L986.3 102.9M972.7 113.4L971.3 109.9L970.3 106.5L969.4 103.1L968.9 99.8L968.6 96.6L968.7 93.6L968.9 90.8L969.5 88.2L970.3 85.9L971.4 83.7L972.7 81.9M1027.1 149.7L1025.2 150.7L1023 151.4L1020.6 151.9L1018.1 152L1015.4 151.8L1012.5 151.3L1009.6 150.5L1006.6 149.4L1003.6 147.9L1000.5 146.2L997.4 144.2L994.4 141.9L991.4 139.4L988.5 136.7L985.7 133.7L983.1 130.6L980.6 127.3L978.3 123.9L976.2 120.5L974.3 117L972.7 113.4M961.3 123.9L960.1 120.6L959.1 117.4L958.4 114.2L957.9 111.1L957.7 108.1L957.8 105.3L958.1 102.6L958.7 100.2L959.5 97.9L960.6 95.9M1008.5 158.9L1006.2 159.3L1003.8 159.5L1001.2 159.3L998.5 158.9L995.8 158.2L993 157.1L990.1 155.8L987.2 154.3L984.3 152.4L981.4 150.3L978.6 148L975.9 145.5L973.3 142.7L970.9 139.8L968.6 136.8L966.5 133.7L964.5 130.5L962.8 127.2L961.3 123.9M956.3 133.7L955.4 131.3L954.7 129L954.2 126.6M977.1 156.8L975 155.7L972.9 154.3L970.8 152.8L968.8 151.2L966.8 149.3L965 147.4L963.2 145.3L961.5 143.1L960 140.8L958.6 138.5L957.4 136.1L956.3 133.7" fill="none" stroke="#333" stroke-width="0.72" stroke-opacity="0.82"/>
<use href="#e5p" fill="none" stroke="#777" stroke-width="0.9"/>
<use href="#e6p" fill="url(#e6)" fill-opacity="1"/>
<use href="#e6p" fill="url(#e6s)" fill-opacity="1"/>
<use href="#e6p" fill="url(#e6h)" fill-opacity="1"/>
<path d="M1159.6 159.9L1160 158.4L1160 156.4L1159.6 153.8L1158.8 150.8L1157.7 147.4L1156.3 143.7L1154.5 139.8L1152.6 135.7L1150.5 131.7L1148.2 127.6L1146 123.7L1143.7 119.8L1141.5 116.1L1139.2 112.5L1137 108.9L1134.8 105.4L1132.6 101.8L1130.3 98.2L1127.9 94.5L1125.4 90.7L1122.8 86.9L1120.1 83.1L1117.3 79.3L1114.4 75.6L1111.6 72.2L1108.8 69L1106.1 66.3L1103.6 64.1L1101.3 62.3L1099.3 61.2L1097.6 60.6L1096.2 60.7M1161.7 158.4L1163.2 156.2L1164.2 153.5L1164.7 150.3L1164.8 146.7L1164.4 142.8L1163.6 138.7L1162.5 134.4L1161 130.1L1159.2 125.8L1157.2 121.7L1155.1 117.6L1153 113.7L1150.8 110L1148.6 106.4L1146.5 102.8L1144.3 99.3L1142 95.8L1139.7 92.2L1137.3 88.6L1134.7 84.9L1132 81.2L1129.1 77.5L1125.9 74L1122.6 70.6L1119.2 67.5L1115.8 64.8L1112.3 62.6L1108.9 60.9L1105.6 59.7L1102.6 59.2L1099.8 59.3L1097.3 60M1163.5 157.1L1165.8 154.2L1167.6 150.9L1169 147.1L1169.8 143L1170 138.7L1169.8 134.2L1169 129.7L1167.9 125.1L1166.4 120.7L1164.7 116.4L1162.8 112.3L1160.7 108.4L1158.6 104.7L1156.5 101.1L1154.4 97.6L1152.2 94.1L1150 90.6L1147.7 87.1L1145.2 83.6L1142.6 80L1139.8 76.4L1136.7 72.9L1133.3 69.5L1129.7 66.4L1125.8 63.7L1121.8 61.3L1117.7 59.5L1113.5 58.2L1109.4 57.6L1105.5 57.6L1101.8 58.2L1098.3 59.5M1164.8 155.9L1167.8 152.5L1170.2 148.7L1172.1 144.5L1173.4 140L1174.1 135.3L1174.2 130.6L1173.8 125.8L1173 121.2L1171.7 116.6L1170.1 112.3L1168.3 108.2L1166.4 104.3L1164.3 100.6L1162.3 97.1L1160.2 93.6L1158 90.2L1155.8 86.7L1153.6 83.3L1151.1 79.8L1148.5 76.3L1145.6 72.9L1142.3 69.5L1138.8 66.3L1134.9 63.4L1130.8 60.9L1126.4 58.8L1121.8 57.3L1117.1 56.3L1112.4 56L1107.8 56.4L1103.3 57.4L1099.1 59.1M1171.6 147.1L1173.8 142.6L1175.4 137.8L1176.3 133L1176.7 128.1L1176.5 123.2L1175.8 118.5L1174.6 113.9L1173.2 109.6L1171.5 105.5L1169.6 101.7L1167.6 98L1165.6 94.5L1163.5 91.1L1161.4 87.7L1159.3 84.4L1157 81L1154.6 77.6L1151.9 74.2L1149 70.8L1145.8 67.5L1142.2 64.5L1138.2 61.7L1133.9 59.3L1129.3 57.4L1124.4 56L1119.4 55.3L1114.3 55.2L1109.3 55.7L1104.3 57M1133.3 167.6L1128.3 167L1123.5 165.7L1118.9 163.9L1114.6 161.6L1110.6 158.9L1107 155.9L1103.8 152.7L1100.9 149.4L1098.2 146L1095.8 142.7L1093.6 139.3L1091.4 136L1089.3 132.7L1087.2 129.3L1085.2 125.8L1083.2 122.1L1081.3 118.3L1079.6 114.2L1078.1 109.9L1077 105.3L1076.2 100.5L1076 95.6L1076.4 90.6L1077.3 85.6L1078.9 80.8L1081 76.1L1083.8 71.7M1144.8 166.7L1140.1 167.3L1135.4 167.2L1130.7 166.4L1126 165.1L1121.6 163.2L1117.5 160.8L1113.6 158L1110 154.9L1106.8 151.7L1103.9 148.3L1101.3 144.8L1098.8 141.4L1096.5 138L1094.4 134.6L1092.2 131.2L1090.1 127.7L1088 124.2L1086 120.5L1084 116.6L1082.2 112.5L1080.7 108.1L1079.4 103.5L1078.5 98.8L1078.2 93.9L1078.3 89L1079.1 84.1L1080.4 79.4L1082.3 74.9L1084.8 70.8L1087.8 67.2M1150.8 164.9L1147 165.9L1142.9 166.1L1138.8 165.8L1134.5 164.8L1130.4 163.2L1126.3 161.1L1122.4 158.6L1118.8 155.6L1115.4 152.4L1112.2 149L1109.4 145.5L1106.8 142L1104.3 138.5L1102 135L1099.8 131.6L1097.6 128.1L1095.5 124.6L1093.3 121L1091.2 117.3L1089.2 113.4L1087.3 109.2L1085.6 104.9L1084.1 100.4L1083 95.7L1082.3 91L1082.1 86.2L1082.4 81.6L1083.3 77.2L1084.7 73.1L1086.6 69.4L1089.1 66.2L1091.9 63.5M1152.7 164L1149.8 164.5L1146.6 164.4L1143.2 163.6L1139.7 162.2L1136.1 160.3L1132.6 157.9L1129.1 155.1L1125.8 151.9L1122.7 148.5L1119.7 145L1116.9 141.4L1114.4 137.8L1111.9 134.2L1109.6 130.6L1107.4 127.1L1105.2 123.6L1103 120.1L1100.8 116.5L1098.7 112.7L1096.5 108.8L1094.4 104.7L1092.5 100.4L1090.8 96L1089.3 91.5L1088.2 87L1087.5 82.6L1087.2 78.4L1087.4 74.4L1088 70.8L1089.2 67.6L1090.8 65L1092.8 62.9M1154.9 162.8L1153 162.7L1150.9 162L1148.4 160.7L1145.8 158.9L1143 156.5L1140.1 153.7L1137.2 150.5L1134.3 147.1L1131.4 143.5L1128.7 139.8L1126.1 136.1L1123.6 132.3L1121.2 128.7L1118.9 125.1L1116.6 121.6L1114.4 118.1L1112.2 114.5L1110 110.8L1107.7 107.1L1105.5 103.2L1103.2 99.1L1101 95L1099 90.7L1097.1 86.5L1095.4 82.3L1094 78.3L1093 74.5L1092.4 71.1L1092.1 68.1L1092.3 65.6L1092.9 63.6L1093.9 62.2M1157.6 161.6L1157.3 161.4L1156.5 160.6L1155.5 159.3L1154.1 157.4L1152.3 155L1150.4 152.1L1148.2 148.8L1145.9 145.3L1143.4 141.6L1140.9 137.7L1138.5 133.8L1136 130L1133.6 126.2L1131.3 122.5L1129 118.9L1126.8 115.3L1124.6 111.8L1122.4 108.2L1120.1 104.6L1117.8 100.8L1115.4 97L1113 93.1L1110.5 89L1108.1 85L1105.7 81L1103.4 77.2L1101.3 73.6L1099.5 70.4L1097.9 67.6L1096.7 65.2L1095.7 63.4L1095.2 62.1L1095 61.4M1160 157.5L1161.3 156.6L1162.6 155.7L1163.8 154.9L1164.9 154.1L1165.9 153.3L1166.9 152.5L1167.7 151.8L1168.5 151.2L1169.1 150.6L1169.7 150L1170.1 149.6L1170.4 149.2M1141.2 167.4L1141.7 167.3L1142.3 167.1L1143.1 166.9L1143.9 166.5L1144.8 166.2L1145.8 165.7L1146.9 165.2L1148.1 164.6L1149.3 163.9L1150.6 163.2L1151.9 162.5L1153.2 161.7L1154.6 160.9L1156 160.1L1157.4 159.2L1158.7 158.3L1160 157.5M1156 143.1L1158.6 141.3L1161.2 139.6L1163.6 137.9L1165.8 136.3L1167.9 134.8L1169.8 133.3L1171.5 132L1173 130.8L1174.3 129.7L1175.4 128.7L1176.2 127.8L1176.8 127.1L1177.1 126.6M1118 163.5L1118.6 163.5L1119.5 163.3L1120.6 162.9L1122 162.4L1123.6 161.7L1125.3 160.9L1127.3 159.9L1129.4 158.8L1131.7 157.6L1134.2 156.3L1136.7 154.9L1139.4 153.3L1142.1 151.7L1144.9 150.1L1147.7 148.3L1150.5 146.6L1153.3 144.8L1156 143.1M1146.4 124.3L1149.6 122.2L1152.7 120.2L1155.6 118.2L1158.4 116.3L1161 114.5L1163.3 112.9L1165.4 111.4L1167.2 110L1168.8 108.7L1170.1 107.7L1171.1 106.8L1171.9 106.1L1172.3 105.5L1172.4 105.2M1100.8 150L1101.2 150L1101.9 149.8L1102.8 149.5L1104.1 149L1105.6 148.3L1107.4 147.4L1109.5 146.3L1111.8 145.1L1114.3 143.7L1117 142.2L1119.9 140.5L1123 138.7L1126.2 136.8L1129.5 134.9L1132.9 132.8L1136.3 130.7L1139.7 128.6L1143 126.4L1146.4 124.3M1135.9 107.1L1139.2 105L1142.4 102.9L1145.5 101L1148.4 99.1L1151 97.3L1153.5 95.7L1155.7 94.2L1157.6 92.9L1159.3 91.7L1160.7 90.7L1161.8 89.9L1162.6 89.3L1163.1 88.8L1163.3 88.6M1089.9 134.5L1090.2 134.4L1090.8 134.1L1091.8 133.7L1093 133L1094.5 132.2L1096.3 131.2L1098.3 130.1L1100.6 128.7L1103.2 127.2L1105.9 125.6L1108.9 123.8L1112 122L1115.3 120L1118.6 117.9L1122.1 115.8L1125.5 113.6L1129 111.5L1132.5 109.3L1135.9 107.1M1125 90.1L1128.3 88.1L1131.4 86.1L1134.4 84.2L1137.3 82.4L1139.9 80.8L1142.4 79.3L1144.6 77.9L1146.5 76.7L1148.2 75.6L1149.6 74.7L1150.8 74L1151.6 73.5L1152.2 73.2L1152.4 73M1080.6 117.9L1080.9 117.7L1081.5 117.3L1082.3 116.8L1083.4 116.1L1084.9 115.2L1086.6 114.1L1088.5 112.9L1090.7 111.5L1093.2 110L1095.8 108.3L1098.7 106.6L1101.7 104.7L1104.8 102.7L1108.1 100.6L1111.4 98.6L1114.8 96.4L1118.3 94.3L1121.6 92.2L1125 90.1M1112.1 72.7L1114.8 71.1L1117.4 69.5L1119.9 68L1122.3 66.5L1124.6 65.2L1126.6 64L1128.5 62.9L1130.2 62L1131.7 61.2L1132.9 60.5L1133.9 60L1134.7 59.6L1135.3 59.4L1135.6 59.4M1075.7 96.8L1075.9 96.5L1076.4 96.1L1077.1 95.6L1078 94.9L1079.1 94L1080.5 93L1082.1 91.9L1083.9 90.7L1085.9 89.4L1088.1 87.9L1090.4 86.4L1092.9 84.8L1095.4 83.1L1098.1 81.4L1100.9 79.7L1103.7 77.9L1106.5 76.2L1109.3 74.4L1112.1 72.7M1100.2 61.7L1101.6 60.9L1102.9 60.1L1104.1 59.4L1105.3 58.7L1106.5 58L1107.5 57.5L1108.5 56.9L1109.4 56.5L1110.2 56.1L1110.8 55.8L1111.4 55.5L1111.9 55.4L1112.2 55.3M1082.3 73.9L1082.5 73.7L1082.9 73.3L1083.4 72.9L1084 72.5L1084.7 71.9L1085.5 71.3L1086.4 70.7L1087.4 70L1088.4 69.3L1089.6 68.5L1090.8 67.7L1092.1 66.8L1093.4 66L1094.7 65.1L1096.1 64.2L1097.5 63.4L1098.9 62.5L1100.2 61.7" fill="none" stroke="#333" stroke-width="0.72" stroke-opacity="0.82"/>
<use href="#e6p" fill="none" stroke="#777" stroke-width="0.9"/>
<use href="#e7p" fill="url(#e7)" fill-opacity="0.36"/>
<use href="#e7p" fill="none" stroke="#8a8a8a" stroke-width="0.9"/>
<use href="#e8p" fill="url(#e8)" fill-opacity="0.36"/>
<use href="#e8p" fill="none" stroke="#8a8a8a" stroke-width="0.9"/>
<use href="#e9p" fill="url(#e9)" fill-opacity="0.36"/>
<use href="#e9p" fill="none" stroke="#8a8a8a" stroke-width="0.9"/>
<use href="#e10p" fill="url(#e10)" fill-opacity="0.36"/>
<use href="#e10p" fill="none" stroke="#8a8a8a" stroke-width="0.9"/>
<use href="#e11p" fill="url(#e11)" fill-opacity="0.36"/>
<use href="#e11p" fill="none" stroke="#8a8a8a" stroke-width="0.9"/>
<use href="#e12p" fill="url(#e12)" fill-opacity="0.36"/>
<use href="#e12p" fill="none" stroke="#8a8a8a" stroke-width="0.9"/>
<circle cx="1306" cy="102.6" r="62" fill="url(#blobsh)"/>
<use href="#e13p" fill="url(#e13)" fill-opacity="0"/>
<path d="M1309.8 26.5L1316.6 27.3L1323.2 28.9L1329.6 31.4L1335.7 34.5L1341.3 38.4L1346.3 42.9L1350.8 47.9L1354.6 53.2L1357.7 58.9L1360.3 64.7L1362.1 70.7L1363.5 76.6L1364.4 82.4L1364.9 88L1365.1 93.6L1365.1 99L1364.9 104.4L1364.6 109.7L1364.1 114.9L1363.5 120.3L1362.6 125.7L1361.4 131.2L1359.9 136.7L1357.8 142.2L1355.3 147.6M1309.8 26.5L1308.6 27.2L1307.4 28.8L1306.1 31.2L1304.9 34.4L1303.6 38.4L1302.4 43L1301.3 48.2L1300.3 53.9L1299.3 59.9L1298.5 66.2L1297.8 72.5L1297.1 78.8L1296.6 85L1296.1 91.1L1295.8 97L1295.4 102.8L1295.1 108.5L1294.8 114.2L1294.6 119.8L1294.4 125.4L1294.2 131.1L1294.1 136.8L1294.1 142.5L1294.1 148.2L1294.3 153.6L1294.5 158.8L1295 163.5L1295.5 167.7L1296.2 171.3L1297 174.2L1297.9 176.3L1298.9 177.6M1309.8 26.5L1303 26.5L1296.3 27.3M1365 106.4L1364.6 107.2L1363.7 107.9L1362.3 108.6L1360.5 109.3L1358.2 109.9L1355.4 110.5L1352.2 111L1348.6 111.4L1344.6 111.8L1340.3 112.1L1335.6 112.3L1330.6 112.4L1325.4 112.5L1320.1 112.5L1314.6 112.4L1309 112.2L1303.3 111.9L1297.7 111.6L1292.2 111.1L1286.8 110.6L1281.6 110.1L1276.7 109.4L1272 108.8L1267.6 108.1L1263.6 107.3L1259.9 106.5L1256.7 105.7L1253.9 104.9L1251.6 104L1249.7 103.2L1248.3 102.3L1247.4 101.5L1246.9 100.7" fill="none" stroke="#3a3a3a" stroke-width="0.8" stroke-opacity="0.5"/>
<use href="#e13p" fill="none" stroke="none" stroke-width="0.9"/>
<use href="#e14p" fill="url(#e14)" fill-opacity="0"/>
<path d="M1366.8 57L1363.1 53.8L1358.8 51L1354 48.9L1348.6 47.3L1342.8 46.4L1336.7 46.1L1330.4 46.5L1324 47.5L1317.7 49.1L1311.5 51.1L1305.5 53.6L1299.8 56.3L1294.4 59.2L1289.3 62.4L1284.5 65.5L1279.9 68.8L1275.4 72.1L1271.1 75.4L1266.8 78.8L1262.6 82.3L1258.5 86L1254.4 89.9L1250.6 94L1247 98.3L1243.8 102.9L1241 107.6L1238.9 112.5L1237.3 117.4L1236.5 122.3L1236.5 127L1237.2 131.6M1366.8 57L1363.8 53M1366.8 57L1369.7 60.8M1366.8 57L1369.1 61.6L1370.7 66.7L1371.6 72.2L1371.8 78L1371.2 84L1369.9 90.1L1367.9 96.1L1365.2 102.1L1362.1 107.8L1358.5 113.2L1354.6 118.3L1350.4 123.1L1346.1 127.4L1341.7 131.5L1337.4 135.2L1333 138.7L1328.6 142.1L1324.2 145.3L1319.7 148.4L1315.2 151.5L1310.5 154.4L1305.6 157.1L1300.5 159.6L1295.3 161.8L1290 163.6L1284.6 164.8L1279.2 165.4L1273.9 165.4L1268.9 164.7L1264.1 163.3L1259.7 161.1M1307.3 52.8L1305.8 49.8L1304.5 47.1L1303.5 44.6L1302.8 42.5L1302.3 40.7L1302.1 39.3L1302.2 38.2L1302.5 37.4L1303.1 37M1368.1 123.8L1367.5 124.2L1366.7 124.3L1365.5 124L1364.2 123.4L1362.6 122.4L1360.7 121.1L1358.7 119.4L1356.4 117.4L1353.9 115L1351.3 112.4L1348.5 109.4L1345.6 106.2L1342.6 102.8L1339.5 99.2L1336.4 95.4L1333.3 91.4L1330.1 87.4L1327.1 83.3L1324.1 79.1L1321.2 75L1318.4 71L1315.8 67L1313.4 63.2L1311.1 59.5L1309.1 56L1307.3 52.8M1246 99.7L1244.7 96.6L1243.8 93.7L1243.1 91.1L1242.7 88.8L1242.5 86.8L1242.7 85.1L1243.1 83.7M1306.4 168.3L1304.9 168.3L1303.2 167.9L1301.3 167.2L1299.2 166.1L1296.9 164.7L1294.4 162.9L1291.7 160.8L1288.9 158.4L1285.9 155.6L1282.9 152.7L1279.7 149.4L1276.6 145.9L1273.4 142.3L1270.3 138.5L1267.2 134.5L1264.2 130.5L1261.3 126.4L1258.5 122.3L1255.9 118.3L1253.5 114.3L1251.2 110.4L1249.2 106.7L1247.5 103.1L1246 99.7" fill="none" stroke="#3a3a3a" stroke-width="0.8" stroke-opacity="0.5"/>
<use href="#e14p" fill="none" stroke="none" stroke-width="0.9"/>
<use href="#e15p" fill="url(#e15)" fill-opacity="0"/>
<path d="M1381.7 111.7L1381.8 105.7L1381.1 99.7L1379.5 93.7L1377.1 87.9L1374 82.3L1370.2 77.1L1365.8 72.3L1360.9 68L1355.5 64.3L1350 61L1344.2 58.3L1338.4 56.1L1332.6 54.3L1326.9 52.9L1321.3 51.8L1315.8 50.9L1310.3 50.2L1304.9 49.6L1299.5 49.1L1294 48.8L1288.5 48.7L1282.8 48.8L1277.1 49.3L1271.3 50.2L1265.6 51.6L1260 53.6L1254.7 56.1L1249.8 59.2L1245.3 62.9L1241.4 67.1L1238.1 71.8M1307.6 49.9L1308.6 47.7L1309.6 46L1310.5 44.8L1311.4 44.1L1312.2 43.8M1297.9 161.1L1297.2 160.5L1296.5 159.5L1296 158L1295.4 156L1295 153.5L1294.7 150.6L1294.4 147.3L1294.3 143.6L1294.2 139.5L1294.2 135L1294.4 130.3L1294.6 125.2L1294.9 120L1295.3 114.6L1295.9 109.1L1296.5 103.5L1297.1 97.9L1297.9 92.4L1298.7 87L1299.6 81.7L1300.5 76.6L1301.5 71.7L1302.5 67.1L1303.5 62.9L1304.6 59L1305.6 55.6L1306.6 52.5L1307.6 49.9" fill="none" stroke="#3a3a3a" stroke-width="0.8" stroke-opacity="0.5"/>
<use href="#e15p" fill="none" stroke="none" stroke-width="0.9"/>
<use href="#e16p" fill="url(#e16)" fill-opacity="0"/>
<path d="M1353 161.7L1357.5 157L1361.5 151.7L1364.9 145.9L1367.5 139.7L1369.4 133.2L1370.6 126.5L1371 119.8L1370.7 113.1L1369.7 106.6L1368.1 100.3L1366.1 94.3L1363.6 88.7L1360.8 83.5L1357.8 78.5L1354.7 73.9L1351.5 69.5L1348.2 65.3L1344.9 61.3L1341.4 57.3L1337.8 53.4L1334 49.6L1329.9 45.9L1325.6 42.5L1320.9 39.3L1315.9 36.6L1310.6 34.4L1305 32.7L1299.2 31.8M1353 161.7L1347.9 165.7L1342.5 168.9L1336.7 171.4M1366.7 96.1L1368.4 96L1369.7 96.2L1370.7 96.6L1371.3 97.4M1286.3 165.1L1285.7 164.4L1285.4 163.4L1285.5 162.1L1285.9 160.6L1286.6 158.8L1287.7 156.8L1289.2 154.6L1291 152.1L1293.1 149.5L1295.5 146.7L1298.2 143.7L1301.2 140.6L1304.5 137.4L1308 134.2L1311.6 130.9L1315.4 127.6L1319.4 124.3L1323.4 121.1L1327.5 118L1331.5 115L1335.6 112.2L1339.5 109.5L1343.4 107L1347.1 104.7L1350.6 102.7L1354 100.9L1357.1 99.4L1359.9 98.1L1362.5 97.2L1364.8 96.5L1366.7 96.1M1319.4 38.5L1321.2 38.7L1322.8 39.2M1240.5 104.9L1240.3 103.4L1240.4 101.5L1240.9 99.5L1241.8 97.2L1243 94.7L1244.5 92L1246.4 89.2L1248.6 86.2L1251.1 83.1L1253.8 79.9L1256.9 76.6L1260.2 73.3L1263.7 70L1267.3 66.7L1271.1 63.5L1275.1 60.4L1279 57.4L1283.1 54.5L1287.1 51.8L1291 49.3L1294.9 47.1L1298.7 45L1302.3 43.2L1305.8 41.7L1309 40.5L1312 39.5L1314.8 38.9L1317.2 38.5L1319.4 38.5" fill="none" stroke="#3a3a3a" stroke-width="0.8" stroke-opacity="0.5"/>
<use href="#e16p" fill="none" stroke="none" stroke-width="0.9"/>
<use href="#e17p" fill="url(#e17)" fill-opacity="0"/>
<path d="M1331.2 69L1332.4 63L1333.2 57.6L1333.8 52.8L1334 48.7L1333.8 45.4L1333.4 42.9L1332.7 41.1L1331.7 40.1M1331.2 69L1329.7 75.5L1327.9 82.2L1325.9 89.2L1323.7 96.2L1321.3 103.2L1318.8 109.9L1316.2 116.3L1313.6 122.3L1311.1 127.8L1308.6 132.8L1306.3 137.1L1304.1 141L1302 144.3L1300.1 147.2L1298.2 149.8L1296.5 152.1L1294.8 154.1L1293.2 156L1291.7 157.8L1290.2 159.4L1288.7 160.9L1287.2 162.1L1285.9 162.9L1284.6 163.3L1283.5 163.3M1347 145.2L1343.5 148.2L1339.7 150.8L1335.6 153L1331.3 154.9L1326.7 156.3L1321.9 157.4L1317 158L1311.9 158.1L1306.8 157.8L1301.7 157.1L1296.6 155.9L1291.5 154.2L1286.6 152.2L1281.8 149.7L1277.2 146.9L1272.8 143.7L1268.7 140.2L1264.9 136.3L1261.4 132.2L1258.3 127.9L1255.6 123.3L1253.4 118.7L1251.5 113.9L1250.1 109L1249.2 104.1L1248.7 99.2L1248.6 94.4L1249.1 89.6L1250 85L1251.3 80.6L1253 76.4" fill="none" stroke="#3a3a3a" stroke-width="0.8" stroke-opacity="0.3"/>
<use href="#e17p" fill="none" stroke="none" stroke-width="0.9"/>
<use href="#e18p" fill="url(#e18)" fill-opacity="0"/>
<path d="M1264.4 77.7L1269.9 72.8L1275.7 68.3L1281.8 64.2L1288.1 60.7L1294.4 57.7L1300.7 55.4L1306.8 53.7L1312.6 52.6L1318.1 52.1L1323.1 52.2L1327.7 52.7L1331.8 53.6L1335.6 54.8L1338.9 56.3L1342 57.9L1344.8 59.6L1347.4 61.4L1349.9 63.2L1352.3 65.1L1354.5 67.2L1356.6 69.4M1264.4 77.7L1259.5 82.8L1255.2 88.1L1251.5 93.5L1248.5 98.9L1246.3 104.1L1244.9 109.1L1244.2 113.9L1244.2 118.2L1244.9 122.2L1246.1 125.8M1326.3 52.5L1328.7 55.9L1330.7 59.5L1332.4 63.5L1333.7 67.6L1334.7 72L1335.2 76.6L1335.4 81.3L1335.2 86.1L1334.5 90.9L1333.5 95.8L1332.1 100.6L1330.3 105.4L1328.2 110L1325.7 114.5L1322.9 118.8L1319.8 122.9L1316.4 126.7L1312.8 130.2L1308.9 133.4L1304.9 136.2L1300.8 138.7L1296.6 140.7L1292.3 142.3L1288 143.5L1283.7 144.3L1279.4 144.7L1275.2 144.6L1271.2 144.1L1267.3 143.1L1263.5 141.8L1260 140.1L1256.7 138L1253.7 135.5L1250.9 132.7L1248.4 129.7M1303 39.1L1306.8 39.8L1310.6 41L1314.2 42.5L1317.6 44.5L1320.8 46.8L1323.7 49.5L1326.3 52.5M1370.1 96.9L1370.7 101.1L1370.9 105.5L1370.8 110L1370.2 114.5L1369.3 119.1L1368.1 123.5L1366.4 128L1364.5 132.3L1362.2 136.4L1359.6 140.4L1356.7 144.2L1353.5 147.7L1350.2 150.9L1346.6 153.8L1342.8 156.4L1338.9 158.6L1334.9 160.4L1330.9 161.9" fill="none" stroke="#3a3a3a" stroke-width="0.8" stroke-opacity="0.3"/>
<use href="#e18p" fill="none" stroke="none" stroke-width="0.9"/>
<line x1="422" y1="454" x2="637.5" y2="549" stroke="#aaa" stroke-width="1.3" stroke-dasharray="3.5 3.5"/>
<use href="#e19p" fill="url(#e19)" fill-opacity="1"/>
<use href="#e19p" fill="url(#e19s)" fill-opacity="1"/>
<use href="#e19p" fill="url(#e19h)" fill-opacity="1"/>
<polygon points="446.8,471.1 446.9,471.5 447,471.8 447.3,472.2 447.6,472.6 447.9,473 448.4,473.4 448.9,473.8 449.5,474.1 450.2,474.5 450.9,474.9 451.7,475.2 452.6,475.6 453.5,475.9 454.6,476.2 455.7,476.5 456.8,476.8 458,477.1 459.3,477.4 460.6,477.7 462,477.9 463.5,478.2 465,478.4 466.5,478.6 468.1,478.8 469.7,479 471.3,479.1 473,479.3 474.7,479.4 476.5,479.5 478.2,479.6 480,479.7 481.8,479.7 483.6,479.7 485.4,479.7 487.2,479.7 489,479.7 490.8,479.7 492.6,479.6 494.3,479.5 496.1,479.4 497.8,479.3 499.5,479.1 501.1,479 502.7,478.8 504.3,478.6 505.8,478.4 507.3,478.2 508.8,477.9 510.2,477.7 511.5,477.4 512.8,477.1 514,476.8 515.1,476.5 516.2,476.2 517.3,475.9 518.2,475.6 519.1,475.2 519.9,474.9 520.6,474.5 521.3,474.1 521.9,473.8 522.4,473.4 522.9,473 523.2,472.6 523.5,472.2 523.8,471.8 523.9,471.5 524,471.1 527,471.1 527,540.6 443.8,540.6 443.8,471.1" fill="#000" fill-opacity="0.07" clip-path="url(#e19c)"/>
<path d="M485.4 429.5L485.8 429.1M485.4 429.5L487.2 429.1M485.4 429.5L488.4 429.2M485.4 429.5L489.3 429.4L493.2 429.9M485.4 429.5L490 429.6L494.5 430.3L498.7 431.5M485.4 429.5L490.3 429.8L495.1 430.7L499.6 432.2L503.9 434.2L507.9 436.8L511.4 439.8L514.5 443.1L517.1 446.8M485.4 429.5L490.2 430L494.9 431.1L499.4 432.8L503.7 435.1L507.6 437.9L511.1 441.1L514.2 444.7L516.8 448.5L518.9 452.5L520.6 456.6L521.8 460.6L522.6 464.7L523.2 468.6L523.5 472.3L523.6 476L523.6 479.5L523.6 482.9L523.5 486.3L523.4 489.8L523.3 493.2L523 496.8L522.6 500.4L522 504.1L521 507.9L519.7 511.6L518 515.3M485.4 429.5L489.7 430.2L493.9 431.5L498 433.5L501.9 436L505.4 438.9L508.7 442.4L511.5 446.1L513.9 450.1L515.8 454.3L517.4 458.6L518.5 462.8L519.3 466.9L519.8 470.9L520 474.8L520.2 478.5L520.2 482.1L520.2 485.6L520.1 489.1L520 492.5L519.9 496.1L519.6 499.6L519.2 503.3L518.6 507L517.8 510.8L516.5 514.5L514.9 518L513 521.4L510.6 524.5L507.8 527.2M485.4 429.5L488.8 430.4L492.2 431.9L495.5 434L498.7 436.7L501.6 439.9L504.2 443.5L506.5 447.4L508.5 451.6L510.1 455.9L511.3 460.3L512.3 464.7L512.9 468.9L513.3 473L513.6 476.9L513.7 480.7L513.7 484.4L513.7 487.9L513.6 491.5L513.5 495L513.4 498.5L513.2 502.2L512.9 505.9L512.4 509.6L511.7 513.3L510.7 517L509.4 520.5L507.7 523.7L505.7 526.6L503.5 529.1L500.9 531.2L498.1 532.7M485.4 429.5L487.7 430.5L490 432.2L492.2 434.4L494.3 437.2L496.3 440.5L498.1 444.3L499.7 448.4L501 452.7L502.1 457.2L502.9 461.6L503.6 466.1L504 470.4L504.3 474.6L504.5 478.6L504.5 482.4L504.5 486.1L504.5 489.7L504.5 493.3L504.4 496.8L504.4 500.4L504.2 504.1L504 507.8L503.7 511.5L503.2 515.3L502.5 518.9L501.6 522.3L500.5 525.5L499.1 528.2L497.6 530.6L495.8 532.4L493.9 533.7M485.4 429.5L486.4 430.6L487.3 432.3L488.3 434.6L489.2 437.5L490 440.9L490.8 444.8L491.5 448.9L492 453.3L492.5 457.9L492.9 462.4L493.1 466.9L493.3 471.3L493.5 475.5L493.5 479.6L493.6 483.4L493.6 487.1L493.6 490.8L493.5 494.3L493.5 497.9L493.5 501.5L493.4 505.2L493.3 508.9L493.2 512.7L493 516.4L492.7 520L492.3 523.4L491.8 526.5L491.2 529.2L490.6 531.4L489.8 533.1L489 534.3L488.2 534.8M485.4 429.5L485 430.6L484.5 432.3L484.1 434.7L483.7 437.6L483.4 441L483 444.8L482.7 449L482.5 453.4L482.3 458L482.1 462.5L482 467.1L481.9 471.4L481.8 475.7L481.8 479.7L481.8 483.6L481.8 487.3L481.8 490.9L481.8 494.5L481.8 498.1L481.8 501.7L481.8 505.4L481.9 509.1L482 512.9L482 516.6L482.2 520.2L482.3 523.5L482.6 526.6L482.8 529.3L483.1 531.6L483.4 533.3L483.8 534.4L484.2 534.9M485.4 429.5L483.6 430.6L481.8 432.2L480.1 434.5L478.4 437.4L476.9 440.7L475.5 444.5L474.2 448.6L473.2 453L472.3 457.5L471.6 462L471.1 466.5L470.8 470.8L470.6 475L470.4 479.1L470.4 482.9L470.4 486.6L470.4 490.2L470.4 493.8L470.4 497.4L470.5 501L470.6 504.6L470.8 508.4L471.1 512.1L471.5 515.8L472 519.4L472.7 522.8L473.6 525.9L474.6 528.7L475.8 531L477.2 532.8L478.7 534L480.3 534.6M485.4 429.5L482.4 430.4L479.4 432L476.5 434.2L473.7 436.9L471.1 440.1L468.8 443.8L466.8 447.8L465 452.1L463.6 456.5L462.5 460.9L461.6 465.3L461.1 469.6L460.7 473.7L460.5 477.7L460.4 481.5L460.4 485.1L460.4 488.7L460.5 492.2L460.5 495.8L460.6 499.4L460.8 503L461.1 506.7L461.5 510.4L462.2 514.2L463.1 517.8L464.2 521.3L465.7 524.5L467.4 527.3L469.5 529.8L471.7 531.7L474.2 533.1M485.4 429.5L481.4 430.3L477.5 431.7L473.7 433.7L470 436.2L466.7 439.3L463.6 442.8L461 446.7L458.7 450.7L456.9 455L455.5 459.3L454.4 463.6L453.7 467.7L453.2 471.8L452.9 475.7L452.8 479.4L452.8 483L452.8 486.6L452.9 490L453 493.5L453.1 497.1L453.3 500.7L453.7 504.4L454.3 508.1L455.1 511.8L456.2 515.5L457.7 519L459.6 522.4L461.9 525.4L464.5 528L467.5 530.2M485.4 429.5L480.8 430.1L476.2 431.3L471.8 433.1L467.7 435.4L463.8 438.3L460.4 441.6L457.4 445.3L454.8 449.2L452.7 453.2L451.1 457.4L449.9 461.5L449.1 465.6L448.6 469.5L448.3 473.3L448.2 477L448.1 480.5L448.2 484L448.2 487.4L448.3 490.9L448.5 494.3L448.7 497.9L449.1 501.6L449.8 505.3L450.7 509L452 512.7L453.7 516.4L455.8 519.8L458.4 523M485.4 429.5L480.5 429.9L475.7 430.9L471.1 432.4L466.8 434.6L462.8 437.2L459.2 440.3L456.1 443.7L453.5 447.4L451.4 451.3L449.7 455.3L448.5 459.3L447.7 463.2L447.1 467.1L446.8 470.8M485.4 429.5L480.7 429.7L476 430.4L471.6 431.8L467.4 433.7M485.4 429.5L481.2 429.5L477.1 430M485.4 429.5L482 429.3M485.4 429.5L483.1 429.2M485.4 429.5L484.4 429.1M517.7 447.9L517.6 448.4L517.4 449L516.8 449.5L516 450L515 450.5L513.7 451L512.2 451.5L510.4 452L508.4 452.4L506.2 452.8L503.8 453.1L501.3 453.4L498.6 453.7L495.8 453.9L492.9 454L490 454.2L487 454.2L483.9 454.2L480.9 454.2L478 454L475.1 453.9L472.2 453.7L469.6 453.4L467 453.1L464.6 452.8L462.5 452.4L460.5 452L458.7 451.5L457.1 451.1L455.8 450.6L454.8 450L454 449.5L453.4 449L453.2 448.4L453.1 447.9M523.9 471.3L523.6 472L523 472.8L522.1 473.6L520.9 474.4L519.4 475.1L517.6 475.8L515.5 476.4L513.1 477.1L510.5 477.6L507.6 478.1L504.6 478.6L501.4 479L498 479.3L494.5 479.5L490.9 479.7L487.3 479.7L483.6 479.7L480 479.7L476.4 479.5L472.9 479.3L469.5 479L466.3 478.6L463.2 478.1L460.4 477.6L457.8 477.1L455.4 476.5L453.3 475.8L451.5 475.1L449.9 474.4L448.7 473.6L447.8 472.9L447.2 472.1L446.9 471.3M523.8 491.4L523.5 492.3L522.9 493.2L522 494.1L520.8 495L519.3 495.8L517.4 496.6L515.4 497.4L513 498.1L510.4 498.7L507.6 499.3L504.5 499.8L501.3 500.2L497.9 500.6L494.5 500.9L490.9 501.1L487.3 501.1L483.6 501.1L480 501.1L476.4 500.9L473 500.6L469.6 500.3L466.4 499.8L463.3 499.3L460.5 498.7L457.9 498.1L455.5 497.4L453.4 496.6L451.6 495.8L450.1 495L448.8 494.1L447.9 493.2L447.3 492.3L447 491.4M518.2 514.6L517.4 515.5L516.3 516.4L514.9 517.2L513.3 518L511.5 518.7L509.4 519.4L507.2 520.1L504.7 520.7L502 521.2L499.2 521.6L496.3 521.9L493.3 522.2L490.2 522.4L487 522.5L483.9 522.5L480.7 522.4L477.6 522.2L474.6 522L471.7 521.6L468.8 521.2L466.2 520.7L463.7 520.1L461.4 519.5L459.4 518.8L457.5 518L455.9 517.2L454.5 516.4L453.5 515.5L452.6 514.6M495.3 533.6L494.2 533.8L493 534.1L491.7 534.3L490.4 534.5L489 534.6L487.6 534.7L486.1 534.7L484.7 534.7L483.3 534.7L481.9 534.6L480.5 534.5L479.1 534.3L477.9 534.1L476.6 533.9L475.5 533.6" fill="none" stroke="#333" stroke-width="0.72" stroke-opacity="0.82"/>
<use href="#e19p" fill="none" stroke="#777" stroke-width="0.9"/>
<line x1="496.4" y1="486.6" x2="524" y2="498.8" stroke="#555" stroke-width="1.2" stroke-dasharray="3.5 3.5"/>
<use href="#e20p" fill="url(#e20)" fill-opacity="1"/>
<use href="#e20p" fill="url(#e20s)" fill-opacity="1"/>
<use href="#e20p" fill="url(#e20h)" fill-opacity="1"/>
<polygon points="544.6,513.5 544.7,513.9 544.8,514.2 545.1,514.6 545.4,515 545.7,515.4 546.2,515.8 546.7,516.2 547.3,516.5 548,516.9 548.7,517.3 549.5,517.6 550.4,518 551.3,518.3 552.4,518.6 553.5,518.9 554.6,519.2 555.8,519.5 557.1,519.8 558.4,520.1 559.8,520.3 561.3,520.6 562.8,520.8 564.3,521 565.9,521.2 567.5,521.4 569.1,521.5 570.8,521.7 572.5,521.8 574.3,521.9 576,522 577.8,522.1 579.6,522.1 581.4,522.1 583.2,522.1 585,522.1 586.8,522.1 588.6,522.1 590.4,522 592.1,521.9 593.9,521.8 595.6,521.7 597.3,521.5 598.9,521.4 600.5,521.2 602.1,521 603.6,520.8 605.1,520.6 606.6,520.3 608,520.1 609.3,519.8 610.6,519.5 611.8,519.2 612.9,518.9 614,518.6 615.1,518.3 616,518 616.9,517.6 617.7,517.3 618.4,516.9 619.1,516.5 619.7,516.2 620.2,515.8 620.7,515.4 621,515 621.3,514.6 621.6,514.2 621.7,513.9 621.8,513.5 624.8,513.5 624.8,583 541.6,583 541.6,513.5" fill="#000" fill-opacity="0.07" clip-path="url(#e20c)"/>
<path d="M583.2 471.9L583.6 471.5M583.2 471.9L585 471.5M583.2 471.9L586.2 471.6M583.2 471.9L587.1 471.8L591 472.3M583.2 471.9L587.8 472L592.3 472.7L596.5 473.9M583.2 471.9L588.1 472.2L592.9 473.1L597.4 474.6L601.7 476.6L605.7 479.2L609.2 482.2L612.3 485.5L614.9 489.2M583.2 471.9L588 472.4L592.7 473.5L597.2 475.2L601.5 477.5L605.4 480.3L608.9 483.5L612 487.1L614.6 490.9L616.7 494.9L618.4 499L619.6 503L620.4 507.1L621 511L621.3 514.7L621.4 518.4L621.4 521.9L621.4 525.3L621.3 528.7L621.2 532.2L621.1 535.6L620.8 539.2L620.4 542.8L619.8 546.5L618.8 550.3L617.5 554L615.8 557.7M583.2 471.9L587.5 472.6L591.7 473.9L595.8 475.9L599.7 478.4L603.2 481.3L606.5 484.8L609.3 488.5L611.7 492.5L613.6 496.7L615.2 501L616.3 505.2L617.1 509.3L617.6 513.3L617.8 517.2L618 520.9L618 524.5L618 528L617.9 531.5L617.8 534.9L617.7 538.5L617.4 542L617 545.7L616.4 549.4L615.6 553.2L614.3 556.9L612.7 560.4L610.8 563.8L608.4 566.9L605.6 569.6M583.2 471.9L586.6 472.8L590 474.3L593.3 476.4L596.5 479.1L599.4 482.3L602 485.9L604.3 489.8L606.3 494L607.9 498.3L609.1 502.7L610.1 507.1L610.7 511.3L611.1 515.4L611.4 519.3L611.5 523.1L611.5 526.8L611.5 530.3L611.4 533.9L611.3 537.4L611.2 540.9L611 544.6L610.7 548.3L610.2 552L609.5 555.7L608.5 559.4L607.2 562.9L605.5 566.1L603.5 569L601.3 571.5L598.7 573.6L595.9 575.1M583.2 471.9L585.5 472.9L587.8 474.6L590 476.8L592.1 479.6L594.1 482.9L595.9 486.7L597.5 490.8L598.8 495.1L599.9 499.6L600.7 504L601.4 508.5L601.8 512.8L602.1 517L602.3 521L602.3 524.8L602.3 528.5L602.3 532.1L602.3 535.7L602.2 539.2L602.2 542.8L602 546.5L601.8 550.2L601.5 553.9L601 557.7L600.3 561.3L599.4 564.7L598.3 567.9L596.9 570.6L595.4 573L593.6 574.8L591.7 576.1M583.2 471.9L584.2 473L585.1 474.7L586.1 477L587 479.9L587.8 483.3L588.6 487.2L589.3 491.3L589.8 495.7L590.3 500.3L590.7 504.8L590.9 509.3L591.1 513.7L591.3 517.9L591.3 522L591.4 525.8L591.4 529.5L591.4 533.2L591.3 536.7L591.3 540.3L591.3 543.9L591.2 547.6L591.1 551.3L591 555.1L590.8 558.8L590.5 562.4L590.1 565.8L589.6 568.9L589 571.6L588.4 573.8L587.6 575.5L586.8 576.7L586 577.2M583.2 471.9L582.8 473L582.3 474.7L581.9 477.1L581.5 480L581.2 483.4L580.8 487.2L580.5 491.4L580.3 495.8L580.1 500.4L579.9 504.9L579.8 509.5L579.7 513.8L579.6 518.1L579.6 522.1L579.6 526L579.6 529.7L579.6 533.3L579.6 536.9L579.6 540.5L579.6 544.1L579.6 547.8L579.7 551.5L579.8 555.3L579.8 559L580 562.6L580.1 565.9L580.4 569L580.6 571.7L580.9 574L581.2 575.7L581.6 576.8L582 577.3M583.2 471.9L581.4 473L579.6 474.6L577.9 476.9L576.2 479.8L574.7 483.1L573.3 486.9L572 491L571 495.4L570.1 499.9L569.4 504.4L568.9 508.9L568.6 513.2L568.4 517.4L568.2 521.5L568.2 525.3L568.2 529L568.2 532.6L568.2 536.2L568.2 539.8L568.3 543.4L568.4 547L568.6 550.8L568.9 554.5L569.3 558.2L569.8 561.8L570.5 565.2L571.4 568.3L572.4 571.1L573.6 573.4L575 575.2L576.5 576.4L578.1 577M583.2 471.9L580.2 472.8L577.2 474.4L574.3 476.6L571.5 479.3L568.9 482.5L566.6 486.2L564.6 490.2L562.8 494.5L561.4 498.9L560.3 503.3L559.4 507.7L558.9 512L558.5 516.1L558.3 520.1L558.2 523.9L558.2 527.5L558.2 531.1L558.3 534.6L558.3 538.2L558.4 541.8L558.6 545.4L558.9 549.1L559.3 552.8L560 556.6L560.9 560.2L562 563.7L563.5 566.9L565.2 569.7L567.3 572.2L569.5 574.1L572 575.5M583.2 471.9L579.2 472.7L575.3 474.1L571.5 476.1L567.8 478.6L564.5 481.7L561.4 485.2L558.8 489.1L556.5 493.1L554.7 497.4L553.3 501.7L552.2 506L551.5 510.1L551 514.2L550.7 518.1L550.6 521.8L550.6 525.4L550.6 529L550.7 532.4L550.8 535.9L550.9 539.5L551.1 543.1L551.5 546.8L552.1 550.5L552.9 554.2L554 557.9L555.5 561.4L557.4 564.8L559.7 567.8L562.3 570.4L565.3 572.6M583.2 471.9L578.6 472.5L574 473.7L569.6 475.5L565.5 477.8L561.6 480.7L558.2 484L555.2 487.7L552.6 491.6L550.5 495.6L548.9 499.8L547.7 503.9L546.9 508L546.4 511.9L546.1 515.7L546 519.4L545.9 522.9L546 526.4L546 529.8L546.1 533.3L546.3 536.7L546.5 540.3L546.9 544L547.6 547.7L548.5 551.4L549.8 555.1L551.5 558.8L553.6 562.2L556.2 565.4M583.2 471.9L578.3 472.3L573.5 473.3L568.9 474.8L564.6 477L560.6 479.6L557 482.7L553.9 486.1L551.3 489.8L549.2 493.7L547.5 497.7L546.3 501.7L545.5 505.6L544.9 509.5L544.6 513.2M583.2 471.9L578.5 472.1L573.8 472.8L569.4 474.2L565.2 476.1M583.2 471.9L579 471.9L574.9 472.4M583.2 471.9L579.8 471.7M583.2 471.9L580.9 471.6M583.2 471.9L582.2 471.5M615.5 490.3L615.4 490.8L615.2 491.4L614.6 491.9L613.8 492.4L612.8 492.9L611.5 493.4L610 493.9L608.2 494.4L606.2 494.8L604 495.2L601.6 495.5L599.1 495.8L596.4 496.1L593.6 496.3L590.7 496.4L587.8 496.6L584.8 496.6L581.7 496.6L578.7 496.6L575.8 496.4L572.9 496.3L570 496.1L567.4 495.8L564.8 495.5L562.4 495.2L560.3 494.8L558.3 494.4L556.5 493.9L554.9 493.5L553.6 493L552.6 492.4L551.8 491.9L551.2 491.4L551 490.8L550.9 490.3M621.7 513.7L621.4 514.4L620.8 515.2L619.9 516L618.7 516.8L617.2 517.5L615.4 518.2L613.3 518.8L610.9 519.5L608.3 520L605.4 520.5L602.4 521L599.2 521.4L595.8 521.7L592.3 521.9L588.7 522.1L585.1 522.1L581.4 522.1L577.8 522.1L574.2 521.9L570.7 521.7L567.3 521.4L564.1 521L561 520.5L558.2 520L555.6 519.5L553.2 518.9L551.1 518.2L549.3 517.5L547.7 516.8L546.5 516L545.6 515.3L545 514.5L544.7 513.7M621.6 533.8L621.3 534.7L620.7 535.6L619.8 536.5L618.6 537.4L617.1 538.2L615.2 539L613.2 539.8L610.8 540.5L608.2 541.1L605.4 541.7L602.3 542.2L599.1 542.6L595.7 543L592.3 543.3L588.7 543.5L585.1 543.5L581.4 543.5L577.8 543.5L574.2 543.3L570.8 543L567.4 542.7L564.2 542.2L561.1 541.7L558.3 541.1L555.7 540.5L553.3 539.8L551.2 539L549.4 538.2L547.9 537.4L546.6 536.5L545.7 535.6L545.1 534.7L544.8 533.8M616 557L615.2 557.9L614.1 558.8L612.7 559.6L611.1 560.4L609.3 561.1L607.2 561.8L605 562.5L602.5 563.1L599.8 563.6L597 564L594.1 564.3L591.1 564.6L588 564.8L584.8 564.9L581.7 564.9L578.5 564.8L575.4 564.6L572.4 564.4L569.5 564L566.6 563.6L564 563.1L561.5 562.5L559.2 561.9L557.2 561.2L555.3 560.4L553.7 559.6L552.3 558.8L551.3 557.9L550.4 557M593.1 576L592 576.2L590.8 576.5L589.5 576.7L588.2 576.9L586.8 577L585.4 577.1L583.9 577.1L582.5 577.1L581.1 577.1L579.7 577L578.3 576.9L576.9 576.7L575.7 576.5L574.4 576.3L573.3 576" fill="none" stroke="#333" stroke-width="0.72" stroke-opacity="0.82"/>
<use href="#e20p" fill="none" stroke="#777" stroke-width="0.9"/>
<line x1="593.4" y1="529" x2="622" y2="541.8" stroke="#555" stroke-width="1.2" stroke-dasharray="3.5 3.5"/>
<line x1="419.7" y1="813.8" x2="635.8" y2="906.5" stroke="#888" stroke-width="1.2" stroke-dasharray="3.5 3.5"/>
<use href="#e21p" fill="url(#e21)" fill-opacity="1"/>
<use href="#e21p" fill="url(#e21s)" fill-opacity="1"/>
<use href="#e21p" fill="url(#e21h)" fill-opacity="1"/>
<path d="M499.6 847.7L494.9 847.6L489.9 847.5L484.8 847.2L479.6 846.8L474.5 846.2L469.7 845.6L465.1 844.9L460.9 844.1L457.1 843.3L453.8 842.5L450.9 841.7L448.4 840.9L446.2 840.1L444.4 839.4L442.8 838.7L441.3 838L439.9 837.3L438.6 836.7L437.3 836L436.1 835.4L434.8 834.7L433.8 834L432.9 833.4L432.2 832.7L431.9 832M499.6 847.7L495.2 846.3L490.4 844.9L485.6 843.3L480.6 841.7L475.8 840.1L471.1 838.5L466.7 837L462.6 835.5L458.9 834.2L455.7 832.9L452.8 831.9L450.3 830.9L448.2 830L446.4 829.3L444.8 828.6L443.3 827.9L441.9 827.3L440.6 826.7L439.3 826.1L438 825.6L436.7 825L435.6 824.5L434.7 824L434 823.6L433.6 823.2M499.6 847.7L495.7 845.1L491.6 842.4L487.2 839.7L482.8 837L478.4 834.3L474.1 831.9L470.1 829.6L466.3 827.5L462.9 825.6L459.8 824L457 822.7L454.7 821.6L452.6 820.6L450.7 819.8L449.1 819.1L447.6 818.5L446.2 818L444.9 817.4L443.5 816.9L442.2 816.4L440.9 815.9L439.7 815.5L438.7 815.2L437.9 815.1L437.3 815.1M499.6 847.7L496.6 844L493.2 840.3L489.7 836.6L486 832.9L482.3 829.4L478.6 826.2L475.1 823.2L471.7 820.6L468.6 818.3L465.8 816.4L463.2 814.9L461 813.6L458.9 812.6L457.1 811.8L455.5 811.1L454 810.6L452.5 810L451.2 809.5L449.8 809.1L448.4 808.6L447.1 808.2L445.8 808L444.7 807.8L443.7 807.9L442.9 808.2M499.6 847.7L497.6 843.2L495.2 838.7L492.7 834.2L489.9 829.8L487 825.7L484.1 821.9L481.2 818.4L478.4 815.4L475.7 812.8L473.2 810.7L470.9 809L468.8 807.6L466.8 806.6L465.1 805.7L463.4 805.1L461.9 804.5L460.4 804L459 803.6L457.6 803.2L456.1 802.8L454.7 802.4L453.4 802.2L452.1 802.2L450.8 802.5M499.6 847.7L498.7 842.7L497.5 837.7L496 832.7L494.3 827.9L492.4 823.4L490.3 819.2L488.1 815.5L485.9 812.2L483.7 809.5L481.6 807.2L479.5 805.4L477.5 804L475.7 802.9L473.9 802.1L472.3 801.4L470.7 800.9L469.2 800.4L467.8 800L466.3 799.6L464.8 799.2L463.3 799L461.8 798.8L460.4 798.9M499.6 847.7L499.9 842.5L499.9 837.3L499.5 832.2L498.9 827.3L497.9 822.6L496.7 818.4L495.3 814.6L493.7 811.3L492 808.5L490.2 806.2L488.4 804.4L486.6 802.9L484.8 801.9L483.1 801L481.5 800.4L479.9 799.9L478.3 799.4L476.8 799L475.3 798.6L473.8 798.3L472.2 798M499.6 847.7L501.1 842.7L502.2 837.6L502.9 832.7L503.3 828L503.2 823.5L502.8 819.4L502.1 815.8L501.1 812.6L499.9 809.9L498.4 807.7L496.9 805.9L495.2 804.5L493.6 803.5L491.9 802.6L490.2 802M499.6 847.7L502.1 843.2L504.3 838.7L506 834.2L507.2 829.9L508 825.9L508.4 822.2L508.3 818.9L507.8 816L506.9 813.5L505.8 811.5L504.4 809.8L502.9 808.5M499.6 847.7L503 844L506 840.2L508.5 836.6L510.5 833L511.9 829.6L512.8 826.5L513.2 823.7L513.2 821.2L512.6 819.1L511.8 817.3M499.6 847.7L503.6 845L507.2 842.3L510.3 839.6L512.8 837L514.7 834.4L516 832L516.8 829.9L517 827.9L516.7 826.2M499.6 847.7L504 846.2L507.9 844.7L511.2 843.2L514 841.6L516.2 840L517.7 838.4L518.7 837L519 835.6M499.6 847.7L504 847.6L507.9 847.3L511.3 846.9L514.1 846.5L516.3 845.9L517.9 845.2L518.8 844.5L519.2 843.8M499.6 847.7L503.7 848.9L507.4 849.9L510.5 850.7L513.1 851.4L515.1 851.8L516.4 852L517.2 852M499.6 847.7L503.2 850.1L506.3 852.3L508.9 854.3L511 855.9L512.5 857.3L513.5 858.4L514 859.1M499.6 847.7L502.3 851.1L504.7 854.4L506.5 857.3L507.9 859.9L508.9 862.1L509.3 863.8L509.3 865.2L508.9 866.1M499.6 847.7L501.3 852L502.7 856L503.6 859.7L504.2 863L504.3 865.8L504.1 868.1L503.5 869.9L502.7 871.2M499.6 847.7L500.2 852.5L500.4 857L500.3 861.2L499.9 865L499.2 868.2L498.2 870.9L497 873L495.5 874.6L494 875.7M499.6 847.7L499 852.7L498.1 857.4L496.9 861.8L495.4 865.7L493.8 869.1L491.9 872L490 874.3L488 875.9L486 877.1L484 877.7M499.6 847.7L497.8 852.5L495.8 857.1L493.5 861.4L491 865.2L488.4 868.5L485.8 871.3L483.1 873.5L480.6 875.1L478.1 876.2L475.7 876.8L473.5 877L471.5 876.8M499.6 847.7L496.8 852L493.7 856.2L490.4 860L487 863.4L483.5 866.3L480.1 868.8L476.8 870.7L473.7 872.2L470.8 873.1L468.1 873.5L465.7 873.6L463.5 873.4L461.6 872.9L459.8 872.3L458.2 871.5L456.7 870.7L455.3 869.9L453.9 869.1M499.6 847.7L495.9 851.2L491.9 854.6L487.8 857.7L483.6 860.4L479.4 862.8L475.4 864.7L471.5 866.2L467.9 867.2L464.6 867.8L461.7 868.1L459.1 868L456.8 867.6L454.7 867.1L452.9 866.5L451.3 865.7L449.9 864.9L448.5 864.2L447.1 863.4L445.8 862.6L444.5 861.7L443.2 860.8L442 859.8M499.6 847.7L495.3 850.2L490.7 852.5L485.9 854.6L481.2 856.5L476.4 858L471.9 859.2L467.6 860L463.7 860.6L460.1 860.8L456.9 860.7L454.1 860.4L451.7 860L449.6 859.4L447.8 858.7L446.2 857.9L444.8 857.2L443.4 856.4L442.1 855.7L440.7 854.9L439.5 854.2L438.2 853.3L437.1 852.4L436.1 851.3M499.6 847.7L494.9 849L490 850.1L484.9 851.1L479.8 851.8L474.8 852.3L469.9 852.7L465.4 852.8L461.2 852.7L457.5 852.4L454.2 852L451.3 851.4L448.9 850.8L446.7 850.1L444.9 849.4L443.3 848.7L441.8 848L440.5 847.3L439.1 846.6L437.8 845.9L436.6 845.2L435.4 844.4L434.3 843.6L433.4 842.7L432.7 841.7M478.2 846.6L478.4 844.8L478.8 843L479.3 841.2L480 839.4L480.7 837.7L481.7 836.1L482.7 834.5L483.9 833.1L485.1 831.8L486.5 830.5L487.9 829.4L489.4 828.5L490.9 827.7L492.5 827L494.1 826.5L495.8 826.2L497.4 826L499 826L500.6 826.1L502.2 826.4L503.7 826.8L505.2 827.4L506.6 828.2L507.9 829.1L509.1 830.1L510.3 831.3L511.3 832.5L512.2 833.9L513 835.4L513.6 836.9L514.1 838.5L514.5 840.2L514.8 841.9L514.9 843.7L514.9 845.4L514.7 847.2L514.4 849L513.9 850.7L513.4 852.4L512.7 854.1L511.8 855.7L510.9 857.2L509.9 858.7L508.7 860.1L507.5 861.3L506.1 862.5L504.7 863.5L503.3 864.4L501.8 865.2L500.2 865.8L498.6 866.2L497 866.6L495.4 866.7L493.8 866.7L492.2 866.6L490.6 866.3L489.1 865.8L487.6 865.2L486.2 864.4L484.9 863.5L483.7 862.4L482.6 861.3L481.6 860L480.7 858.6L479.9 857L479.2 855.5L478.7 853.8L478.4 852L478.2 850.3L478.1 848.5L478.2 846.6M458.7 843.7L459.1 840.6L459.7 837.6L460.5 834.6L461.6 831.7L463 828.9L464.5 826.2L466.2 823.6L468.1 821.2L470.2 819L472.5 817L474.8 815.2L477.3 813.7L479.9 812.4L482.6 811.3L485.3 810.5L488 810L490.7 809.7L493.4 809.7L496.1 810L498.7 810.5L501.2 811.3L503.6 812.3L505.9 813.6L508 815.1L510 816.8L511.9 818.7L513.5 820.8L515 823L516.3 825.4L517.3 828L518.2 830.6L518.8 833.4M502.9 871.3L500.5 872.7L498 874L495.4 875L492.8 875.8L490.2 876.3L487.5 876.6L484.9 876.6L482.3 876.4L479.7 875.9L477.2 875.2L474.8 874.2L472.4 873L470.2 871.5L468.2 869.8L466.3 867.8L464.6 865.7L463 863.4L461.7 860.9L460.6 858.3L459.8 855.5L459.1 852.7L458.7 849.7L458.6 846.7L458.7 843.7M446.6 840.2L447 836.8L447.6 833.4L448.6 830L449.8 826.7L451.3 823.6L453.1 820.5L455 817.6L457.2 814.9L459.6 812.4L462.1 810.2L464.8 808.2L467.6 806.4L470.6 805L473.6 803.8L476.6 802.9L479.7 802.3L482.8 802L485.9 802.1L488.9 802.4L491.8 803L494.7 803.9L497.4 805.1M467.7 875.8L464.9 874.6L462.3 873.3L459.8 871.6L457.5 869.7L455.3 867.5L453.3 865.1L451.6 862.5L450.1 859.7L448.8 856.7L447.8 853.6L447.1 850.4L446.6 847.1L446.5 843.7L446.6 840.2M439.8 837.3L440.2 833.8L440.9 830.4L441.8 827.1L443 823.8L444.5 820.7L446.2 817.7L448.2 814.8L450.3 812.1L452.7 809.7L455.2 807.4L457.9 805.5L460.7 803.7L463.7 802.3L466.7 801.1L469.7 800.2L472.8 799.7L475.9 799.4L478.9 799.4L481.9 799.7L484.9 800.4M455.6 870.1L453.1 868.4L450.7 866.5L448.6 864.4L446.6 862L444.9 859.4L443.4 856.6L442.1 853.6L441.1 850.6L440.3 847.3L439.9 844L439.7 840.7L439.8 837.3M434.4 834.5L434.8 831.2L435.4 827.9L436.3 824.7L437.5 821.5L438.9 818.5L440.6 815.5L442.5 812.8L444.6 810.2L446.9 807.8L449.3 805.7L451.9 803.8L454.7 802.1L457.5 800.7L460.4 799.6L463.4 798.7L466.4 798.2L469.4 797.9L472.3 797.9M445.1 862.8L443 860.7L441.1 858.4L439.4 855.9L437.9 853.2L436.7 850.3L435.7 847.3L435 844.2L434.5 841L434.3 837.8L434.4 834.5M433.6 823L434.6 820.2L435.8 817.6" fill="none" stroke="#333" stroke-width="0.72" stroke-opacity="0.82"/>
<use href="#e21p" fill="none" stroke="#777" stroke-width="0.9"/>
<line x1="499.5" y1="848" x2="519" y2="856.4" stroke="#444" stroke-width="1.3" stroke-dasharray="3.5 3.5"/>
<use href="#e22p" fill="url(#e22)" fill-opacity="1"/>
<use href="#e22p" fill="url(#e22s)" fill-opacity="1"/>
<use href="#e22p" fill="url(#e22h)" fill-opacity="1"/>
<path d="M604.1 893.6L599.4 893.6L594.4 893.4L589.3 893.1L584.1 892.7L579 892.2L574.2 891.5L569.6 890.8L565.4 890.1L561.6 889.3L558.3 888.4L555.4 887.6L552.9 886.8L550.7 886.1L548.9 885.3L547.3 884.6L545.8 883.9L544.4 883.3L543.1 882.6L541.8 882L540.6 881.3L539.3 880.7L538.3 880L537.4 879.3L536.7 878.6L536.4 877.9M604.1 893.6L599.7 892.3L594.9 890.8L590.1 889.2L585.1 887.6L580.3 886L575.6 884.4L571.2 882.9L567.1 881.5L563.4 880.1L560.2 878.9L557.3 877.8L554.8 876.8L552.7 876L550.9 875.2L549.3 874.5L547.8 873.9L546.4 873.3L545.1 872.7L543.8 872.1L542.5 871.5L541.2 870.9L540.1 870.4L539.2 869.9L538.5 869.5L538.1 869.2M604.1 893.6L600.2 891L596.1 888.3L591.7 885.6L587.3 882.9L582.9 880.3L578.6 877.8L574.6 875.5L570.8 873.4L567.4 871.6L564.3 870L561.5 868.6L559.2 867.5L557.1 866.6L555.2 865.8L553.6 865.1L552.1 864.5L550.7 863.9L549.4 863.4L548 862.9L546.7 862.4L545.4 861.9L544.2 861.5L543.2 861.2L542.4 861L541.8 861.1M604.1 893.6L601.1 890L597.7 886.2L594.2 882.5L590.5 878.9L586.8 875.4L583.1 872.1L579.6 869.2L576.2 866.6L573.1 864.3L570.3 862.4L567.7 860.8L565.5 859.6L563.4 858.5L561.6 857.7L560 857.1L558.5 856.5L557 856L555.7 855.5L554.3 855L552.9 854.6L551.6 854.2L550.3 853.9L549.2 853.8L548.2 853.8L547.4 854.2M604.1 893.6L602.1 889.2L599.7 884.6L597.2 880.1L594.4 875.8L591.5 871.6L588.6 867.8L585.7 864.4L582.9 861.4L580.2 858.8L577.7 856.6L575.4 854.9L573.3 853.6L571.3 852.5L569.6 851.7L567.9 851L566.4 850.5L564.9 850L563.5 849.5L562.1 849.1L560.6 848.7L559.2 848.4L557.9 848.2L556.6 848.2L555.3 848.4M604.1 893.6L603.2 888.6L602 883.6L600.5 878.6L598.8 873.8L596.9 869.3L594.8 865.2L592.6 861.4L590.4 858.2L588.2 855.4L586.1 853.2L584 851.3L582 849.9L580.2 848.9L578.4 848L576.8 847.4L575.2 846.9L573.7 846.4L572.3 846L570.8 845.6L569.3 845.2L567.8 844.9L566.3 844.8L564.9 844.8M604.1 893.6L604.4 888.5L604.4 883.3L604 878.1L603.4 873.2L602.4 868.6L601.2 864.3L599.8 860.5L598.2 857.2L596.5 854.4L594.7 852.1L592.9 850.3L591.1 848.9L589.3 847.8L587.6 847L586 846.4L584.4 845.8L582.8 845.4L581.3 845L579.8 844.6L578.3 844.2L576.7 843.9M604.1 893.6L605.6 888.6L606.7 883.6L607.4 878.7L607.8 873.9L607.7 869.5L607.3 865.4L606.6 861.7L605.6 858.5L604.4 855.8L602.9 853.6L601.4 851.8L599.7 850.5L598.1 849.4L596.4 848.6L594.7 848M604.1 893.6L606.6 889.1L608.8 884.6L610.5 880.2L611.7 875.9L612.5 871.8L612.9 868.1L612.8 864.8L612.3 861.9L611.4 859.5L610.3 857.4L608.9 855.8L607.4 854.5M604.1 893.6L607.5 889.9L610.5 886.2L613 882.5L615 878.9L616.4 875.6L617.3 872.5L617.7 869.6L617.7 867.2L617.1 865L616.3 863.2M604.1 893.6L608.1 891L611.7 888.3L614.8 885.6L617.3 882.9L619.2 880.4L620.5 878L621.3 875.8L621.5 873.8L621.2 872.1M604.1 893.6L608.5 892.2L612.4 890.7L615.7 889.1L618.5 887.5L620.7 885.9L622.2 884.4L623.2 882.9L623.5 881.5M604.1 893.6L608.5 893.5L612.4 893.3L615.8 892.9L618.6 892.4L620.8 891.8L622.4 891.2L623.3 890.5L623.7 889.7M604.1 893.6L608.2 894.8L611.9 895.8L615 896.7L617.6 897.3L619.6 897.7L620.9 898L621.7 898M604.1 893.6L607.7 896L610.8 898.3L613.4 900.2L615.5 901.9L617 903.3L618 904.3L618.5 905M604.1 893.6L606.8 897.1L609.2 900.3L611 903.3L612.4 905.9L613.4 908L613.8 909.8L613.8 911.1L613.4 912M604.1 893.6L605.8 897.9L607.2 902L608.1 905.6L608.7 908.9L608.8 911.7L608.6 914.1L608 915.9L607.2 917.2M604.1 893.6L604.7 898.4L604.9 903L604.8 907.2L604.4 910.9L603.7 914.2L602.7 916.9L601.5 919L600 920.6L598.5 921.6M604.1 893.6L603.5 898.6L602.6 903.4L601.4 907.8L599.9 911.7L598.3 915.1L596.4 917.9L594.5 920.2L592.5 921.9L590.5 923L588.5 923.7M604.1 893.6L602.3 898.5L600.3 903.1L598 907.3L595.5 911.1L592.9 914.5L590.3 917.2L587.6 919.4L585.1 921.1L582.6 922.2L580.2 922.8L578 922.9L576 922.7M604.1 893.6L601.3 898L598.2 902.1L594.9 905.9L591.5 909.3L588 912.3L584.6 914.8L581.3 916.7L578.2 918.1L575.3 919L572.6 919.5L570.2 919.6L568 919.3L566.1 918.9L564.3 918.2L562.7 917.5L561.2 916.7L559.8 915.9L558.4 915.1M604.1 893.6L600.4 897.2L596.4 900.5L592.3 903.6L588.1 906.4L583.9 908.7L579.9 910.6L576 912.1L572.4 913.1L569.1 913.8L566.2 914L563.6 913.9L561.3 913.6L559.2 913.1L557.4 912.4L555.8 911.7L554.4 910.9L553 910.1L551.6 909.3L550.3 908.5L549 907.7L547.7 906.8L546.5 905.7M604.1 893.6L599.8 896.1L595.2 898.5L590.4 900.6L585.7 902.4L580.9 903.9L576.4 905.1L572.1 906L568.2 906.5L564.6 906.7L561.4 906.7L558.6 906.4L556.2 905.9L554.1 905.3L552.3 904.6L550.7 903.9L549.3 903.1L547.9 902.4L546.6 901.6L545.2 900.9L544 900.1L542.7 899.3L541.6 898.3L540.6 897.3M604.1 893.6L599.4 894.9L594.5 896L589.4 897L584.3 897.8L579.3 898.3L574.4 898.6L569.9 898.7L565.7 898.6L562 898.4L558.7 897.9L555.8 897.4L553.4 896.8L551.2 896.1L549.4 895.4L547.8 894.7L546.3 893.9L545 893.2L543.6 892.5L542.3 891.8L541.1 891.1L539.9 890.3L538.8 889.5L537.9 888.6L537.2 887.7M582.7 892.6L582.9 890.7L583.3 888.9L583.8 887.1L584.5 885.4L585.2 883.7L586.2 882L587.2 880.5L588.4 879L589.6 877.7L591 876.5L592.4 875.4L593.9 874.4L595.4 873.6L597 873L598.6 872.5L600.3 872.1L601.9 871.9L603.5 871.9L605.1 872L606.7 872.3L608.2 872.8L609.7 873.4L611.1 874.1L612.4 875L613.6 876.1L614.8 877.2L615.8 878.5L616.7 879.8L617.5 881.3L618.1 882.8L618.6 884.5L619 886.1L619.3 887.9L619.4 889.6L619.4 891.4L619.2 893.1L618.9 894.9L618.4 896.7L617.9 898.4L617.2 900L616.3 901.7L615.4 903.2L614.4 904.6L613.2 906L612 907.3L610.6 908.4L609.2 909.4L607.8 910.3L606.3 911.1L604.7 911.7L603.1 912.2L601.5 912.5L599.9 912.7L598.3 912.7L596.7 912.5L595.1 912.2L593.6 911.7L592.1 911.1L590.7 910.4L589.4 909.4L588.2 908.4L587.1 907.2L586.1 905.9L585.2 904.5L584.4 903L583.7 901.4L583.2 899.7L582.9 898L582.7 896.2L582.6 894.4L582.7 892.6M563.2 889.6L563.6 886.6L564.2 883.6L565 880.6L566.1 877.7L567.5 874.8L569 872.1L570.7 869.6L572.6 867.2L574.7 865L577 863L579.3 861.2L581.8 859.6L584.4 858.3L587.1 857.2L589.8 856.4L592.5 855.9L595.2 855.6L597.9 855.6L600.6 855.9L603.2 856.4L605.7 857.2L608.1 858.3L610.4 859.5L612.5 861L614.5 862.7L616.4 864.6L618 866.7L619.5 869L620.8 871.4L621.8 873.9L622.7 876.6L623.3 879.3M607.4 917.2L605 918.7L602.5 919.9L599.9 920.9L597.3 921.7L594.7 922.3L592 922.6L589.4 922.6L586.8 922.4L584.2 921.9L581.7 921.1L579.3 920.1L576.9 918.9L574.7 917.4L572.7 915.7L570.8 913.8L569.1 911.7L567.5 909.4L566.2 906.9L565.1 904.2L564.3 901.5L563.6 898.6L563.2 895.7L563.1 892.7L563.2 889.6M551.1 886.2L551.5 882.7L552.1 879.3L553.1 876L554.3 872.7L555.8 869.5L557.6 866.5L559.5 863.6L561.7 860.9L564.1 858.4L566.6 856.1L569.3 854.1L572.1 852.4L575.1 850.9L578.1 849.7L581.1 848.9L584.2 848.3L587.3 848L590.4 848L593.4 848.3L596.3 848.9L599.2 849.9L601.9 851M572.2 921.7L569.4 920.6L566.8 919.2L564.3 917.5L562 915.6L559.8 913.5L557.8 911.1L556.1 908.5L554.6 905.7L553.3 902.7L552.3 899.6L551.6 896.3L551.1 893L551 889.6L551.1 886.2M544.3 883.2L544.7 879.8L545.4 876.4L546.3 873.1L547.5 869.8L549 866.6L550.7 863.6L552.7 860.8L554.8 858.1L557.2 855.6L559.7 853.4L562.4 851.4L565.2 849.7L568.2 848.2L571.2 847.1L574.2 846.2L577.3 845.6L580.4 845.3L583.4 845.4L586.4 845.7L589.4 846.3M560.1 916L557.6 914.4L555.2 912.5L553.1 910.3L551.1 907.9L549.4 905.3L547.9 902.6L546.6 899.6L545.6 896.5L544.8 893.3L544.4 890L544.2 886.6L544.3 883.2M538.9 880.4L539.3 877.1L539.9 873.8L540.8 870.6L542 867.5L543.4 864.4L545.1 861.5L547 858.7L549.1 856.2L551.4 853.8L553.8 851.6L556.4 849.7L559.2 848L562 846.6L564.9 845.5L567.9 844.7L570.9 844.1L573.9 843.9L576.8 843.9M549.6 908.8L547.5 906.7L545.6 904.4L543.9 901.8L542.4 899.1L541.2 896.3L540.2 893.3L539.5 890.2L539 887L538.8 883.7L538.9 880.4M538.1 868.9L539.1 866.2L540.3 863.5" fill="none" stroke="#333" stroke-width="0.72" stroke-opacity="0.82"/>
<use href="#e22p" fill="none" stroke="#777" stroke-width="0.9"/>
<line x1="604" y1="893.4" x2="623" y2="901.3" stroke="#444" stroke-width="1.3" stroke-dasharray="3.5 3.5"/>
<polygon points="777.4,412.9 789,417.4 786.1,628 775.8,623.7" fill="#d4d4d4" />
<polygon points="777.4,412.9 967.3,364.7 978.9,368.5 789,417.4" fill="#e2e2e2" />
<polygon points="789,417.4 978.9,368.5 977.8,578.5 786.1,628" fill="#ececec" />
<text x="816.9" y="432.2" font-size="15.5" text-anchor="start" fill="#000" transform="rotate(-13.6 816.9 432.2)" textLength="145" lengthAdjust="spacingAndGlyphs" >Quark&#8211;gluon plasma</text>
<polygon points="731,435 790,436 790,546.5 731,549.5" fill="url(#t23)" />
<g filter="url(#mb)" opacity="0.75"><g transform="translate(-3.5 0) translate(797 501.2) rotate(3) scale(0.68 1) translate(-797 -501.2)"><use href="#n25"/></g></g>
<g mask="url(#m26)" opacity="0.75"><g transform="translate(797 501.2) rotate(3) scale(0.68 1) translate(-797 -501.2)"><use href="#n25"/></g></g>
<polygon points="878.7,430.5 891.3,439.8 886.8,439.3 886.8,455.3 875,457.1 875,440.9 869.6,441.4" fill="#e8c580" />
<polygon points="875,440.9 879.6,440.6 879.6,456.4 875,457.1" fill="#cfa862" />
<polygon points="869.6,441.4 875,440.9 879.6,440.6 873.7,438.9" fill="#cfa862" />
<polygon points="889.5,603.3 897.7,593.6 892.2,593.1 892.2,577.2 881,577.2 881,592.5 875.9,593" fill="#e8c580" />
<polygon points="881,592.5 885,592.2 885,577.2 881,577.2" fill="#cfa862" />
<polygon points="875.9,593 889.5,603.3 891.5,599.7 879.9,593" fill="#cfa862" fill-opacity="0.55"/>
<g opacity="0.92"><polygon points="839.7,518.4 848.2,533.2 822.5,541.7 823.4,550.4 801.3,536.8 811.6,519.3 817.6,526.9" fill="#e8c580" /><polygon points="839.7,518.4 843,524 819.5,532.2 812.5,523 811.6,519.3 817.6,526.9" fill="#f0d598" /></g>
<g opacity="1.0"><polygon points="920.3,493.9 946.6,485.6 944.8,477.6 966.5,489.7 956.6,508.2 950.2,502.4 928.5,509.7" fill="#e8c580" /><polygon points="920.3,493.9 946.6,485.6 944.8,477.6 949,480 950.5,489 923.5,498.5" fill="#f0d598" /></g>
<polygon points="920.3,493.9 923.5,498.5 931,508.8 928.5,509.7" fill="#cfa862" />
<ellipse cx="882.3" cy="517" rx="30.8" ry="53.7" fill="#e8793a"/>
<ellipse cx="885" cy="518" rx="29.3" ry="52.6" fill="url(#qe1)"/>
<polygon points="968,471.5 1037,481.5 1037,595.5 968,589" fill="url(#t27)" />
<g filter="url(#mb)" opacity="0.75"><g transform="translate(3.5 0) translate(969 529.8) rotate(-3) scale(0.7 1) translate(-969 -529.8)"><use href="#n29"/></g></g>
<g mask="url(#m30)" opacity="0.85"><g transform="translate(969 529.8) rotate(-3) scale(0.7 1) translate(-969 -529.8)"><use href="#n29"/></g></g>
<g opacity="0.4"><polygon points="920.3,493.9 946.6,485.6 944.8,477.6 966.5,489.7 956.6,508.2 950.2,502.4 928.5,509.7" fill="#e8c580" /></g>
<line x1="782.8" y1="626.7" x2="782.8" y2="597.3" stroke="#3f4c66" stroke-width="1.9"/>
<polygon points="782.8,593.3 787,604.3 782.8,601 778.5,604.3" fill="#3f4c66" />
<line x1="782.8" y1="626.7" x2="813.5" y2="618.1" stroke="#3f4c66" stroke-width="1.9"/>
<polygon points="817.4,617 808,624.1 810,619.1 805.7,615.9" fill="#3f4c66" />
<line x1="782.8" y1="626.7" x2="804" y2="635" stroke="#3f4c66" stroke-width="1.9"/>
<polygon points="807.7,636.5 795.9,636.4 800.5,633.7 799,628.5" fill="#3f4c66" />
<text x="786" y="601" font-size="22" text-anchor="start" fill="#222" ><tspan font-style="italic">y</tspan></text>
<text x="812.5" y="610" font-size="22" text-anchor="start" fill="#222" ><tspan font-style="italic">x</tspan></text>
<text x="811.0" y="642.5" font-size="23" text-anchor="start" fill="#222" transform="rotate(-20 811.0 642.5)" ><tspan font-style="italic">z</tspan></text>
<text x="836.5" y="652.3" font-size="22.5" text-anchor="start" fill="#000" transform="rotate(-14.7 836.5 652.3)" textLength="170.5" lengthAdjust="spacingAndGlyphs" >Large &#949;<tspan font-size="15.5" dy="6">2</tspan><tspan dy="-6" font-size="1">&#8203;</tspan> small <tspan font-style="italic">d</tspan><tspan font-size="15" dy="3">&#8202;&#8869;</tspan><tspan dy="-3" font-size="1">&#8203;</tspan></text>
<polygon points="774.2,771.7 793.4,778.4 793.4,989 772.5,982" fill="#d4d4d4" />
<polygon points="774.2,771.7 954.4,726.3 975,732.2 793.4,778.4" fill="#e2e2e2" />
<polygon points="793.4,778.4 975,732.2 975,938 793.4,989" fill="#ececec" />
<text x="816.8" y="793.8" font-size="15.5" text-anchor="start" fill="#000" transform="rotate(-13.6 816.8 793.8)" textLength="145" lengthAdjust="spacingAndGlyphs" >Quark&#8211;gluon plasma</text>
<polygon points="722,810 792,812 792,895 722,897" fill="url(#t31)" />
<g filter="url(#mb2)" opacity="0.75"><g transform="translate(-2.5 0) translate(791 863) rotate(0) scale(0.78 1) translate(-791 -863)"><use href="#n33"/></g></g>
<g mask="url(#m34)" opacity="0.85"><g transform="translate(791 863) rotate(0) scale(0.78 1) translate(-791 -863)"><use href="#n33"/></g></g>
<polygon points="876,786 891.7,801.2 884.6,800.7 884.6,828 866.5,825.3 866.5,801.2 858.2,801.7" fill="#e8c580" />
<polygon points="866.5,801.2 873.2,800.9 873.2,826.4 866.5,825.3" fill="#cfa862" />
<polygon points="858.2,801.7 866.5,801.2 873.2,800.9 864.2,798" fill="#cfa862" />
<polygon points="887.7,967.5 901,952 893.2,951.5 893.2,923.6 875,923.6 875,950.7 868.3,951.2" fill="#e8c580" />
<polygon points="875,950.7 881,950.4 881,923.6 875,923.6" fill="#cfa862" />
<polygon points="868.3,951.2 887.7,967.5 890.7,962.1 874.3,951.2" fill="#cfa862" fill-opacity="0.55"/>
<g opacity="0.92"><polygon points="832.5,886.5 840.6,899.5 814.3,907.7 818,916.4 797.1,904.1 807.5,885.9 814.3,891.7" fill="#e8c580" /><polygon points="832.5,886.5 835.5,891.5 816,897 808.5,889.5 807.5,885.9 814.3,891.7" fill="#f0d598" /></g>
<g opacity="1.0"><polygon points="921.6,858.8 945.7,851.5 943.9,843.9 959.3,852.4 952,867.8 948.5,864.5 929.4,875" fill="#e8c580" /><polygon points="921.6,858.8 945.7,851.5 943.9,843.9 948,846 949.5,855 924.6,863.5" fill="#f0d598" /></g>
<polygon points="921.6,858.8 924.6,863.5 932,873.8 929.4,875" fill="#cfa862" />
<polygon points="840.3,872.4 840.4,869.1 840.8,865.8 841.4,862.6 842.3,859.4 843.4,856.3 844.8,853.4 846.4,850.6 848.1,848 850.1,845.5 852.3,843.3 854.6,841.3 857,839.5 859.6,838 862.3,836.7 865.1,835.7 868,835 870.9,834.5 873.8,834.4 876.7,834.5 879.6,835 882.5,835.7 885.3,836.7 891.5,839.3 894.2,840.6 896.8,842.1 899.2,843.9 901.5,845.9 903.7,848.1 905.7,850.6 907.4,853.2 909,856 910.4,858.9 911.5,862 912.4,865.2 913,868.4 913.4,871.7 913.5,875 913.4,878.3 913,881.6 912.4,884.8 911.5,888 910.4,891.1 909,894 907.4,896.8 905.7,899.4 903.7,901.9 901.5,904.1 899.2,906.1 896.8,907.9 894.2,909.4 891.5,910.7 888.7,911.7 885.8,912.4 882.9,912.9 880,913 877.1,912.9 874.2,912.4 871.3,911.7 868.5,910.7 862.3,908.1 859.6,906.8 857,905.3 854.6,903.5 852.3,901.5 850.1,899.3 848.1,896.8 846.4,894.2 844.8,891.4 843.4,888.5 842.3,885.4 841.4,882.2 840.8,879 840.4,875.7" fill="#e68c4c" />
<polygon points="846.5,875 846.6,871.7 847,868.4 847.6,865.2 848.5,862 849.6,858.9 851,856 852.6,853.2 854.3,850.6 856.3,848.1 858.5,845.9 860.8,843.9 863.2,842.1 865.8,840.6 868.5,839.3 871.3,838.3 874.2,837.6 877.1,837.1 880,837 882.9,837.1 885.8,837.6 888.7,838.3 891.5,839.3 899.2,842.8 901.9,844.1 904.5,845.6 906.9,847.4 909.2,849.4 911.4,851.6 913.4,854.1 915.1,856.7 916.7,859.5 918.1,862.4 919.2,865.5 920.1,868.7 920.7,871.9 921.1,875.2 921.2,878.5 921.1,881.8 920.7,885.1 920.1,888.3 919.2,891.5 918.1,894.6 916.7,897.5 915.1,900.3 913.4,902.9 911.4,905.4 909.2,907.6 906.9,909.6 904.5,911.4 901.9,912.9 899.2,914.2 896.4,915.2 893.5,915.9 890.6,916.4 887.7,916.5 884.8,916.4 881.9,915.9 879,915.2 876.2,914.2 868.5,910.7 865.8,909.4 863.2,907.9 860.8,906.1 858.5,904.1 856.3,901.9 854.3,899.4 852.6,896.8 851,894 849.6,891.1 848.5,888 847.6,884.8 847,881.6 846.6,878.3" fill="#ec7a34" />
<ellipse cx="887.7" cy="878.5" rx="33.3" ry="37.8" fill="url(#qe2)"/>
<polygon points="974,852 1046,867 1046,949 974,938" fill="url(#t35)" />
<g filter="url(#mb2)" opacity="0.75"><g transform="translate(2.5 0) translate(971 890.5) rotate(0) scale(0.8 1) translate(-971 -890.5)"><use href="#n37"/></g></g>
<g mask="url(#m38)" opacity="0.85"><g transform="translate(971 890.5) rotate(0) scale(0.8 1) translate(-971 -890.5)"><use href="#n37"/></g></g>
<text x="777.4" y="1006.6" font-size="22" text-anchor="middle" transform="rotate(108 777.4 1001)">}</text>
<text x="828.4" y="1011.2" font-size="22.5" text-anchor="start" fill="#000" transform="rotate(-14.5 828.4 1011.2)" textLength="169.6" lengthAdjust="spacingAndGlyphs" >Small &#949;<tspan font-size="15.5" dy="6">2</tspan><tspan dy="-6" font-size="1">&#8203;</tspan> large d<tspan font-size="15" dy="3">&#8202;&#8869;</tspan><tspan dy="-3" font-size="1">&#8203;</tspan></text>
<polygon points="1215.2,420.5 1226.4,425 1223.8,633.7 1213,630.1" fill="#d4d4d4" />
<polygon points="1215.2,420.5 1406,372.2 1418.2,376.1 1226.4,425" fill="#e2e2e2" />
<polygon points="1226.4,425 1418.2,376.1 1417.5,585 1223.8,633.7" fill="#f0f0f0" />
<text x="1255.4" y="439" font-size="15.5" text-anchor="start" fill="#000" transform="rotate(-13.6 1255.4 439)" textLength="145" lengthAdjust="spacingAndGlyphs" >Quark&#8211;gluon plasma</text>
<polygon points="1198.5,507.2 1199,502.7 1200,498.2 1201.6,493.6 1203.9,489.1 1206.7,484.6 1210.1,480.1 1214,475.8 1218.4,471.6 1223.3,467.6 1228.6,463.8 1234.3,460.2 1240.3,456.9 1246.6,453.9 1253.2,451.1 1260,448.7 1266.9,446.7 1274,445 1281.1,443.7 1288.1,442.7 1295.1,442.2 1302,442.1 1308.7,442.3 1315.2,443 1321.5,444 1327.4,445.4 1332.9,447.2 1338.1,449.4 1342.8,451.9 1375.9,470.5 1380.1,473.3 1383.8,476.4 1386.9,479.8 1389.5,483.5 1391.6,487.3 1393,491.4 1393.8,495.6 1394,500 1393.5,504.5 1392.5,509 1390.9,513.6 1388.6,518.1 1385.8,522.6 1382.4,527.1 1378.5,531.4 1374.1,535.6 1369.2,539.6 1363.9,543.4 1358.2,547 1352.2,550.3 1345.9,553.3 1339.3,556.1 1332.5,558.5 1325.6,560.5 1318.5,562.2 1311.4,563.5 1304.4,564.5 1297.4,565 1290.5,565.1 1283.8,564.9 1277.3,564.2 1271,563.2 1265.1,561.8 1259.6,560 1254.4,557.8 1249.7,555.3 1216.6,536.7 1212.4,533.9 1208.7,530.8 1205.6,527.4 1203,523.7 1200.9,519.9 1199.5,515.8 1198.7,511.6" fill="#df7c38" fill-opacity="0.94"/>
<polygon points="1215.2,420.5 1226.4,425 1223.8,633.7 1213,630.1" fill="#000" fill-opacity="0.13" clip-path="url(#clipfb)"/>
<polygon points="1231.6,525.8 1232.1,521.3 1233.1,516.8 1234.7,512.2 1237,507.7 1239.8,503.2 1243.2,498.7 1247.1,494.4 1251.5,490.2 1256.4,486.2 1261.7,482.4 1267.4,478.8 1273.4,475.5 1279.7,472.5 1286.3,469.7 1293.1,467.3 1300,465.3 1307.1,463.6 1314.2,462.3 1321.2,461.3 1328.2,460.8 1335.1,460.7 1341.8,460.9 1348.3,461.6 1354.6,462.6 1360.5,464 1366,465.8 1371.2,468 1375.9,470.5 1392,479.6 1396.2,482.4 1399.9,485.5 1403,488.9 1405.6,492.6 1407.7,496.4 1409.1,500.5 1409.9,504.8 1410.1,509.1 1409.6,513.6 1408.6,518.1 1407,522.7 1404.7,527.2 1401.9,531.7 1398.5,536.2 1394.6,540.5 1390.2,544.7 1385.3,548.7 1380,552.5 1374.3,556.1 1368.3,559.4 1362,562.4 1355.4,565.2 1348.6,567.6 1341.7,569.6 1334.6,571.3 1327.5,572.6 1320.5,573.6 1313.5,574.1 1306.6,574.2 1299.9,574 1293.4,573.3 1287.1,572.3 1281.2,570.9 1275.7,569.1 1270.5,566.9 1265.8,564.4 1249.7,555.3 1245.5,552.5 1241.8,549.4 1238.7,546 1236.1,542.3 1234,538.5 1232.6,534.4 1231.8,530.1" fill="#ea7a36" />
<ellipse cx="1328.9" cy="522" rx="83" ry="49.3" transform="rotate(-15 1328.9 522)" fill="url(#qf1)"/>
<path d="M1332.1 521.1L1343.1 518.2M1332 522.1L1342 522.2M1331.3 523L1338.1 525.6M1330.1 523.7L1333 527.6M1328.7 524L1328.3 528.1M1327.3 524L1324.7 527.4M1326.2 523.6L1322.2 526M1325.7 522.9L1320.7 524.2M1325.8 521.9L1320.2 521.9M1326.5 521L1321.3 519M1327.7 520.3L1324.5 516M1329.1 520L1329.8 513.7M1330.5 520L1335.9 513.2M1331.6 520.4L1340.9 514.8M1350 518.6L1363.1 516.6M1348.6 523.4L1360 524.1M1344.8 527.9L1353.2 531M1339.1 531.7L1343.9 536.2M1332.2 534.4L1333.5 539.3M1324.9 535.5L1323.5 540.2M1318 535.1L1314.8 539M1312.5 533L1307.9 536.1M1308.9 529.7L1303.4 531.8M1307.8 525.4L1301.4 526.4M1309.2 520.6L1302.4 520.2M1313 516.1L1306.6 513.8M1318.7 512.3L1313.9 507.8M1325.6 509.6L1323.8 503.1M1332.9 508.5L1335.2 500.6M1339.8 508.9L1346.5 500.8M1345.3 511L1355.8 503.9M1348.9 514.3L1361.7 509.4M1378.6 508.7L1400.7 502.8M1379.2 514.3L1401 511M1378.1 520.2L1398.8 519.5M1375.3 526.2L1394 527.9M1371 532L1387.1 535.9M1365.2 537.5L1378.2 543.1M1358.1 542.5L1368 549.4M1350.1 546.8L1356.8 554.5M1341.4 550.2L1345 558.3M1332.2 552.6L1333.1 560.8M1322.9 554L1321.4 562M1313.8 554.4L1310.4 561.8M1305.3 553.6L1300.2 560.4M1297.5 551.7L1291.1 557.8M1290.8 548.9L1283.3 554.1M1285.4 545.1L1277 549.6M1281.5 540.5L1272.2 544.1M1279.2 535.3L1269.2 538M1278.6 529.7L1267.9 531.3M1279.7 523.8L1268.6 524.1M1282.5 517.8L1271.2 516.8M1286.8 512L1275.8 509.3M1292.6 506.5L1282.3 502M1299.7 501.5L1290.7 495.2M1307.7 497.2L1300.6 489M1316.4 493.8L1312 483.8M1325.6 491.4L1324.4 479.8M1334.9 490L1337.3 477.2M1344 489.6L1350.2 476.2M1352.5 490.4L1362.7 476.8M1360.3 492.3L1374.2 479.1M1367 495.1L1384.1 483.1M1372.4 498.9L1392 488.5M1376.3 503.5L1397.6 495.2" stroke="#222" stroke-width="0.55" fill="none"/><g fill="#222"><circle cx="1343.1" cy="518.2" r="0.9"/><circle cx="1342" cy="522.2" r="0.9"/><circle cx="1338.1" cy="525.6" r="0.9"/><circle cx="1333" cy="527.6" r="0.9"/><circle cx="1328.3" cy="528.1" r="0.9"/><circle cx="1324.7" cy="527.4" r="0.9"/><circle cx="1322.2" cy="526" r="0.9"/><circle cx="1320.7" cy="524.2" r="0.9"/><circle cx="1320.2" cy="521.9" r="0.9"/><circle cx="1321.3" cy="519" r="0.9"/><circle cx="1324.5" cy="516" r="0.9"/><circle cx="1329.8" cy="513.7" r="0.9"/><circle cx="1335.9" cy="513.2" r="0.9"/><circle cx="1340.9" cy="514.8" r="0.9"/><circle cx="1363.1" cy="516.6" r="0.9"/><circle cx="1360" cy="524.1" r="0.9"/><circle cx="1353.2" cy="531" r="0.9"/><circle cx="1343.9" cy="536.2" r="0.9"/><circle cx="1333.5" cy="539.3" r="0.9"/><circle cx="1323.5" cy="540.2" r="0.9"/><circle cx="1314.8" cy="539" r="0.9"/><circle cx="1307.9" cy="536.1" r="0.9"/><circle cx="1303.4" cy="531.8" r="0.9"/><circle cx="1301.4" cy="526.4" r="0.9"/><circle cx="1302.4" cy="520.2" r="0.9"/><circle cx="1306.6" cy="513.8" r="0.9"/><circle cx="1313.9" cy="507.8" r="0.9"/><circle cx="1323.8" cy="503.1" r="0.9"/><circle cx="1335.2" cy="500.6" r="0.9"/><circle cx="1346.5" cy="500.8" r="0.9"/><circle cx="1355.8" cy="503.9" r="0.9"/><circle cx="1361.7" cy="509.4" r="0.9"/><circle cx="1400.7" cy="502.8" r="0.9"/><circle cx="1401" cy="511" r="0.9"/><circle cx="1398.8" cy="519.5" r="0.9"/><circle cx="1394" cy="527.9" r="0.9"/><circle cx="1387.1" cy="535.9" r="0.9"/><circle cx="1378.2" cy="543.1" r="0.9"/><circle cx="1368" cy="549.4" r="0.9"/><circle cx="1356.8" cy="554.5" r="0.9"/><circle cx="1345" cy="558.3" r="0.9"/><circle cx="1333.1" cy="560.8" r="0.9"/><circle cx="1321.4" cy="562" r="0.9"/><circle cx="1310.4" cy="561.8" r="0.9"/><circle cx="1300.2" cy="560.4" r="0.9"/><circle cx="1291.1" cy="557.8" r="0.9"/><circle cx="1283.3" cy="554.1" r="0.9"/><circle cx="1277" cy="549.6" r="0.9"/><circle cx="1272.2" cy="544.1" r="0.9"/><circle cx="1269.2" cy="538" r="0.9"/><circle cx="1267.9" cy="531.3" r="0.9"/><circle cx="1268.6" cy="524.1" r="0.9"/><circle cx="1271.2" cy="516.8" r="0.9"/><circle cx="1275.8" cy="509.3" r="0.9"/><circle cx="1282.3" cy="502" r="0.9"/><circle cx="1290.7" cy="495.2" r="0.9"/><circle cx="1300.6" cy="489" r="0.9"/><circle cx="1312" cy="483.8" r="0.9"/><circle cx="1324.4" cy="479.8" r="0.9"/><circle cx="1337.3" cy="477.2" r="0.9"/><circle cx="1350.2" cy="476.2" r="0.9"/><circle cx="1362.7" cy="476.8" r="0.9"/><circle cx="1374.2" cy="479.1" r="0.9"/><circle cx="1384.1" cy="483.1" r="0.9"/><circle cx="1392" cy="488.5" r="0.9"/><circle cx="1397.6" cy="495.2" r="0.9"/></g>
<line x1="1218.8" y1="632.3" x2="1218.8" y2="600.8" stroke="#3f4c66" stroke-width="1.9"/>
<polygon points="1218.8,596.8 1223,607.8 1218.8,604.5 1214.5,607.8" fill="#3f4c66" />
<line x1="1218.8" y1="632.3" x2="1249.6" y2="624.6" stroke="#3f4c66" stroke-width="1.9"/>
<polygon points="1253.5,623.6 1243.9,630.4 1246,625.5 1241.8,622.2" fill="#3f4c66" />
<line x1="1218.8" y1="632.3" x2="1240.3" y2="639.7" stroke="#3f4c66" stroke-width="1.9"/>
<polygon points="1244.1,641 1232.3,641.4 1236.8,638.5 1235.1,633.4" fill="#3f4c66" />
<text x="1224.6" y="601" font-size="22" text-anchor="start" fill="#222" ><tspan font-style="italic">y</tspan></text>
<text x="1249.2" y="615.6" font-size="22" text-anchor="start" fill="#222" ><tspan font-style="italic">x</tspan></text>
<text x="1247.5" y="645.5" font-size="23" text-anchor="start" fill="#222" transform="rotate(-20 1247.5 645.5)" ><tspan font-style="italic">z</tspan></text>
<text x="1281.8" y="649.2" font-size="22.9" text-anchor="start" fill="#000" transform="rotate(-15.3 1281.8 649.2)" textLength="182.5" lengthAdjust="spacingAndGlyphs" >Large <tspan font-family='"Liberation Serif", serif' font-style="italic" font-size="23">&#965;</tspan><tspan font-size="15.5" dy="6">2</tspan><tspan dy="-6" font-size="1">&#8203;</tspan> small [<tspan font-style="italic">p</tspan><tspan font-size="14.5" dy="5">T</tspan><tspan dy="-5" font-size="1">&#8203;</tspan>]</text>
<polygon points="1215.5,775.7 1234.8,782.5 1234.8,987.7 1215,980.3" fill="#d4d4d4" />
<polygon points="1215.5,775.7 1395.2,730.9 1413.4,736.8 1234.8,782.5" fill="#e2e2e2" />
<polygon points="1234.8,782.5 1413.4,736.8 1413.4,941.5 1234.8,987.7" fill="#f0f0f0" />
<text x="1256" y="796.5" font-size="15.5" text-anchor="start" fill="#000" transform="rotate(-13.6 1256 796.5)" textLength="145" lengthAdjust="spacingAndGlyphs" >Quark&#8211;gluon plasma</text>
<polygon points="1222.9,858.2 1223.1,852.7 1223.8,847.2 1224.8,841.9 1226.3,836.6 1228.2,831.5 1230.5,826.6 1233.1,822 1236.1,817.6 1239.4,813.6 1243,809.9 1247,806.5 1251.1,803.6 1255.5,801 1260,798.9 1264.7,797.2 1269.5,796.1 1274.4,795.3 1279.3,795.1 1284.2,795.3 1289.1,796.1 1293.9,797.2 1298.6,798.9 1303.1,801 1336.7,820.5 1341.1,823.1 1345.2,826 1349.2,829.4 1352.8,833.1 1356.1,837.1 1359.1,841.5 1361.7,846.1 1364,851 1365.9,856.1 1367.4,861.4 1368.4,866.7 1369.1,872.2 1369.3,877.7 1369.1,883.2 1368.4,888.7 1367.4,894 1365.9,899.3 1364,904.4 1361.7,909.2 1359.1,913.9 1356.1,918.3 1352.8,922.3 1349.2,926 1345.2,929.4 1341.1,932.3 1336.7,934.9 1332.2,937 1327.5,938.6 1322.7,939.8 1317.8,940.6 1312.9,940.8 1308,940.6 1303.1,939.8 1298.3,938.6 1293.6,937 1289.1,934.9 1255.5,915.4 1251.1,912.8 1247,909.9 1243,906.5 1239.4,902.8 1236.1,898.8 1233.1,894.4 1230.5,889.8 1228.2,884.9 1226.3,879.8 1224.8,874.5 1223.8,869.2 1223.1,863.7" fill="#df7c38" fill-opacity="0.94"/>
<polygon points="1256.5,877.7 1256.7,872.2 1257.4,866.7 1258.4,861.4 1259.9,856.1 1261.8,851 1264.1,846.1 1266.7,841.5 1269.7,837.1 1273,833.1 1276.6,829.4 1280.5,826 1284.7,823.1 1289.1,820.5 1293.6,818.4 1298.3,816.8 1303.1,815.6 1308,814.8 1312.9,814.6 1317.8,814.8 1322.7,815.6 1327.5,816.8 1332.2,818.4 1336.7,820.5 1354.8,831 1359.2,833.6 1363.3,836.5 1367.3,839.9 1370.9,843.6 1374.2,847.6 1377.2,852 1379.8,856.6 1382.1,861.5 1384,866.6 1385.5,871.9 1386.5,877.2 1387.2,882.7 1387.4,888.2 1387.2,893.7 1386.5,899.2 1385.5,904.5 1384,909.8 1382.1,914.9 1379.8,919.8 1377.2,924.4 1374.2,928.8 1370.9,932.8 1367.3,936.5 1363.3,939.9 1359.2,942.8 1354.8,945.4 1350.3,947.5 1345.6,949.1 1340.8,950.3 1335.9,951.1 1331,951.3 1326.1,951.1 1321.2,950.3 1316.4,949.1 1311.7,947.5 1307.2,945.4 1289.1,934.9 1284.7,932.3 1280.5,929.4 1276.6,926 1273,922.3 1269.7,918.3 1266.7,913.9 1264.1,909.2 1261.8,904.4 1259.9,899.3 1258.4,894 1257.4,888.7 1256.7,883.2" fill="#ea7a36" />
<ellipse cx="1331" cy="888.2" rx="56.4" ry="63.1" fill="url(#qf2)" stroke="#e0a890" stroke-width="0.8"/>
<path d="M1333.8 888.2L1341.2 888.2M1333.4 889.8L1339.7 893.8M1332.4 890.9L1335.9 897.6M1331 891.4L1331 898.7M1329.6 890.9L1326.5 897M1328.6 889.8L1323.3 893.2M1328.2 888.2L1322 888.2M1328.6 886.6L1323.1 883.1M1329.6 885.5L1326.3 879M1331 885L1331 877.2M1332.4 885.5L1336.1 878.4M1333.4 886.6L1339.9 882.5M1347.6 891.9L1356 893.8M1345.1 898.7L1352 903.9M1340.4 903.9L1344.9 911.5M1334.3 906.8L1335.8 915.3M1327.7 906.8L1326.2 915M1321.6 903.9L1317.6 910.7M1316.9 898.7L1311 903.1M1314.4 891.9L1307.4 893.4M1314.4 884.5L1307.3 882.9M1316.9 877.7L1310.8 873.1M1321.6 872.5L1317.3 865.3M1327.7 869.6L1326.1 860.8M1334.3 869.6L1335.9 860.5M1340.4 872.5L1345.1 864.5M1345.1 877.7L1352.3 872.3M1347.6 884.5L1356.1 882.6M1366 888.2L1382 888.2M1365.2 896.3L1380.8 900M1362.9 904.1L1377.3 911.3M1359.3 911.2L1371.8 921.4M1354.4 917.3L1364.6 929.9M1348.5 922.1L1355.9 936.5M1341.8 925.4L1346.3 941M1334.7 927.1L1336.2 943M1327.3 927.1L1325.9 942.7M1320.2 925.4L1315.9 940M1313.5 922.1L1306.7 935.2M1307.6 917.3L1298.7 928.4M1302.7 911.2L1292 919.9M1299.1 904.1L1287 910.1M1296.8 896.3L1283.9 899.4M1296 888.2L1282.7 888.2M1296.8 880.1L1283.7 876.9M1299.1 872.3L1286.6 866.1M1302.7 865.2L1291.5 856.1M1307.6 859.1L1298.2 847.4M1313.5 854.3L1306.3 840.4M1320.2 851L1315.6 835.3M1327.3 849.3L1325.8 832.6M1334.7 849.3L1336.3 832.3M1341.8 851L1346.6 834.4M1348.5 854.3L1356.4 839M1354.4 859.1L1365.1 845.9M1359.3 865.2L1372.3 854.6M1362.9 872.3L1377.7 864.9M1365.2 880.1L1381 876.3" stroke="#222" stroke-width="0.55" fill="none"/><g fill="#222"><circle cx="1341.2" cy="888.2" r="0.9"/><circle cx="1339.7" cy="893.8" r="0.9"/><circle cx="1335.9" cy="897.6" r="0.9"/><circle cx="1331" cy="898.7" r="0.9"/><circle cx="1326.5" cy="897" r="0.9"/><circle cx="1323.3" cy="893.2" r="0.9"/><circle cx="1322" cy="888.2" r="0.9"/><circle cx="1323.1" cy="883.1" r="0.9"/><circle cx="1326.3" cy="879" r="0.9"/><circle cx="1331" cy="877.2" r="0.9"/><circle cx="1336.1" cy="878.4" r="0.9"/><circle cx="1339.9" cy="882.5" r="0.9"/><circle cx="1356" cy="893.8" r="0.9"/><circle cx="1352" cy="903.9" r="0.9"/><circle cx="1344.9" cy="911.5" r="0.9"/><circle cx="1335.8" cy="915.3" r="0.9"/><circle cx="1326.2" cy="915" r="0.9"/><circle cx="1317.6" cy="910.7" r="0.9"/><circle cx="1311" cy="903.1" r="0.9"/><circle cx="1307.4" cy="893.4" r="0.9"/><circle cx="1307.3" cy="882.9" r="0.9"/><circle cx="1310.8" cy="873.1" r="0.9"/><circle cx="1317.3" cy="865.3" r="0.9"/><circle cx="1326.1" cy="860.8" r="0.9"/><circle cx="1335.9" cy="860.5" r="0.9"/><circle cx="1345.1" cy="864.5" r="0.9"/><circle cx="1352.3" cy="872.3" r="0.9"/><circle cx="1356.1" cy="882.6" r="0.9"/><circle cx="1382" cy="888.2" r="0.9"/><circle cx="1380.8" cy="900" r="0.9"/><circle cx="1377.3" cy="911.3" r="0.9"/><circle cx="1371.8" cy="921.4" r="0.9"/><circle cx="1364.6" cy="929.9" r="0.9"/><circle cx="1355.9" cy="936.5" r="0.9"/><circle cx="1346.3" cy="941" r="0.9"/><circle cx="1336.2" cy="943" r="0.9"/><circle cx="1325.9" cy="942.7" r="0.9"/><circle cx="1315.9" cy="940" r="0.9"/><circle cx="1306.7" cy="935.2" r="0.9"/><circle cx="1298.7" cy="928.4" r="0.9"/><circle cx="1292" cy="919.9" r="0.9"/><circle cx="1287" cy="910.1" r="0.9"/><circle cx="1283.9" cy="899.4" r="0.9"/><circle cx="1282.7" cy="888.2" r="0.9"/><circle cx="1283.7" cy="876.9" r="0.9"/><circle cx="1286.6" cy="866.1" r="0.9"/><circle cx="1291.5" cy="856.1" r="0.9"/><circle cx="1298.2" cy="847.4" r="0.9"/><circle cx="1306.3" cy="840.4" r="0.9"/><circle cx="1315.6" cy="835.3" r="0.9"/><circle cx="1325.8" cy="832.6" r="0.9"/><circle cx="1336.3" cy="832.3" r="0.9"/><circle cx="1346.6" cy="834.4" r="0.9"/><circle cx="1356.4" cy="839" r="0.9"/><circle cx="1365.1" cy="845.9" r="0.9"/><circle cx="1372.3" cy="854.6" r="0.9"/><circle cx="1377.7" cy="864.9" r="0.9"/><circle cx="1381" cy="876.3" r="0.9"/></g>
<text x="1267.3" y="1012" font-size="22.9" text-anchor="start" fill="#000" transform="rotate(-15 1267.3 1012)" textLength="180" lengthAdjust="spacingAndGlyphs" >Small <tspan font-family='"Liberation Serif", serif' font-style="italic" font-size="23">&#965;</tspan><tspan font-size="15.5" dy="6">2</tspan><tspan dy="-6" font-size="1">&#8203;</tspan> large [<tspan font-style="italic">p</tspan><tspan font-size="14.5" dy="5">T</tspan><tspan dy="-5" font-size="1">&#8203;</tspan>]</text>
<polygon points="1594.2,478.1 1624.6,425.4 1677.3,395 1738.1,395 1790.8,425.4 1799,437.2 1828.7,488.8 1828.7,548.2 1799,599.8 1747.4,629.5 1688,629.5 1636.4,599.8 1624.6,591.6 1594.2,538.9" fill="#c3c3cb" />
<polygon points="1833,550.9 1802.6,603.4 1750.1,633.8 1689.3,633.8 1636.8,603.4 1606.4,550.9 1606.4,490.1 1636.8,437.6 1689.3,407.2 1750.1,407.2 1802.6,437.6 1833,490.1" fill="#f6f6f6" stroke="#8c8c8c" stroke-width="1.4"/>
<polygon points="1830.4,550.2 1800.7,601.5 1749.4,631.2 1690,631.2 1638.7,601.5 1609,550.2 1609,490.8 1638.7,439.5 1690,409.8 1749.4,409.8 1800.7,439.5 1830.4,490.8" fill="none" stroke="#a2a2a2" stroke-width="1.2"/>
<polygon points="1827.5,549.4 1798.6,599.4 1748.6,628.3 1690.8,628.3 1640.8,599.4 1611.9,549.4 1611.9,491.6 1640.8,441.6 1690.8,412.7 1748.6,412.7 1798.6,441.6 1827.5,491.6" fill="none" stroke="#a2a2a2" stroke-width="1.2"/>
<polygon points="1824,548.4 1796.1,596.9 1747.6,624.8 1691.8,624.8 1643.3,596.9 1615.4,548.4 1615.4,492.6 1643.3,444.1 1691.8,416.2 1747.6,416.2 1796.1,444.1 1824,492.6" fill="url(#detbg)" stroke="#8a8a8a" stroke-width="1.5"/>
<path d="M1719.7 520.5L1820 520.5M1719.7 520.5L1820 511.5M1719.7 520.5L1820 502.5M1719.7 520.5L1819.7 493.1M1719.7 520.5L1814.1 483.3M1719.7 520.5L1807.8 472.5M1719.7 520.5L1800.5 459.8M1719.7 520.5L1789.9 445.2M1719.7 520.5L1770.9 434.3M1719.7 520.5L1748.7 421.4M1719.7 520.5L1719.7 420.2M1719.7 520.5L1690.7 421.4M1719.7 520.5L1668.5 434.3M1719.7 520.5L1649.5 445.2M1719.7 520.5L1638.9 459.8M1719.7 520.5L1631.6 472.5M1719.7 520.5L1625.3 483.3M1719.7 520.5L1619.7 493.1M1719.7 520.5L1619.4 502.5M1719.7 520.5L1619.4 511.5M1719.7 520.5L1619.4 520.5M1719.7 520.5L1619.4 529.5M1719.7 520.5L1619.4 538.5M1719.7 520.5L1619.7 547.9M1719.7 520.5L1625.3 557.7M1719.7 520.5L1631.6 568.5M1719.7 520.5L1638.9 581.2M1719.7 520.5L1649.5 595.8M1719.7 520.5L1668.5 606.7M1719.7 520.5L1690.7 619.6M1719.7 520.5L1719.7 620.8M1719.7 520.5L1748.7 619.6M1719.7 520.5L1770.9 606.7M1719.7 520.5L1789.9 595.8M1719.7 520.5L1800.5 581.2M1719.7 520.5L1807.8 568.5M1719.7 520.5L1814.1 557.7M1719.7 520.5L1819.7 547.9M1719.7 520.5L1820 538.5M1719.7 520.5L1820 529.5" stroke="url(#lg39)" stroke-width="1.35" fill="none"/>
<ellipse cx="1719.7" cy="520.5" rx="27" ry="14" fill="url(#glowA)"/>
<circle cx="1719.7" cy="520.5" r="27" fill="none" stroke="#222" stroke-width="1"/>
<polygon points="1594.2,817.8 1624.6,765.1 1677.3,734.7 1738.1,734.7 1790.8,765.1 1799,776.9 1828.7,828.5 1828.7,887.9 1799,939.5 1747.4,969.2 1688,969.2 1636.4,939.5 1624.6,931.3 1594.2,878.6" fill="#c3c3cb" />
<polygon points="1833,890.6 1802.6,943.1 1750.1,973.5 1689.3,973.5 1636.8,943.1 1606.4,890.6 1606.4,829.8 1636.8,777.3 1689.3,746.9 1750.1,746.9 1802.6,777.3 1833,829.8" fill="#f6f6f6" stroke="#8c8c8c" stroke-width="1.4"/>
<polygon points="1830.4,889.9 1800.7,941.2 1749.4,970.9 1690,970.9 1638.7,941.2 1609,889.9 1609,830.5 1638.7,779.2 1690,749.5 1749.4,749.5 1800.7,779.2 1830.4,830.5" fill="none" stroke="#a2a2a2" stroke-width="1.2"/>
<polygon points="1827.5,889.1 1798.6,939.1 1748.6,968 1690.8,968 1640.8,939.1 1611.9,889.1 1611.9,831.3 1640.8,781.3 1690.8,752.4 1748.6,752.4 1798.6,781.3 1827.5,831.3" fill="none" stroke="#a2a2a2" stroke-width="1.2"/>
<polygon points="1824,888.1 1796.1,936.6 1747.6,964.5 1691.8,964.5 1643.3,936.6 1615.4,888.1 1615.4,832.3 1643.3,783.8 1691.8,755.9 1747.6,755.9 1796.1,783.8 1824,832.3" fill="url(#detbg)" stroke="#8a8a8a" stroke-width="1.5"/>
<path d="M1719.7 860.2L1820 860.2M1719.7 860.2L1820 844.3M1719.7 860.2L1817.2 828.5M1719.7 860.2L1809.2 814.6M1719.7 860.2L1801.3 800.9M1719.7 860.2L1793.1 786.8M1719.7 860.2L1779 778.6M1719.7 860.2L1765.3 770.7M1719.7 860.2L1751.4 762.7M1719.7 860.2L1735.6 759.9M1719.7 860.2L1719.7 759.9M1719.7 860.2L1703.8 759.9M1719.7 860.2L1688 762.7M1719.7 860.2L1674.1 770.7M1719.7 860.2L1660.4 778.6M1719.7 860.2L1646.3 786.8M1719.7 860.2L1638.1 800.9M1719.7 860.2L1630.2 814.6M1719.7 860.2L1622.2 828.5M1719.7 860.2L1619.4 844.3M1719.7 860.2L1619.4 860.2M1719.7 860.2L1619.4 876.1M1719.7 860.2L1622.2 891.9M1719.7 860.2L1630.2 905.8M1719.7 860.2L1638.1 919.5M1719.7 860.2L1646.3 933.6M1719.7 860.2L1660.4 941.8M1719.7 860.2L1674.1 949.7M1719.7 860.2L1688 957.7M1719.7 860.2L1703.8 960.5M1719.7 860.2L1719.7 960.5M1719.7 860.2L1735.6 960.5M1719.7 860.2L1751.4 957.7M1719.7 860.2L1765.3 949.7M1719.7 860.2L1779 941.8M1719.7 860.2L1793.1 933.6M1719.7 860.2L1801.3 919.5M1719.7 860.2L1809.2 905.8M1719.7 860.2L1817.2 891.9M1719.7 860.2L1820 876.1" stroke="url(#lg40)" stroke-width="1.35" fill="none"/>
<ellipse cx="1719.7" cy="860.2" rx="19" ry="19" fill="url(#glowB)"/>
<circle cx="1719.7" cy="860.2" r="27" fill="none" stroke="#222" stroke-width="1"/>
<path d="M1831.5 458 C1812 422 1775 386 1727 379.5" fill="none" stroke="#8c8c8c" stroke-width="1.6"/>
<polygon points="1721.5,379 1731.9,376.1 1728.5,379.7 1731,384" fill="#8c8c8c" />
<text x="1780" y="388" font-size="26" text-anchor="start" fill="#000" ><tspan font-family='"Liberation Serif", serif' font-style="italic" font-size="26">&#981;</tspan></text>
<line x1="1601" y1="622" x2="1601" y2="605" stroke="#3f4c66" stroke-width="1.5"/>
<polygon points="1601,601 1604.5,610 1601,607.3 1597.5,610" fill="#3f4c66" />
<line x1="1601" y1="622" x2="1615" y2="622" stroke="#3f4c66" stroke-width="1.5"/>
<polygon points="1619,622 1610,625.5 1612.7,622 1610,618.5" fill="#3f4c66" />
<text x="1603.5" y="606" font-size="21" text-anchor="start" fill="#222" ><tspan font-style="italic">y</tspan></text>
<text x="1622.5" y="627.5" font-size="21" text-anchor="start" fill="#222" ><tspan font-style="italic">x</tspan></text>
<text transform="translate(10.5 212) scale(1 1)" font-size="29" font-weight="bold" stroke="#000" stroke-width="1.1" stroke-linejoin="round">a</text>
<text transform="translate(549 37.8) scale(1 0.89)" font-size="29" font-weight="bold" stroke="#000" stroke-width="1.1" stroke-linejoin="round">b</text>
<text transform="translate(1580.7 37.4) scale(1 0.88)" font-size="29" font-weight="bold" stroke="#000" stroke-width="1.1" stroke-linejoin="round">c</text>
<text transform="translate(421 379.6) scale(1 0.89)" font-size="29" font-weight="bold" stroke="#000" stroke-width="1.1" stroke-linejoin="round">d</text>
<text transform="translate(731.5 379) scale(1 0.9)" font-size="29" font-weight="bold" stroke="#000" stroke-width="1.1" stroke-linejoin="round">e</text>
<text transform="translate(1210 379.6) scale(1 0.89)" font-size="29" font-weight="bold" stroke="#000" stroke-width="1.1" stroke-linejoin="round">f</text>
<text transform="translate(1581 378.3) scale(1 0.89)" font-size="29" font-weight="bold" stroke="#000" stroke-width="1.1" stroke-linejoin="round">g</text>
<text x="11" y="435" font-size="22" text-anchor="start" fill="#000" textLength="264" lengthAdjust="spacingAndGlyphs" >Prolate-deformed nucleus</text>
<polygon points="222.1,261.1 360.6,198.5 437.5,163.7 484,143.6 522.4,127.5 522.9,128.6 485.2,146.3 439.1,167.3 361.6,200.9 222.3,261.5" fill="#262626" />
<polygon points="530.9,124.4 521.1,134.5 520.4,129 516.9,124.9" fill="#262626" />
<text x="257.5" y="230.0" font-size="22" text-anchor="start" fill="#000" transform="rotate(-23.92 257.5 230.0)" textLength="205" lengthAdjust="spacingAndGlyphs" >Low-energy method</text>
<text x="267.7" y="275.0" font-size="22" text-anchor="start" fill="#000" transform="rotate(-23.92 267.7 275.0)" textLength="231" lengthAdjust="spacingAndGlyphs" >&lt;100 MeV per nucleon</text>
<polygon points="158.4,461.9 357.5,647.4 359.7,645 158.6,461.7" fill="#3f4c66" />
<text x="173.1" y="456.2" font-size="22" text-anchor="start" fill="#000" transform="rotate(42.66 173.1 456.2)" textLength="225" lengthAdjust="spacingAndGlyphs" >&#8805;100 GeV per nucleon</text>
<text x="151.1" y="496.4" font-size="22" text-anchor="start" fill="#000" transform="rotate(42.66 151.1 496.4)" textLength="209" lengthAdjust="spacingAndGlyphs" >High-energy method</text>
<polygon points="358.8,646.3 413.5,563.2 411,561.6 358.4,646.1" fill="#3f4c66" />
<polygon points="416.6,555.7 413.3,570.2 410.9,564.5 404.8,564.8" fill="#3f4c66" />
<polygon points="358.4,646.3 396.1,774.1 399,773.2 358.8,646.1" fill="#3f4c66" />
<polygon points="399.9,781.3 391,769.4 396.8,771.3 400.6,766.4" fill="#3f4c66" />
<text x="17.5" y="1002.4" font-size="22.3" text-anchor="start" fill="#000" textLength="272.5" lengthAdjust="spacingAndGlyphs" >1 fm/<tspan font-style="italic">c</tspan> = 3 &#215; 10<tspan font-size="16" dy="-9.5">&#8722;24</tspan><tspan dy="9.5" font-size="1">&#8203;</tspan> seconds</text>
<text x="88" y="1034.3" font-size="22.3" text-anchor="start" fill="#000" textLength="233" lengthAdjust="spacingAndGlyphs" >= 3 &#215; 10<tspan font-size="16" dy="-9.5">&#8722;6</tspan><tspan dy="9.5" font-size="1">&#8203;</tspan> attoseconds</text>
<text x="88" y="1065.7" font-size="22.3" text-anchor="start" fill="#000" textLength="181.5" lengthAdjust="spacingAndGlyphs" >= 3 yoctoseconds</text>
<text x="692.4" y="37.5" font-size="22.3" text-anchor="start" fill="#000" textLength="368" lengthAdjust="spacingAndGlyphs" >Quantum fluctuations in orientations</text>
<text x="716.7" y="202.5" font-size="22.3" text-anchor="start" fill="#000" textLength="131.3" lengthAdjust="spacingAndGlyphs" >Time scale: <tspan font-family='"Liberation Serif", serif' font-style="italic" font-size="22">&#964;</tspan></text>
<text x="874.2" y="202.5" font-size="22.3" text-anchor="start" fill="#000" textLength="183" lengthAdjust="spacingAndGlyphs" ><tspan font-style="italic">I</tspan>/<tspan font-family='"Liberation Serif", serif' font-style="italic" font-size="21">&#295;</tspan> <tspan font-size="25" dy="1">~</tspan><tspan dy="-1" font-size="1">&#8203;</tspan> 10<tspan font-size="16" dy="-9.5">3</tspan><tspan dy="9.5" font-size="1">&#8203;</tspan>&#8211;10<tspan font-size="16" dy="-9.5">4</tspan><tspan dy="9.5" font-size="1">&#8203;</tspan> fm/<tspan font-style="italic">c</tspan></text>
<text x="1307.4" y="208.3" font-size="22.3" text-anchor="middle" fill="#000" textLength="264" lengthAdjust="spacingAndGlyphs" >Coherent superposition of</text>
<text x="1307.6" y="233.6" font-size="22.3" text-anchor="middle" fill="#000" textLength="368.7" lengthAdjust="spacingAndGlyphs" >wavefunctions probed at low energy</text>
<line x1="1467" y1="106.6" x2="1517" y2="106.6" stroke="#3f4c66" stroke-width="1.6"/><polygon points="1522,106.6 1511,110.6 1514.3,106.6 1511,102.6" fill="#3f4c66" />
<rect x="1621" y="41.6" width="4.3" height="4.2" fill="#000"/>
<rect x="1621" y="55.6" width="4.3" height="4.2" fill="#000"/>
<rect x="1621" y="69.5" width="4.3" height="4.2" fill="#000"/>
<text x="1645.3" y="48.5" font-size="22" text-anchor="start" fill="#000" ><tspan font-style="italic">E</tspan><tspan font-size="14" dy="6"><tspan font-style="italic">j</tspan></tspan><tspan dy="-6" font-size="1">&#8203;</tspan> =</text>
<text x="1696" y="34.7" font-size="22.3" text-anchor="start" fill="#000" textLength="99.7" lengthAdjust="spacingAndGlyphs" ><tspan font-family='"Liberation Serif", serif' font-style="italic" font-size="22">&#295;</tspan><tspan font-size="15" dy="-10">2</tspan><tspan dy="10" font-size="1">&#8203;</tspan> <tspan font-style="italic">J</tspan>(<tspan font-style="italic">J</tspan> + 1)</text>
<line x1="1694.9" y1="43" x2="1798.9" y2="43" stroke="#000" stroke-width="1.3"/>
<text x="1746" y="65.1" font-size="22.3" text-anchor="middle" fill="#000" >2<tspan font-style="italic">I</tspan></text>
<text x="1580.7" y="92.2" font-size="22.3" text-anchor="start" fill="#000" >6<tspan font-size="15" dy="-9.5">+</tspan><tspan dy="9.5" font-size="1">&#8203;</tspan></text>
<line x1="1609.8" y1="86.8" x2="1706.4" y2="86.8" stroke="#000" stroke-width="1.5"/>
<text x="1713.4" y="92.6" font-size="22.3" text-anchor="start" fill="#000" textLength="109.3" lengthAdjust="spacingAndGlyphs" >0.307 MeV</text>
<text x="1580.7" y="157.5" font-size="22.3" text-anchor="start" fill="#000" >4<tspan font-size="15" dy="-9.5">+</tspan><tspan dy="9.5" font-size="1">&#8203;</tspan></text>
<line x1="1609.8" y1="152.9" x2="1706.4" y2="152.9" stroke="#000" stroke-width="1.5"/>
<text x="1713.4" y="157.5" font-size="22.3" text-anchor="start" fill="#000" textLength="109.3" lengthAdjust="spacingAndGlyphs" >0.148 MeV</text>
<text x="1580.7" y="199.8" font-size="22.3" text-anchor="start" fill="#000" >2<tspan font-size="15" dy="-9.5">+</tspan><tspan dy="9.5" font-size="1">&#8203;</tspan></text>
<line x1="1609.8" y1="195.2" x2="1706.4" y2="195.2" stroke="#000" stroke-width="1.5"/>
<text x="1713.4" y="200.7" font-size="22.3" text-anchor="start" fill="#000" textLength="109.3" lengthAdjust="spacingAndGlyphs" >0.045 MeV</text>
<text x="1580.7" y="222" font-size="22.3" text-anchor="start" fill="#000" >0<tspan font-size="15" dy="-9.5">+</tspan><tspan dy="9.5" font-size="1">&#8203;</tspan></text>
<line x1="1609.8" y1="213" x2="1706.4" y2="213" stroke="#000" stroke-width="1.5"/>
<text x="1586.7" y="258.6" font-size="22.3" text-anchor="start" fill="#000" textLength="235.6" lengthAdjust="spacingAndGlyphs" >Rotational band of <tspan font-size="15.5" dy="-9.5">238</tspan><tspan dy="9.5" font-size="1">&#8203;</tspan>U</text>
<text x="501" y="593.5" font-size="22.3" text-anchor="middle" fill="#000" textLength="114.8" lengthAdjust="spacingAndGlyphs" >Body&#8211;body</text>
<text x="500.5" y="619.5" font-size="22.3" text-anchor="middle" fill="#000" textLength="132" lengthAdjust="spacingAndGlyphs" >configuration</text>
<text x="631.6" y="672.7" font-size="22.3" text-anchor="middle" fill="#000" textLength="111" lengthAdjust="spacingAndGlyphs" >Boosted to</text>
<text x="631.2" y="706.3" font-size="22.3" text-anchor="middle" fill="#000" textLength="253.5" lengthAdjust="spacingAndGlyphs" >relativistic speed <tspan font-family='"Liberation Serif", serif' font-style="italic" font-size="23">&#915;</tspan> &#8805; 100</text>
<text x="492.5" y="933.8" font-size="25" text-anchor="middle" fill="#000" textLength="75.7" lengthAdjust="spacingAndGlyphs" >Tip&#8211;tip</text>
<text x="492.5" y="959.7" font-size="25" text-anchor="middle" fill="#000" textLength="145.4" lengthAdjust="spacingAndGlyphs" >configuration</text>
<line x1="656" y1="511.5" x2="706" y2="511.5" stroke="#3f4c66" stroke-width="1.6"/><polygon points="711,511.5 700,515.5 703.3,511.5 700,507.5" fill="#3f4c66" />
<line x1="656" y1="881" x2="706" y2="881" stroke="#3f4c66" stroke-width="1.6"/><polygon points="711,881 700,885 703.3,881 700,877" fill="#3f4c66" />
<text x="1106" y="672.7" font-size="25" text-anchor="middle" fill="#000" textLength="176.7" lengthAdjust="spacingAndGlyphs" >Pressure-driven</text>
<text x="1105.6" y="706.2" font-size="25" text-anchor="middle" fill="#000" textLength="281.7" lengthAdjust="spacingAndGlyphs" >hydrodynamic expansion</text>
<line x1="1079" y1="511" x2="1128" y2="511" stroke="#3f4c66" stroke-width="1.6"/><polygon points="1133,511 1122,515 1125.3,511 1122,507" fill="#3f4c66" />
<line x1="1079" y1="881.4" x2="1128" y2="881.4" stroke="#3f4c66" stroke-width="1.6"/><polygon points="1133,881.4 1122,885.4 1125.3,881.4 1122,877.4" fill="#3f4c66" />
<text x="666.4" y="1048.6" font-size="22" text-anchor="start" fill="#000" textLength="327" lengthAdjust="spacingAndGlyphs" >Time scale: <tspan font-family='"Liberation Serif", serif' font-style="italic" font-size="22">&#964;</tspan> <tspan font-size="25" dy="1">~</tspan><tspan dy="-1" font-size="1">&#8203;</tspan> 2<tspan font-style="italic">R</tspan><tspan font-size="14" dy="5">0</tspan><tspan dy="-5" font-size="1">&#8203;</tspan>/<tspan font-family='"Liberation Serif", serif' font-style="italic" font-size="23">&#915;</tspan> <tspan font-size="25" dy="1">~</tspan><tspan dy="-1" font-size="1">&#8203;</tspan> 0.1 fm/<tspan font-style="italic">c</tspan></text>
<text x="881.7" y="1076.2" font-size="22.3" text-anchor="middle" fill="#000" textLength="92.6" lengthAdjust="spacingAndGlyphs" >exposure</text>
<text x="1500.3" y="672.8" font-size="22.4" text-anchor="middle" fill="#000" textLength="173.5" lengthAdjust="spacingAndGlyphs" >Particlization and</text>
<text x="1500" y="707" font-size="22.4" text-anchor="middle" fill="#000" textLength="145" lengthAdjust="spacingAndGlyphs" >free streaming</text>
<line x1="1472.5" y1="511" x2="1522.5" y2="511" stroke="#3f4c66" stroke-width="1.6"/><polygon points="1527.5,511 1516.5,515 1519.8,511 1516.5,507" fill="#3f4c66" />
<line x1="1472.5" y1="881.4" x2="1522.5" y2="881.4" stroke="#3f4c66" stroke-width="1.6"/><polygon points="1527.5,881.4 1516.5,885.4 1519.8,881.4 1516.5,877.4" fill="#3f4c66" />
<text x="1288.9" y="1048.5" font-size="22" text-anchor="middle" fill="#000" textLength="114" lengthAdjust="spacingAndGlyphs" ><tspan font-family='"Liberation Serif", serif' font-style="italic" font-size="22">&#964;</tspan> <tspan font-size="25" dy="1">~</tspan><tspan dy="-1" font-size="1">&#8203;</tspan> 10 fm/<tspan font-style="italic">c</tspan></text>
<text x="1289.3" y="1076.2" font-size="22.3" text-anchor="middle" fill="#000" textLength="104" lengthAdjust="spacingAndGlyphs" >expansion</text>
<text x="1714.3" y="1048.5" font-size="22" text-anchor="middle" fill="#000" textLength="132" lengthAdjust="spacingAndGlyphs" ><tspan font-family='"Liberation Serif", serif' font-style="italic" font-size="22">&#964;</tspan> <tspan font-size="25" dy="1">~</tspan><tspan dy="-1" font-size="1">&#8203;</tspan> 10<tspan font-size="16" dy="-9.5">15</tspan><tspan dy="9.5" font-size="1">&#8203;</tspan> fm/<tspan font-style="italic">c</tspan></text>
<text x="1714" y="1076.2" font-size="22.3" text-anchor="middle" fill="#000" textLength="94" lengthAdjust="spacingAndGlyphs" >detection</text>
</svg>
</body></html>
